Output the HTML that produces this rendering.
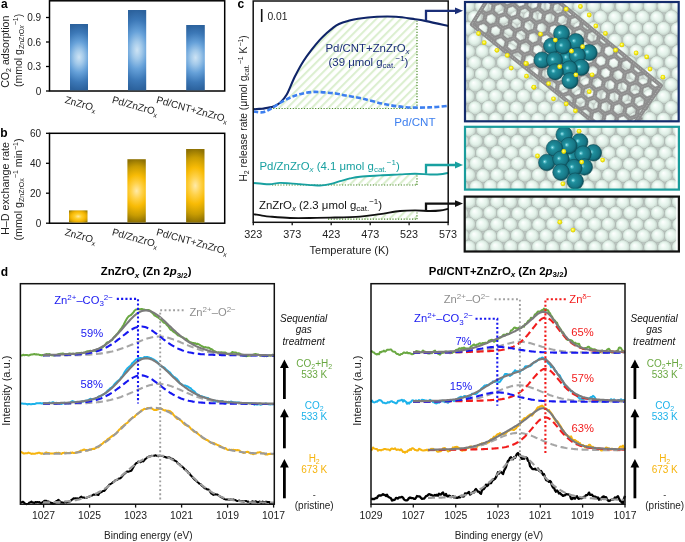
<!DOCTYPE html>
<html><head><meta charset="utf-8"><style>
html,body{margin:0;padding:0;background:#fff;width:685px;height:542px;overflow:hidden}
svg{display:block;will-change:transform}
text{font-family:"Liberation Sans",sans-serif}
</style></head><body>
<svg width="685" height="542" viewBox="0 0 685 542" font-family="Liberation Sans, sans-serif">
<defs>
<radialGradient id="gblue" cx="0.5" cy="0.5" r="1" gradientUnits="objectBoundingBox" gradientTransform="translate(0.5 0.5) scale(1.2 0.5) translate(-0.5 -0.5)">
<stop offset="0" stop-color="#cde3f4"/><stop offset="0.22" stop-color="#a2c9ea"/><stop offset="0.47" stop-color="#66a1d9"/><stop offset="0.76" stop-color="#3c78b7"/><stop offset="1" stop-color="#2c629d"/></radialGradient>
<radialGradient id="ggold" cx="0.5" cy="0.5" r="1" gradientUnits="objectBoundingBox" gradientTransform="translate(0.5 0.5) scale(1.2 0.5) translate(-0.5 -0.5)">
<stop offset="0" stop-color="#ffeaa8"/><stop offset="0.25" stop-color="#ffd24a"/><stop offset="0.5" stop-color="#f8bb05"/><stop offset="0.78" stop-color="#c89c02"/><stop offset="1" stop-color="#8f7203"/></radialGradient>
<radialGradient id="ggold2" cx="0.5" cy="0.5" r="0.62" gradientUnits="objectBoundingBox">
<stop offset="0" stop-color="#ffe8a0"/><stop offset="0.3" stop-color="#ffd02c"/><stop offset="0.62" stop-color="#f7b806"/><stop offset="0.85" stop-color="#d2a002"/><stop offset="1" stop-color="#a08004"/></radialGradient>
<radialGradient id="gsph" cx="0.5" cy="0.5" r="0.5" fx="0.36" fy="0.32">
<stop offset="0" stop-color="#ffffff"/><stop offset="0.3" stop-color="#f1faf5"/><stop offset="0.66" stop-color="#e0f0e7"/><stop offset="0.88" stop-color="#cad8d0"/><stop offset="1" stop-color="#aab5af"/></radialGradient>
<radialGradient id="gpd" cx="0.47" cy="0.45" r="0.56" fx="0.36" fy="0.45">
<stop offset="0" stop-color="#c8f6fa"/><stop offset="0.1" stop-color="#62c4d0"/><stop offset="0.26" stop-color="#20909e"/><stop offset="0.75" stop-color="#167584"/><stop offset="1" stop-color="#0b4954"/></radialGradient>
<radialGradient id="gy" cx="0.45" cy="0.42" r="0.6">
<stop offset="0" stop-color="#fffcb0"/><stop offset="0.45" stop-color="#f7ee14"/><stop offset="1" stop-color="#d2c200"/></radialGradient>
<pattern id="hatch" patternUnits="userSpaceOnUse" width="5.8" height="7" patternTransform="rotate(45)">
<rect x="0" y="0" width="2.1" height="7" fill="#dcefd0"/></pattern>
<pattern id="hex" patternUnits="userSpaceOnUse" width="22.200" height="12.817" patternTransform="rotate(40)">
<path d="M7.40,0.00 L3.70,6.41 L-3.70,6.41 L-7.40,0.00 L-3.70,-6.41 L3.70,-6.41 Z M29.60,0.00 L25.90,6.41 L18.50,6.41 L14.80,0.00 L18.50,-6.41 L25.90,-6.41 Z M7.40,12.82 L3.70,19.23 L-3.70,19.23 L-7.40,12.82 L-3.70,6.41 L3.70,6.41 Z M29.60,12.82 L25.90,19.23 L18.50,19.23 L14.80,12.82 L18.50,6.41 L25.90,6.41 Z M18.50,6.41 L14.80,12.82 L7.40,12.82 L3.70,6.41 L7.40,0.00 L14.80,0.00 Z M18.50,-6.41 L14.80,0.00 L7.40,0.00 L3.70,-6.41 L7.40,-12.82 L14.80,-12.82 Z M18.50,19.23 L14.80,25.63 L7.40,25.63 L3.70,19.23 L7.40,12.82 L14.80,12.82 Z" fill="none" stroke="#8a8a8a" stroke-width="4.4" stroke-linejoin="round"/><path d="M7.40,0.00 L3.70,6.41 L-3.70,6.41 L-7.40,0.00 L-3.70,-6.41 L3.70,-6.41 Z M29.60,0.00 L25.90,6.41 L18.50,6.41 L14.80,0.00 L18.50,-6.41 L25.90,-6.41 Z M7.40,12.82 L3.70,19.23 L-3.70,19.23 L-7.40,12.82 L-3.70,6.41 L3.70,6.41 Z M29.60,12.82 L25.90,19.23 L18.50,19.23 L14.80,12.82 L18.50,6.41 L25.90,6.41 Z M18.50,6.41 L14.80,12.82 L7.40,12.82 L3.70,6.41 L7.40,0.00 L14.80,0.00 Z M18.50,-6.41 L14.80,0.00 L7.40,0.00 L3.70,-6.41 L7.40,-12.82 L14.80,-12.82 Z M18.50,19.23 L14.80,25.63 L7.40,25.63 L3.70,19.23 L7.40,12.82 L14.80,12.82 Z" fill="none" stroke="#a2a2a2" stroke-width="1" stroke-dasharray="1.4,1.6"/></pattern>
<clipPath id="cb1"><rect x="465" y="2" width="214" height="119"/></clipPath>
<clipPath id="cb2"><rect x="465" y="127" width="214" height="63"/></clipPath>
<clipPath id="cb3"><rect x="465" y="197" width="214" height="55"/></clipPath>
<marker id="ah" markerWidth="6" markerHeight="6" refX="5" refY="3" orient="auto" markerUnits="userSpaceOnUse"><path d="M0,0 L6,3 L0,6 z"/></marker>
</defs>
<rect x="49.5" y="0.8" width="175.2" height="90.2" fill="none" stroke="#000" stroke-width="1.5"/>
<line x1="46" y1="91" x2="49.5" y2="91" stroke="#000" stroke-width="1.3"/>
<text x="41.2" y="94.5" font-size="10" text-anchor="end" fill="#222" font-weight="normal" font-style="normal" >0</text>
<line x1="46" y1="66.5" x2="49.5" y2="66.5" stroke="#000" stroke-width="1.3"/>
<text x="41.2" y="70.0" font-size="10" text-anchor="end" fill="#222" font-weight="normal" font-style="normal" >0.3</text>
<line x1="46" y1="42" x2="49.5" y2="42" stroke="#000" stroke-width="1.3"/>
<text x="41.2" y="45.5" font-size="10" text-anchor="end" fill="#222" font-weight="normal" font-style="normal" >0.6</text>
<line x1="46" y1="17.5" x2="49.5" y2="17.5" stroke="#000" stroke-width="1.3"/>
<text x="41.2" y="21.0" font-size="10" text-anchor="end" fill="#222" font-weight="normal" font-style="normal" >0.9</text>
<rect x="70" y="24" width="18" height="66.3" fill="url(#gblue)"/>
<rect x="128" y="10" width="18.19999999999999" height="80.3" fill="url(#gblue)"/>
<rect x="186.2" y="25" width="18.600000000000023" height="65.3" fill="url(#gblue)"/>
<text transform="translate(64.2,102.8) rotate(15.5)" font-size="10" text-anchor="start" fill="#222">ZnZrO<tspan font-size="7" dy="2.5">x</tspan></text>
<text transform="translate(111.4,102.8) rotate(15.5)" font-size="10" text-anchor="start" fill="#222">Pd/ZnZrO<tspan font-size="7" dy="2.5">x</tspan></text>
<text transform="translate(155.8,102.8) rotate(15.5)" font-size="10" text-anchor="start" fill="#222">Pd/CNT+ZnZrO<tspan font-size="7" dy="2.5">x</tspan></text>
<rect x="49.5" y="133.3" width="175.2" height="89.89999999999998" fill="none" stroke="#000" stroke-width="1.5"/>
<line x1="46" y1="223.2" x2="49.5" y2="223.2" stroke="#000" stroke-width="1.3"/>
<text x="41.2" y="226.7" font-size="10" text-anchor="end" fill="#222" font-weight="normal" font-style="normal" >0</text>
<line x1="46" y1="193.2" x2="49.5" y2="193.2" stroke="#000" stroke-width="1.3"/>
<text x="41.2" y="196.7" font-size="10" text-anchor="end" fill="#222" font-weight="normal" font-style="normal" >20</text>
<line x1="46" y1="163.3" x2="49.5" y2="163.3" stroke="#000" stroke-width="1.3"/>
<text x="41.2" y="166.8" font-size="10" text-anchor="end" fill="#222" font-weight="normal" font-style="normal" >40</text>
<line x1="46" y1="133.3" x2="49.5" y2="133.3" stroke="#000" stroke-width="1.3"/>
<text x="41.2" y="136.8" font-size="10" text-anchor="end" fill="#222" font-weight="normal" font-style="normal" >60</text>
<rect x="69" y="210.4" width="18.5" height="12.099999999999984" fill="url(#ggold2)"/>
<rect x="127.4" y="159.2" width="18.400000000000006" height="63.3" fill="url(#ggold)"/>
<rect x="186.1" y="149" width="18.400000000000006" height="73.49999999999999" fill="url(#ggold)"/>
<text transform="translate(64.2,235.0) rotate(15.5)" font-size="10" text-anchor="start" fill="#222">ZnZrO<tspan font-size="7" dy="2.5">x</tspan></text>
<text transform="translate(111.4,235.0) rotate(15.5)" font-size="10" text-anchor="start" fill="#222">Pd/ZnZrO<tspan font-size="7" dy="2.5">x</tspan></text>
<text transform="translate(155.8,235.0) rotate(15.5)" font-size="10" text-anchor="start" fill="#222">Pd/CNT+ZnZrO<tspan font-size="7" dy="2.5">x</tspan></text>
<text x="0.9" y="7.9" font-size="12" text-anchor="start" fill="#000" font-weight="bold" font-style="normal" >a</text>
<text x="0.3" y="136.5" font-size="12" text-anchor="start" fill="#000" font-weight="bold" font-style="normal" >b</text>
<text transform="translate(8.6,51.7) rotate(-90)" font-size="10.6" text-anchor="middle" fill="#222">CO<tspan font-size="7" dy="2.5">2</tspan><tspan dy="-2.5"> adsorption</tspan></text>
<text transform="translate(21.8,50.4) rotate(-90)" font-size="10.5" text-anchor="middle" fill="#222">(mmol g<tspan font-size="7" dy="2.5">ZnZrO<tspan font-style="italic">x</tspan></tspan><tspan font-size="7" dy="-6.5">−1</tspan><tspan dy="4">)</tspan></text>
<text transform="translate(8.8,188.5) rotate(-90)" font-size="10.8" text-anchor="middle" fill="#222">H–D exchange rate</text>
<text transform="translate(21.8,189.5) rotate(-90)" font-size="10.7" text-anchor="middle" fill="#222">(mmol g<tspan font-size="7" dy="2.5">ZnZrOx</tspan><tspan font-size="7" dy="-6.5">−1</tspan><tspan dy="4"> min</tspan><tspan font-size="7" dy="-4">−1</tspan><tspan dy="4">)</tspan></text>
<polygon points="270.0,108.5 270.0,107.2 271.0,107.0 272.0,106.9 273.0,106.7 274.0,106.3 275.0,105.7 276.0,105.1 277.0,104.5 278.0,104.0 279.0,103.4 280.0,102.8 281.0,101.6 282.0,100.4 283.0,99.2 284.0,98.0 285.0,96.7 286.0,95.5 287.0,93.9 288.0,91.7 289.0,89.5 290.0,87.3 291.0,85.1 292.0,82.9 293.0,80.7 294.0,78.5 295.0,76.3 296.0,74.5 297.0,72.7 298.0,70.9 299.0,69.1 300.0,67.3 301.0,65.5 302.0,63.7 303.0,61.9 304.0,60.4 305.0,59.0 306.0,57.6 307.0,56.2 308.0,54.8 309.0,53.4 310.0,52.0 311.0,50.6 312.0,49.3 313.0,48.1 314.0,46.9 315.0,45.7 316.0,44.5 317.0,43.3 318.0,42.1 319.0,40.9 320.0,39.7 321.0,38.7 322.0,37.7 323.0,36.7 324.0,35.8 325.0,34.8 326.0,33.8 327.0,32.9 328.0,32.0 329.0,31.2 330.0,30.3 331.0,29.5 332.0,28.6 333.0,27.8 334.0,27.2 335.0,26.5 336.0,25.9 337.0,25.3 338.0,24.6 339.0,24.0 340.0,23.7 341.0,23.3 342.0,23.0 343.0,22.7 344.0,22.3 345.0,22.0 346.0,21.7 347.0,21.3 348.0,21.0 349.0,20.8 350.0,20.5 351.0,20.3 352.0,20.1 353.0,19.9 354.0,19.6 355.0,19.4 356.0,19.2 357.0,18.9 358.0,18.7 359.0,18.6 360.0,18.5 361.0,18.4 362.0,18.3 363.0,18.2 364.0,18.1 365.0,18.0 366.0,17.9 367.0,17.8 368.0,17.7 369.0,17.6 370.0,17.5 371.0,17.4 372.0,17.3 373.0,17.2 374.0,17.1 375.0,17.0 376.0,16.9 377.0,16.8 378.0,16.8 379.0,16.8 380.0,16.8 381.0,16.8 382.0,16.8 383.0,16.8 384.0,16.8 385.0,16.8 386.0,16.8 387.0,16.8 388.0,16.8 389.0,16.8 390.0,16.8 391.0,16.8 392.0,16.8 393.0,16.8 394.0,16.8 395.0,16.8 396.0,16.8 397.0,16.9 398.0,17.1 399.0,17.2 400.0,17.3 401.0,17.4 402.0,17.6 403.0,17.7 404.0,17.8 405.0,17.9 406.0,18.1 407.0,18.2 408.0,18.3 409.0,18.5 410.0,18.6 411.0,18.7 412.0,18.8 413.0,19.0 414.0,19.1 415.0,19.2 416.0,19.4 417.0,19.5 417.0,108.5" fill="url(#hatch)"/>
<polygon points="318.0,185.0 318.0,185.0 319.0,185.0 320.0,185.0 321.0,185.0 322.0,185.0 323.0,185.0 324.0,185.0 325.0,184.9 326.0,184.7 327.0,184.6 328.0,184.4 329.0,184.2 330.0,184.1 331.0,183.9 332.0,183.6 333.0,183.3 334.0,183.0 335.0,182.7 336.0,182.4 337.0,182.1 338.0,181.8 339.0,181.5 340.0,181.2 341.0,180.9 342.0,180.6 343.0,180.4 344.0,180.1 345.0,179.8 346.0,179.5 347.0,179.2 348.0,179.0 349.0,178.7 350.0,178.4 351.0,178.2 352.0,178.1 353.0,177.9 354.0,177.7 355.0,177.6 356.0,177.4 357.0,177.2 358.0,177.0 359.0,176.9 360.0,176.7 361.0,176.6 362.0,176.6 363.0,176.5 364.0,176.4 365.0,176.4 366.0,176.3 367.0,176.2 368.0,176.2 369.0,176.1 370.0,176.1 371.0,176.0 372.0,175.9 373.0,175.9 374.0,175.8 375.0,175.7 376.0,175.7 377.0,175.6 378.0,175.5 379.0,175.5 380.0,175.4 381.0,175.4 382.0,175.3 383.0,175.3 384.0,175.2 385.0,175.2 386.0,175.1 387.0,175.1 388.0,175.0 389.0,175.0 390.0,174.9 391.0,174.9 392.0,174.8 393.0,174.8 394.0,174.7 395.0,174.7 396.0,174.6 397.0,174.6 398.0,174.5 399.0,174.5 400.0,174.4 401.0,174.4 402.0,174.3 403.0,174.3 404.0,174.2 405.0,174.2 406.0,174.1 407.0,174.1 408.0,174.0 409.0,174.0 410.0,173.9 411.0,173.9 412.0,173.8 413.0,173.8 414.0,173.7 415.0,173.7 416.0,173.8 417.0,173.8 417.0,185.0" fill="url(#hatch)"/>
<polygon points="340.0,219.2 340.0,217.3 341.0,217.2 342.0,217.2 343.0,217.2 344.0,217.1 345.0,217.1 346.0,217.1 347.0,217.0 348.0,217.0 349.0,217.0 350.0,216.9 351.0,216.9 352.0,216.9 353.0,216.8 354.0,216.8 355.0,216.8 356.0,216.7 357.0,216.7 358.0,216.7 359.0,216.6 360.0,216.6 361.0,216.5 362.0,216.4 363.0,216.2 364.0,216.1 365.0,216.0 366.0,215.9 367.0,215.7 368.0,215.6 369.0,215.5 370.0,215.4 371.0,215.2 372.0,215.1 373.0,215.0 374.0,214.9 375.0,214.7 376.0,214.6 377.0,214.5 378.0,214.4 379.0,214.2 380.0,214.1 381.0,213.9 382.0,213.8 383.0,213.6 384.0,213.5 385.0,213.3 386.0,213.2 387.0,213.0 388.0,212.9 389.0,212.7 390.0,212.6 391.0,212.4 392.0,212.2 393.0,212.1 394.0,211.9 395.0,211.8 396.0,211.6 397.0,211.5 398.0,211.3 399.0,211.2 400.0,211.0 401.0,211.0 402.0,210.9 403.0,210.9 404.0,210.8 405.0,210.8 406.0,210.8 407.0,210.7 408.0,210.7 409.0,210.6 410.0,210.6 411.0,210.6 412.0,210.5 413.0,210.5 414.0,210.4 415.0,210.4 416.0,210.4 417.0,210.5 417.0,219.2" fill="url(#hatch)"/>
<line x1="253.5" y1="108.5" x2="417" y2="108.5" stroke="#4d8a2c" stroke-width="1.2" stroke-dasharray="1.2,1.6"/>
<line x1="272" y1="185" x2="417" y2="185" stroke="#4d8a2c" stroke-width="1.2" stroke-dasharray="1.2,1.6"/>
<line x1="328" y1="219.2" x2="417" y2="219.2" stroke="#4d8a2c" stroke-width="1.2" stroke-dasharray="1.2,1.6"/>
<line x1="417" y1="108.5" x2="417" y2="21.0499999999693" stroke="#4d8a2c" stroke-width="1.2" stroke-dasharray="1.2,1.6"/>
<line x1="417" y1="185" x2="417" y2="175.30666666665954" stroke="#4d8a2c" stroke-width="1.2" stroke-dasharray="1.2,1.6"/>
<line x1="417" y1="219.2" x2="417" y2="211.97999999999467" stroke="#4d8a2c" stroke-width="1.2" stroke-dasharray="1.2,1.6"/>
<path d="M253.2,109.3 C254.8,109.2 259.3,109.0 262.7,108.6 C266.1,108.1 270.5,107.6 273.4,106.6 C276.3,105.6 277.8,104.8 280.0,102.8 C282.2,100.8 284.1,99.2 286.6,94.8 C289.1,90.4 292.1,82.0 294.9,76.5 C297.7,71.0 300.4,65.9 303.2,61.5 C306.0,57.1 308.7,53.5 311.5,49.9 C314.3,46.3 317.3,42.7 319.8,39.9 C322.3,37.1 324.3,35.3 326.5,33.3 C328.7,31.3 330.9,29.4 333.0,27.8 C335.1,26.2 336.5,25.1 339.0,24.0 C341.5,22.9 344.8,21.9 348.0,21.0 C351.2,20.1 353.2,19.4 358.0,18.7 C362.8,18.0 370.7,17.1 377.0,16.8 C383.3,16.5 389.6,16.4 395.9,16.8 C402.2,17.2 409.8,18.5 414.9,19.2 C420.0,19.9 420.8,20.0 426.3,21.1 C431.8,22.2 444.4,25.1 448.0,25.9" fill="none" stroke="#0f2468" stroke-width="2.1"/>
<path d="M253.2,111.5 C254.8,111.6 259.7,112.8 262.7,112.3 C265.7,111.8 268.0,110.2 271.2,108.5 C274.4,106.8 278.2,103.9 281.8,101.9 C285.4,99.9 289.0,98.0 292.5,96.6 C296.0,95.2 299.5,94.2 303.0,93.4 C306.5,92.6 310.1,92.1 313.7,91.9 C317.2,91.7 320.8,92.2 324.3,92.4 C327.9,92.7 331.5,92.9 335.0,93.4 C338.5,93.9 341.0,94.7 345.5,95.5 C350.0,96.3 355.6,97.1 362.0,98.5 C368.4,99.9 376.7,102.5 384.0,104.0 C391.3,105.5 398.6,106.6 406.0,107.2 C413.4,107.8 421.6,107.6 428.6,107.4 C435.6,107.2 444.8,106.1 448.0,105.8" fill="none" stroke="#3d7fef" stroke-width="2.6" stroke-dasharray="5,2.2"/>
<path d="M253.2,183.0 C254.7,183.1 259.2,183.6 262.0,183.8 C264.8,184.0 267.0,184.3 270.0,184.2 C273.0,184.0 276.7,183.0 280.0,182.9 C283.3,182.8 286.7,183.2 290.0,183.4 C293.3,183.6 296.3,183.9 300.0,184.2 C303.7,184.5 308.3,184.9 312.0,185.1 C315.7,185.3 318.8,185.6 322.0,185.4 C325.2,185.2 328.0,184.6 331.0,183.9 C334.0,183.2 336.8,182.1 340.0,181.2 C343.2,180.3 346.7,179.2 350.0,178.4 C353.3,177.7 355.0,177.2 360.0,176.7 C365.0,176.2 373.3,175.8 380.0,175.4 C386.7,175.0 394.2,174.7 400.0,174.4 C405.8,174.1 410.0,173.7 415.0,173.7 C420.0,173.7 425.8,174.4 430.0,174.5 C434.2,174.6 437.0,174.6 440.0,174.3 C443.0,174.1 446.7,173.2 448.0,173.0" fill="none" stroke="#18a0a0" stroke-width="1.9"/>
<path d="M253.2,214.1 C254.7,214.3 259.2,215.2 262.0,215.6 C264.8,216.0 265.3,216.2 270.0,216.6 C274.7,217.0 283.3,217.8 290.0,218.0 C296.7,218.2 303.3,218.1 310.0,218.0 C316.7,217.9 321.7,217.8 330.0,217.6 C338.3,217.4 351.7,217.2 360.0,216.6 C368.3,216.0 373.3,215.0 380.0,214.1 C386.7,213.2 394.2,211.6 400.0,211.0 C405.8,210.4 410.0,210.4 415.0,210.4 C420.0,210.4 425.8,211.0 430.0,211.0 C434.2,211.0 437.0,210.9 440.0,210.5 C443.0,210.1 446.7,209.1 448.0,208.8" fill="none" stroke="#111" stroke-width="1.9"/>
<rect x="253.2" y="1" width="195" height="221.3" fill="none" stroke="#111" stroke-width="1.5"/>
<line x1="253.3" y1="222.3" x2="253.3" y2="225.2" stroke="#111" stroke-width="1.3"/>
<text x="253.3" y="237.8" font-size="10.8" text-anchor="middle" fill="#222" font-weight="normal" font-style="normal" >323</text>
<line x1="292.2" y1="222.3" x2="292.2" y2="225.2" stroke="#111" stroke-width="1.3"/>
<text x="292.2" y="237.8" font-size="10.8" text-anchor="middle" fill="#222" font-weight="normal" font-style="normal" >373</text>
<line x1="331.2" y1="222.3" x2="331.2" y2="225.2" stroke="#111" stroke-width="1.3"/>
<text x="331.2" y="237.8" font-size="10.8" text-anchor="middle" fill="#222" font-weight="normal" font-style="normal" >423</text>
<line x1="370.2" y1="222.3" x2="370.2" y2="225.2" stroke="#111" stroke-width="1.3"/>
<text x="370.2" y="237.8" font-size="10.8" text-anchor="middle" fill="#222" font-weight="normal" font-style="normal" >473</text>
<line x1="409.1" y1="222.3" x2="409.1" y2="225.2" stroke="#111" stroke-width="1.3"/>
<text x="409.1" y="237.8" font-size="10.8" text-anchor="middle" fill="#222" font-weight="normal" font-style="normal" >523</text>
<line x1="448.1" y1="222.3" x2="448.1" y2="225.2" stroke="#111" stroke-width="1.3"/>
<text x="448.1" y="237.8" font-size="10.8" text-anchor="middle" fill="#222" font-weight="normal" font-style="normal" >573</text>
<text x="349.3" y="254.4" font-size="11" text-anchor="middle" fill="#222" font-weight="normal" font-style="normal" >Temperature (K)</text>
<text x="237.6" y="7.7" font-size="12" text-anchor="start" fill="#000" font-weight="bold" font-style="normal" >c</text>
<line x1="261.7" y1="9" x2="261.7" y2="22" stroke="#111" stroke-width="1.6"/>
<text x="267.4" y="19.6" font-size="10.3" text-anchor="start" fill="#222" font-weight="normal" font-style="normal" >0.01</text>
<text transform="translate(246.8,108.4) rotate(-90)" font-size="10.3" text-anchor="middle" fill="#222">H<tspan font-size="7" dy="2.5">2</tspan><tspan dy="-2.5"> release rate (μmol g</tspan><tspan font-size="7" dy="2.5">cat.</tspan><tspan font-size="7" dy="-6.5">−1</tspan><tspan dy="4"> K</tspan><tspan font-size="7" dy="-4">−1</tspan><tspan dy="4">)</tspan></text>
<text x="325.5" y="51.9" font-size="11.4" fill="#1b2f78">Pd/CNT+ZnZrO<tspan font-size="8" dy="2.5" font-style="italic">x</tspan></text>
<text x="328.5" y="65.5" font-size="11.4" fill="#1b2f78">(39 μmol g<tspan font-size="8" dy="2.5">cat.</tspan><tspan font-size="8" dy="-7">−1</tspan><tspan dy="4.5">)</tspan></text>
<text x="394.3" y="125.8" font-size="11.6" text-anchor="start" fill="#3d7fef" font-weight="normal" font-style="normal" >Pd/CNT</text>
<text x="259.5" y="169.9" font-size="11.4" fill="#18a0a0">Pd/ZnZrO<tspan font-size="8" dy="2.5" font-style="italic">x</tspan><tspan dy="-2.5"> (4.1 μmol g</tspan><tspan font-size="8" dy="2.5">cat.</tspan><tspan font-size="8" dy="-7">−1</tspan><tspan dy="4.5">)</tspan></text>
<text x="259" y="208.5" font-size="11.4" fill="#111">ZnZrO<tspan font-size="8" dy="2.5" font-style="italic">x</tspan><tspan dy="-2.5"> (2.3 μmol g</tspan><tspan font-size="8" dy="2.5">cat.</tspan><tspan font-size="8" dy="-7">−1</tspan><tspan dy="4.5">)</tspan></text>
<path d="M426,20.8 L426,10.8 L456,10.8" fill="none" stroke="#1b2f78" stroke-width="2.3"/>
<path d="M455,7.4 L463,10.8 L455,14.200000000000001 z" fill="#1b2f78"/>
<path d="M426,173.8 L426,165 L456,165" fill="none" stroke="#18a0a0" stroke-width="2.3"/>
<path d="M455,161.6 L463,165 L455,168.4 z" fill="#18a0a0"/>
<path d="M426,211 L426,203.6 L456,203.6" fill="none" stroke="#111" stroke-width="2.3"/>
<path d="M455,200.2 L463,203.6 L455,207.0 z" fill="#111"/>
<g clip-path="url(#cb1)">
<rect x="465" y="2" width="214" height="119.3" fill="#b9c3be"/>
<circle cx="460.8" cy="-5.6" r="7.1" fill="url(#gsph)"/>
<circle cx="475.2" cy="-5.7" r="7.1" fill="url(#gsph)"/>
<circle cx="489.0" cy="-5.4" r="7.1" fill="url(#gsph)"/>
<circle cx="502.6" cy="-5.3" r="7.1" fill="url(#gsph)"/>
<circle cx="516.5" cy="-5.4" r="7.1" fill="url(#gsph)"/>
<circle cx="530.6" cy="-5.7" r="7.1" fill="url(#gsph)"/>
<circle cx="544.9" cy="-5.0" r="7.1" fill="url(#gsph)"/>
<circle cx="558.6" cy="-5.6" r="7.1" fill="url(#gsph)"/>
<circle cx="573.1" cy="-4.9" r="7.1" fill="url(#gsph)"/>
<circle cx="587.1" cy="-5.4" r="7.1" fill="url(#gsph)"/>
<circle cx="601.5" cy="-5.8" r="7.1" fill="url(#gsph)"/>
<circle cx="615.4" cy="-5.5" r="7.1" fill="url(#gsph)"/>
<circle cx="628.6" cy="-5.7" r="7.1" fill="url(#gsph)"/>
<circle cx="642.8" cy="-5.0" r="7.1" fill="url(#gsph)"/>
<circle cx="656.7" cy="-5.2" r="7.1" fill="url(#gsph)"/>
<circle cx="671.1" cy="-5.4" r="7.1" fill="url(#gsph)"/>
<circle cx="685.0" cy="-5.7" r="7.1" fill="url(#gsph)"/>
<circle cx="453.6" cy="5.7" r="7.1" fill="url(#gsph)"/>
<circle cx="468.2" cy="5.9" r="7.1" fill="url(#gsph)"/>
<circle cx="481.8" cy="6.1" r="7.1" fill="url(#gsph)"/>
<circle cx="496.0" cy="5.8" r="7.1" fill="url(#gsph)"/>
<circle cx="510.3" cy="6.2" r="7.1" fill="url(#gsph)"/>
<circle cx="523.7" cy="6.1" r="7.1" fill="url(#gsph)"/>
<circle cx="538.0" cy="6.4" r="7.1" fill="url(#gsph)"/>
<circle cx="552.2" cy="5.8" r="7.1" fill="url(#gsph)"/>
<circle cx="566.5" cy="5.6" r="7.1" fill="url(#gsph)"/>
<circle cx="579.9" cy="6.3" r="7.1" fill="url(#gsph)"/>
<circle cx="593.7" cy="6.0" r="7.1" fill="url(#gsph)"/>
<circle cx="607.5" cy="6.2" r="7.1" fill="url(#gsph)"/>
<circle cx="622.3" cy="6.1" r="7.1" fill="url(#gsph)"/>
<circle cx="636.4" cy="5.8" r="7.1" fill="url(#gsph)"/>
<circle cx="650.2" cy="6.1" r="7.1" fill="url(#gsph)"/>
<circle cx="664.1" cy="6.0" r="7.1" fill="url(#gsph)"/>
<circle cx="678.3" cy="6.4" r="7.1" fill="url(#gsph)"/>
<circle cx="461.0" cy="17.5" r="7.1" fill="url(#gsph)"/>
<circle cx="474.6" cy="17.5" r="7.1" fill="url(#gsph)"/>
<circle cx="489.1" cy="17.8" r="7.1" fill="url(#gsph)"/>
<circle cx="503.3" cy="17.1" r="7.1" fill="url(#gsph)"/>
<circle cx="516.9" cy="17.5" r="7.1" fill="url(#gsph)"/>
<circle cx="530.5" cy="17.3" r="7.1" fill="url(#gsph)"/>
<circle cx="544.7" cy="16.9" r="7.1" fill="url(#gsph)"/>
<circle cx="558.6" cy="17.6" r="7.1" fill="url(#gsph)"/>
<circle cx="572.6" cy="17.0" r="7.1" fill="url(#gsph)"/>
<circle cx="586.9" cy="17.7" r="7.1" fill="url(#gsph)"/>
<circle cx="600.6" cy="17.2" r="7.1" fill="url(#gsph)"/>
<circle cx="615.0" cy="17.7" r="7.1" fill="url(#gsph)"/>
<circle cx="629.3" cy="17.7" r="7.1" fill="url(#gsph)"/>
<circle cx="642.8" cy="17.2" r="7.1" fill="url(#gsph)"/>
<circle cx="656.9" cy="17.7" r="7.1" fill="url(#gsph)"/>
<circle cx="671.5" cy="17.0" r="7.1" fill="url(#gsph)"/>
<circle cx="684.7" cy="17.0" r="7.1" fill="url(#gsph)"/>
<circle cx="453.7" cy="28.6" r="7.1" fill="url(#gsph)"/>
<circle cx="468.1" cy="28.4" r="7.1" fill="url(#gsph)"/>
<circle cx="481.5" cy="28.5" r="7.1" fill="url(#gsph)"/>
<circle cx="495.9" cy="28.7" r="7.1" fill="url(#gsph)"/>
<circle cx="510.5" cy="28.8" r="7.1" fill="url(#gsph)"/>
<circle cx="524.0" cy="28.7" r="7.1" fill="url(#gsph)"/>
<circle cx="538.2" cy="28.2" r="7.1" fill="url(#gsph)"/>
<circle cx="552.4" cy="28.9" r="7.1" fill="url(#gsph)"/>
<circle cx="566.4" cy="28.9" r="7.1" fill="url(#gsph)"/>
<circle cx="579.9" cy="28.5" r="7.1" fill="url(#gsph)"/>
<circle cx="593.6" cy="28.7" r="7.1" fill="url(#gsph)"/>
<circle cx="607.6" cy="28.2" r="7.1" fill="url(#gsph)"/>
<circle cx="621.7" cy="28.3" r="7.1" fill="url(#gsph)"/>
<circle cx="635.8" cy="28.2" r="7.1" fill="url(#gsph)"/>
<circle cx="649.5" cy="28.3" r="7.1" fill="url(#gsph)"/>
<circle cx="663.6" cy="28.5" r="7.1" fill="url(#gsph)"/>
<circle cx="677.5" cy="29.0" r="7.1" fill="url(#gsph)"/>
<circle cx="461.1" cy="39.5" r="7.1" fill="url(#gsph)"/>
<circle cx="474.8" cy="39.7" r="7.1" fill="url(#gsph)"/>
<circle cx="488.9" cy="39.5" r="7.1" fill="url(#gsph)"/>
<circle cx="503.3" cy="40.4" r="7.1" fill="url(#gsph)"/>
<circle cx="517.0" cy="39.9" r="7.1" fill="url(#gsph)"/>
<circle cx="530.6" cy="39.5" r="7.1" fill="url(#gsph)"/>
<circle cx="544.8" cy="39.7" r="7.1" fill="url(#gsph)"/>
<circle cx="559.3" cy="39.6" r="7.1" fill="url(#gsph)"/>
<circle cx="572.5" cy="40.4" r="7.1" fill="url(#gsph)"/>
<circle cx="587.0" cy="39.5" r="7.1" fill="url(#gsph)"/>
<circle cx="601.0" cy="39.4" r="7.1" fill="url(#gsph)"/>
<circle cx="615.0" cy="40.4" r="7.1" fill="url(#gsph)"/>
<circle cx="629.4" cy="40.1" r="7.1" fill="url(#gsph)"/>
<circle cx="642.8" cy="39.8" r="7.1" fill="url(#gsph)"/>
<circle cx="656.7" cy="40.2" r="7.1" fill="url(#gsph)"/>
<circle cx="671.0" cy="40.2" r="7.1" fill="url(#gsph)"/>
<circle cx="684.8" cy="39.6" r="7.1" fill="url(#gsph)"/>
<circle cx="454.3" cy="51.7" r="7.1" fill="url(#gsph)"/>
<circle cx="468.4" cy="51.5" r="7.1" fill="url(#gsph)"/>
<circle cx="482.3" cy="51.4" r="7.1" fill="url(#gsph)"/>
<circle cx="495.7" cy="51.2" r="7.1" fill="url(#gsph)"/>
<circle cx="509.9" cy="50.7" r="7.1" fill="url(#gsph)"/>
<circle cx="523.5" cy="51.0" r="7.1" fill="url(#gsph)"/>
<circle cx="537.8" cy="51.4" r="7.1" fill="url(#gsph)"/>
<circle cx="552.5" cy="51.1" r="7.1" fill="url(#gsph)"/>
<circle cx="566.4" cy="51.7" r="7.1" fill="url(#gsph)"/>
<circle cx="580.5" cy="51.1" r="7.1" fill="url(#gsph)"/>
<circle cx="593.7" cy="50.9" r="7.1" fill="url(#gsph)"/>
<circle cx="607.7" cy="50.9" r="7.1" fill="url(#gsph)"/>
<circle cx="622.1" cy="51.6" r="7.1" fill="url(#gsph)"/>
<circle cx="636.3" cy="51.2" r="7.1" fill="url(#gsph)"/>
<circle cx="650.2" cy="51.5" r="7.1" fill="url(#gsph)"/>
<circle cx="663.6" cy="51.4" r="7.1" fill="url(#gsph)"/>
<circle cx="678.4" cy="51.5" r="7.1" fill="url(#gsph)"/>
<circle cx="461.3" cy="62.5" r="7.1" fill="url(#gsph)"/>
<circle cx="474.7" cy="62.8" r="7.1" fill="url(#gsph)"/>
<circle cx="488.8" cy="62.8" r="7.1" fill="url(#gsph)"/>
<circle cx="503.5" cy="62.4" r="7.1" fill="url(#gsph)"/>
<circle cx="516.9" cy="62.9" r="7.1" fill="url(#gsph)"/>
<circle cx="531.2" cy="62.2" r="7.1" fill="url(#gsph)"/>
<circle cx="544.6" cy="62.2" r="7.1" fill="url(#gsph)"/>
<circle cx="559.4" cy="62.8" r="7.1" fill="url(#gsph)"/>
<circle cx="572.6" cy="62.8" r="7.1" fill="url(#gsph)"/>
<circle cx="587.5" cy="62.7" r="7.1" fill="url(#gsph)"/>
<circle cx="600.9" cy="62.5" r="7.1" fill="url(#gsph)"/>
<circle cx="614.6" cy="62.0" r="7.1" fill="url(#gsph)"/>
<circle cx="629.5" cy="62.6" r="7.1" fill="url(#gsph)"/>
<circle cx="643.0" cy="62.9" r="7.1" fill="url(#gsph)"/>
<circle cx="656.9" cy="62.9" r="7.1" fill="url(#gsph)"/>
<circle cx="671.3" cy="62.2" r="7.1" fill="url(#gsph)"/>
<circle cx="684.8" cy="62.3" r="7.1" fill="url(#gsph)"/>
<circle cx="453.7" cy="73.9" r="7.1" fill="url(#gsph)"/>
<circle cx="467.8" cy="73.7" r="7.1" fill="url(#gsph)"/>
<circle cx="481.6" cy="74.2" r="7.1" fill="url(#gsph)"/>
<circle cx="495.9" cy="73.8" r="7.1" fill="url(#gsph)"/>
<circle cx="510.1" cy="74.2" r="7.1" fill="url(#gsph)"/>
<circle cx="523.9" cy="74.2" r="7.1" fill="url(#gsph)"/>
<circle cx="538.0" cy="73.8" r="7.1" fill="url(#gsph)"/>
<circle cx="552.0" cy="73.3" r="7.1" fill="url(#gsph)"/>
<circle cx="565.9" cy="73.5" r="7.1" fill="url(#gsph)"/>
<circle cx="579.5" cy="74.1" r="7.1" fill="url(#gsph)"/>
<circle cx="593.7" cy="73.8" r="7.1" fill="url(#gsph)"/>
<circle cx="608.2" cy="73.9" r="7.1" fill="url(#gsph)"/>
<circle cx="621.8" cy="73.8" r="7.1" fill="url(#gsph)"/>
<circle cx="636.1" cy="74.1" r="7.1" fill="url(#gsph)"/>
<circle cx="649.6" cy="73.9" r="7.1" fill="url(#gsph)"/>
<circle cx="663.7" cy="73.6" r="7.1" fill="url(#gsph)"/>
<circle cx="678.3" cy="73.8" r="7.1" fill="url(#gsph)"/>
<circle cx="461.1" cy="85.4" r="7.1" fill="url(#gsph)"/>
<circle cx="475.4" cy="85.0" r="7.1" fill="url(#gsph)"/>
<circle cx="489.1" cy="85.1" r="7.1" fill="url(#gsph)"/>
<circle cx="503.0" cy="85.3" r="7.1" fill="url(#gsph)"/>
<circle cx="517.0" cy="85.1" r="7.1" fill="url(#gsph)"/>
<circle cx="531.0" cy="85.5" r="7.1" fill="url(#gsph)"/>
<circle cx="545.2" cy="85.5" r="7.1" fill="url(#gsph)"/>
<circle cx="559.4" cy="84.9" r="7.1" fill="url(#gsph)"/>
<circle cx="573.1" cy="85.5" r="7.1" fill="url(#gsph)"/>
<circle cx="587.3" cy="84.7" r="7.1" fill="url(#gsph)"/>
<circle cx="600.6" cy="85.0" r="7.1" fill="url(#gsph)"/>
<circle cx="614.6" cy="84.8" r="7.1" fill="url(#gsph)"/>
<circle cx="628.6" cy="85.3" r="7.1" fill="url(#gsph)"/>
<circle cx="643.3" cy="85.5" r="7.1" fill="url(#gsph)"/>
<circle cx="656.7" cy="85.3" r="7.1" fill="url(#gsph)"/>
<circle cx="671.2" cy="84.7" r="7.1" fill="url(#gsph)"/>
<circle cx="685.4" cy="85.6" r="7.1" fill="url(#gsph)"/>
<circle cx="453.7" cy="96.9" r="7.1" fill="url(#gsph)"/>
<circle cx="467.9" cy="96.4" r="7.1" fill="url(#gsph)"/>
<circle cx="482.5" cy="96.7" r="7.1" fill="url(#gsph)"/>
<circle cx="495.7" cy="96.3" r="7.1" fill="url(#gsph)"/>
<circle cx="510.0" cy="96.2" r="7.1" fill="url(#gsph)"/>
<circle cx="523.7" cy="96.2" r="7.1" fill="url(#gsph)"/>
<circle cx="538.2" cy="95.9" r="7.1" fill="url(#gsph)"/>
<circle cx="552.1" cy="96.3" r="7.1" fill="url(#gsph)"/>
<circle cx="565.5" cy="96.2" r="7.1" fill="url(#gsph)"/>
<circle cx="580.1" cy="96.4" r="7.1" fill="url(#gsph)"/>
<circle cx="593.6" cy="96.9" r="7.1" fill="url(#gsph)"/>
<circle cx="608.3" cy="96.9" r="7.1" fill="url(#gsph)"/>
<circle cx="621.6" cy="96.2" r="7.1" fill="url(#gsph)"/>
<circle cx="635.5" cy="96.7" r="7.1" fill="url(#gsph)"/>
<circle cx="649.8" cy="96.0" r="7.1" fill="url(#gsph)"/>
<circle cx="663.9" cy="96.8" r="7.1" fill="url(#gsph)"/>
<circle cx="678.3" cy="96.2" r="7.1" fill="url(#gsph)"/>
<circle cx="460.6" cy="108.1" r="7.1" fill="url(#gsph)"/>
<circle cx="475.1" cy="107.9" r="7.1" fill="url(#gsph)"/>
<circle cx="488.6" cy="107.3" r="7.1" fill="url(#gsph)"/>
<circle cx="503.2" cy="107.6" r="7.1" fill="url(#gsph)"/>
<circle cx="516.6" cy="108.1" r="7.1" fill="url(#gsph)"/>
<circle cx="531.1" cy="108.0" r="7.1" fill="url(#gsph)"/>
<circle cx="544.6" cy="108.1" r="7.1" fill="url(#gsph)"/>
<circle cx="558.6" cy="108.1" r="7.1" fill="url(#gsph)"/>
<circle cx="573.0" cy="107.5" r="7.1" fill="url(#gsph)"/>
<circle cx="587.1" cy="108.1" r="7.1" fill="url(#gsph)"/>
<circle cx="600.8" cy="107.3" r="7.1" fill="url(#gsph)"/>
<circle cx="615.0" cy="107.4" r="7.1" fill="url(#gsph)"/>
<circle cx="628.6" cy="107.4" r="7.1" fill="url(#gsph)"/>
<circle cx="642.6" cy="107.4" r="7.1" fill="url(#gsph)"/>
<circle cx="656.8" cy="107.5" r="7.1" fill="url(#gsph)"/>
<circle cx="671.3" cy="107.5" r="7.1" fill="url(#gsph)"/>
<circle cx="685.0" cy="107.4" r="7.1" fill="url(#gsph)"/>
<circle cx="453.8" cy="118.5" r="7.1" fill="url(#gsph)"/>
<circle cx="467.8" cy="118.5" r="7.1" fill="url(#gsph)"/>
<circle cx="482.2" cy="119.1" r="7.1" fill="url(#gsph)"/>
<circle cx="495.7" cy="119.0" r="7.1" fill="url(#gsph)"/>
<circle cx="510.4" cy="118.6" r="7.1" fill="url(#gsph)"/>
<circle cx="524.3" cy="118.9" r="7.1" fill="url(#gsph)"/>
<circle cx="538.0" cy="119.3" r="7.1" fill="url(#gsph)"/>
<circle cx="551.9" cy="119.0" r="7.1" fill="url(#gsph)"/>
<circle cx="566.2" cy="119.5" r="7.1" fill="url(#gsph)"/>
<circle cx="579.8" cy="119.3" r="7.1" fill="url(#gsph)"/>
<circle cx="594.2" cy="119.1" r="7.1" fill="url(#gsph)"/>
<circle cx="607.9" cy="118.8" r="7.1" fill="url(#gsph)"/>
<circle cx="621.6" cy="118.6" r="7.1" fill="url(#gsph)"/>
<circle cx="635.6" cy="119.2" r="7.1" fill="url(#gsph)"/>
<circle cx="649.8" cy="118.7" r="7.1" fill="url(#gsph)"/>
<circle cx="663.6" cy="119.3" r="7.1" fill="url(#gsph)"/>
<circle cx="678.4" cy="119.2" r="7.1" fill="url(#gsph)"/>
<circle cx="460.8" cy="130.0" r="7.1" fill="url(#gsph)"/>
<circle cx="474.8" cy="130.3" r="7.1" fill="url(#gsph)"/>
<circle cx="488.7" cy="130.2" r="7.1" fill="url(#gsph)"/>
<circle cx="502.8" cy="130.8" r="7.1" fill="url(#gsph)"/>
<circle cx="517.5" cy="130.3" r="7.1" fill="url(#gsph)"/>
<circle cx="530.7" cy="130.8" r="7.1" fill="url(#gsph)"/>
<circle cx="544.8" cy="130.2" r="7.1" fill="url(#gsph)"/>
<circle cx="558.5" cy="130.2" r="7.1" fill="url(#gsph)"/>
<circle cx="573.0" cy="130.3" r="7.1" fill="url(#gsph)"/>
<circle cx="586.7" cy="130.3" r="7.1" fill="url(#gsph)"/>
<circle cx="600.5" cy="130.1" r="7.1" fill="url(#gsph)"/>
<circle cx="614.6" cy="130.2" r="7.1" fill="url(#gsph)"/>
<circle cx="628.5" cy="129.8" r="7.1" fill="url(#gsph)"/>
<circle cx="642.8" cy="130.0" r="7.1" fill="url(#gsph)"/>
<circle cx="657.1" cy="130.3" r="7.1" fill="url(#gsph)"/>
<circle cx="671.3" cy="130.5" r="7.1" fill="url(#gsph)"/>
<circle cx="685.2" cy="130.7" r="7.1" fill="url(#gsph)"/>
</g>
<g clip-path="url(#cb1)">
<polygon points="552.0,-4.0 559.0,2.0 661.0,85.6 661.0,85.6 636.0,130.0 603.0,130.0 592.5,121.3 540.0,79.3 511.6,56.6 471.8,24.5 486.0,2.0 486.0,-4.0" fill="#ffffff" fill-opacity="0.2"/>
<polygon points="552.0,-4.0 559.0,2.0 661.0,85.6 661.0,85.6 636.0,130.0 603.0,130.0 592.5,121.3 540.0,79.3 511.6,56.6 471.8,24.5 486.0,2.0 486.0,-4.0" fill="url(#hex)"/>
<polyline points="486.0,-4.0 486.0,2.0 471.8,24.5 511.6,56.6 540.0,79.3 592.5,121.3 603.0,130.0" stroke="#8d8d8d" stroke-width="4" fill="none" stroke-linejoin="round"/>
<polyline points="552.0,-4.0 559.0,2.0 661.0,85.6 661.0,85.6 636.0,121.3 636.0,130.0" stroke="#8d8d8d" stroke-width="4" fill="none" stroke-linejoin="round"/>
<polyline points="486.0,-4.0 486.0,2.0 471.8,24.5 511.6,56.6 540.0,79.3 592.5,121.3 603.0,130.0" stroke="#b0b0b0" stroke-width="1" stroke-dasharray="1.5,1.5" fill="none"/>
<polyline points="552.0,-4.0 559.0,2.0 661.0,85.6 661.0,85.6 636.0,121.3 636.0,130.0" stroke="#b0b0b0" stroke-width="1" stroke-dasharray="1.5,1.5" fill="none"/>
<circle cx="567.8" cy="57.8" r="8.1" fill="url(#gpd)" stroke="#0b4650" stroke-width="0.5"/>
<circle cx="561.6" cy="33.4" r="8.1" fill="url(#gpd)" stroke="#0b4650" stroke-width="0.5"/>
<circle cx="575.9" cy="41.6" r="8.1" fill="url(#gpd)" stroke="#0b4650" stroke-width="0.5"/>
<circle cx="551.6" cy="46" r="8.1" fill="url(#gpd)" stroke="#0b4650" stroke-width="0.5"/>
<circle cx="563.1" cy="46" r="8.1" fill="url(#gpd)" stroke="#0b4650" stroke-width="0.5"/>
<circle cx="589.2" cy="52.6" r="8.1" fill="url(#gpd)" stroke="#0b4650" stroke-width="0.5"/>
<circle cx="577.4" cy="55.6" r="8.1" fill="url(#gpd)" stroke="#0b4650" stroke-width="0.5"/>
<circle cx="542" cy="60" r="8.1" fill="url(#gpd)" stroke="#0b4650" stroke-width="0.5"/>
<circle cx="554.5" cy="60" r="8.1" fill="url(#gpd)" stroke="#0b4650" stroke-width="0.5"/>
<circle cx="581.1" cy="67.4" r="8.1" fill="url(#gpd)" stroke="#0b4650" stroke-width="0.5"/>
<circle cx="569.3" cy="68.9" r="8.1" fill="url(#gpd)" stroke="#0b4650" stroke-width="0.5"/>
<circle cx="555.3" cy="71.8" r="8.1" fill="url(#gpd)" stroke="#0b4650" stroke-width="0.5"/>
<circle cx="570" cy="80.7" r="8.1" fill="url(#gpd)" stroke="#0b4650" stroke-width="0.5"/>
<circle cx="540.5" cy="34.2" r="2.4" fill="url(#gy)"/>
<circle cx="555.3" cy="40.1" r="2.4" fill="url(#gy)"/>
<circle cx="571.5" cy="51.2" r="2.4" fill="url(#gy)"/>
<circle cx="582.6" cy="46.7" r="2.4" fill="url(#gy)"/>
<circle cx="559.7" cy="66.7" r="2.4" fill="url(#gy)"/>
<circle cx="575.9" cy="74.8" r="2.4" fill="url(#gy)"/>
<circle cx="595.8" cy="26" r="2.4" fill="url(#gy)"/>
<circle cx="605.4" cy="33.4" r="2.4" fill="url(#gy)"/>
<circle cx="526.5" cy="63.7" r="2.4" fill="url(#gy)"/>
<circle cx="526.5" cy="76.2" r="2.4" fill="url(#gy)"/>
<circle cx="548.6" cy="83.6" r="2.4" fill="url(#gy)"/>
<circle cx="533.9" cy="87.3" r="2.4" fill="url(#gy)"/>
<circle cx="592.1" cy="74.8" r="2.4" fill="url(#gy)"/>
<circle cx="589.2" cy="91.7" r="2.4" fill="url(#gy)"/>
<circle cx="589.2" cy="15" r="2.4" fill="url(#gy)"/>
<circle cx="478.5" cy="33.5" r="2.4" fill="url(#gy)"/>
<circle cx="484.2" cy="42.7" r="2.4" fill="url(#gy)"/>
<circle cx="496.9" cy="50.3" r="2.4" fill="url(#gy)"/>
<circle cx="507.3" cy="55.4" r="2.4" fill="url(#gy)"/>
<circle cx="511.2" cy="68.1" r="2.4" fill="url(#gy)"/>
<circle cx="525.8" cy="63.5" r="2.4" fill="url(#gy)"/>
<circle cx="533.8" cy="87.2" r="2.4" fill="url(#gy)"/>
<circle cx="553.5" cy="98.8" r="2.4" fill="url(#gy)"/>
<circle cx="566.2" cy="103.9" r="2.4" fill="url(#gy)"/>
<circle cx="575.4" cy="110.8" r="2.4" fill="url(#gy)"/>
<circle cx="566.2" cy="9.2" r="2.4" fill="url(#gy)"/>
<circle cx="580.4" cy="6.5" r="2.4" fill="url(#gy)"/>
<circle cx="621.9" cy="44.9" r="2.4" fill="url(#gy)"/>
<circle cx="615.6" cy="50.2" r="2.4" fill="url(#gy)"/>
<circle cx="636.1" cy="53" r="2.4" fill="url(#gy)"/>
<circle cx="646.7" cy="56.9" r="2.4" fill="url(#gy)"/>
<circle cx="650" cy="69.1" r="2.4" fill="url(#gy)"/>
<circle cx="662.9" cy="77.2" r="2.4" fill="url(#gy)"/>
</g>
<rect x="465" y="2" width="213.7" height="119.3" fill="none" stroke="#142c6c" stroke-width="2.2"/>
<g clip-path="url(#cb2)">
<rect x="465" y="126.8" width="214" height="62.8" fill="#b9c3be"/>
<circle cx="461.9" cy="118.6" r="7.1" fill="url(#gsph)"/>
<circle cx="476.5" cy="118.4" r="7.1" fill="url(#gsph)"/>
<circle cx="490.2" cy="118.9" r="7.1" fill="url(#gsph)"/>
<circle cx="503.5" cy="119.1" r="7.1" fill="url(#gsph)"/>
<circle cx="518.4" cy="118.9" r="7.1" fill="url(#gsph)"/>
<circle cx="532.2" cy="119.1" r="7.1" fill="url(#gsph)"/>
<circle cx="545.6" cy="118.8" r="7.1" fill="url(#gsph)"/>
<circle cx="560.0" cy="119.1" r="7.1" fill="url(#gsph)"/>
<circle cx="574.3" cy="119.1" r="7.1" fill="url(#gsph)"/>
<circle cx="588.1" cy="119.2" r="7.1" fill="url(#gsph)"/>
<circle cx="602.2" cy="119.0" r="7.1" fill="url(#gsph)"/>
<circle cx="615.7" cy="118.3" r="7.1" fill="url(#gsph)"/>
<circle cx="629.6" cy="118.7" r="7.1" fill="url(#gsph)"/>
<circle cx="643.6" cy="119.1" r="7.1" fill="url(#gsph)"/>
<circle cx="658.1" cy="118.9" r="7.1" fill="url(#gsph)"/>
<circle cx="672.1" cy="119.0" r="7.1" fill="url(#gsph)"/>
<circle cx="686.0" cy="118.3" r="7.1" fill="url(#gsph)"/>
<circle cx="455.3" cy="130.3" r="7.1" fill="url(#gsph)"/>
<circle cx="469.0" cy="130.1" r="7.1" fill="url(#gsph)"/>
<circle cx="483.2" cy="129.7" r="7.1" fill="url(#gsph)"/>
<circle cx="497.2" cy="129.9" r="7.1" fill="url(#gsph)"/>
<circle cx="510.6" cy="129.9" r="7.1" fill="url(#gsph)"/>
<circle cx="525.2" cy="129.8" r="7.1" fill="url(#gsph)"/>
<circle cx="539.2" cy="130.6" r="7.1" fill="url(#gsph)"/>
<circle cx="553.0" cy="130.0" r="7.1" fill="url(#gsph)"/>
<circle cx="567.0" cy="130.3" r="7.1" fill="url(#gsph)"/>
<circle cx="581.3" cy="130.2" r="7.1" fill="url(#gsph)"/>
<circle cx="595.1" cy="129.7" r="7.1" fill="url(#gsph)"/>
<circle cx="608.6" cy="129.9" r="7.1" fill="url(#gsph)"/>
<circle cx="623.2" cy="129.9" r="7.1" fill="url(#gsph)"/>
<circle cx="637.1" cy="129.6" r="7.1" fill="url(#gsph)"/>
<circle cx="650.6" cy="129.9" r="7.1" fill="url(#gsph)"/>
<circle cx="665.2" cy="130.3" r="7.1" fill="url(#gsph)"/>
<circle cx="679.2" cy="129.9" r="7.1" fill="url(#gsph)"/>
<circle cx="462.0" cy="141.4" r="7.1" fill="url(#gsph)"/>
<circle cx="476.0" cy="141.0" r="7.1" fill="url(#gsph)"/>
<circle cx="490.4" cy="141.1" r="7.1" fill="url(#gsph)"/>
<circle cx="504.5" cy="141.8" r="7.1" fill="url(#gsph)"/>
<circle cx="517.5" cy="141.4" r="7.1" fill="url(#gsph)"/>
<circle cx="532.3" cy="141.9" r="7.1" fill="url(#gsph)"/>
<circle cx="545.9" cy="141.2" r="7.1" fill="url(#gsph)"/>
<circle cx="559.7" cy="141.8" r="7.1" fill="url(#gsph)"/>
<circle cx="573.7" cy="141.5" r="7.1" fill="url(#gsph)"/>
<circle cx="587.6" cy="141.4" r="7.1" fill="url(#gsph)"/>
<circle cx="602.5" cy="141.0" r="7.1" fill="url(#gsph)"/>
<circle cx="616.3" cy="141.4" r="7.1" fill="url(#gsph)"/>
<circle cx="630.4" cy="141.6" r="7.1" fill="url(#gsph)"/>
<circle cx="643.7" cy="141.8" r="7.1" fill="url(#gsph)"/>
<circle cx="658.0" cy="140.9" r="7.1" fill="url(#gsph)"/>
<circle cx="671.5" cy="141.4" r="7.1" fill="url(#gsph)"/>
<circle cx="686.0" cy="141.2" r="7.1" fill="url(#gsph)"/>
<circle cx="454.6" cy="152.5" r="7.1" fill="url(#gsph)"/>
<circle cx="468.8" cy="153.0" r="7.1" fill="url(#gsph)"/>
<circle cx="482.5" cy="153.0" r="7.1" fill="url(#gsph)"/>
<circle cx="497.3" cy="152.3" r="7.1" fill="url(#gsph)"/>
<circle cx="511.4" cy="152.9" r="7.1" fill="url(#gsph)"/>
<circle cx="525.4" cy="152.5" r="7.1" fill="url(#gsph)"/>
<circle cx="538.9" cy="152.6" r="7.1" fill="url(#gsph)"/>
<circle cx="553.5" cy="152.8" r="7.1" fill="url(#gsph)"/>
<circle cx="566.9" cy="152.6" r="7.1" fill="url(#gsph)"/>
<circle cx="580.8" cy="152.2" r="7.1" fill="url(#gsph)"/>
<circle cx="594.6" cy="153.0" r="7.1" fill="url(#gsph)"/>
<circle cx="608.8" cy="153.1" r="7.1" fill="url(#gsph)"/>
<circle cx="622.7" cy="152.5" r="7.1" fill="url(#gsph)"/>
<circle cx="637.0" cy="152.4" r="7.1" fill="url(#gsph)"/>
<circle cx="650.9" cy="153.2" r="7.1" fill="url(#gsph)"/>
<circle cx="665.4" cy="153.0" r="7.1" fill="url(#gsph)"/>
<circle cx="679.1" cy="153.1" r="7.1" fill="url(#gsph)"/>
<circle cx="462.4" cy="164.0" r="7.1" fill="url(#gsph)"/>
<circle cx="476.2" cy="163.5" r="7.1" fill="url(#gsph)"/>
<circle cx="490.2" cy="164.0" r="7.1" fill="url(#gsph)"/>
<circle cx="504.3" cy="164.1" r="7.1" fill="url(#gsph)"/>
<circle cx="517.8" cy="163.5" r="7.1" fill="url(#gsph)"/>
<circle cx="532.4" cy="163.6" r="7.1" fill="url(#gsph)"/>
<circle cx="546.0" cy="163.8" r="7.1" fill="url(#gsph)"/>
<circle cx="559.8" cy="164.2" r="7.1" fill="url(#gsph)"/>
<circle cx="574.5" cy="163.8" r="7.1" fill="url(#gsph)"/>
<circle cx="588.2" cy="163.8" r="7.1" fill="url(#gsph)"/>
<circle cx="602.1" cy="163.9" r="7.1" fill="url(#gsph)"/>
<circle cx="615.7" cy="163.7" r="7.1" fill="url(#gsph)"/>
<circle cx="629.7" cy="164.4" r="7.1" fill="url(#gsph)"/>
<circle cx="644.0" cy="163.7" r="7.1" fill="url(#gsph)"/>
<circle cx="658.4" cy="164.5" r="7.1" fill="url(#gsph)"/>
<circle cx="671.9" cy="163.6" r="7.1" fill="url(#gsph)"/>
<circle cx="685.7" cy="163.6" r="7.1" fill="url(#gsph)"/>
<circle cx="454.8" cy="174.9" r="7.1" fill="url(#gsph)"/>
<circle cx="468.7" cy="175.1" r="7.1" fill="url(#gsph)"/>
<circle cx="483.1" cy="175.7" r="7.1" fill="url(#gsph)"/>
<circle cx="497.2" cy="175.2" r="7.1" fill="url(#gsph)"/>
<circle cx="510.9" cy="175.3" r="7.1" fill="url(#gsph)"/>
<circle cx="524.9" cy="175.1" r="7.1" fill="url(#gsph)"/>
<circle cx="538.6" cy="175.1" r="7.1" fill="url(#gsph)"/>
<circle cx="553.5" cy="174.9" r="7.1" fill="url(#gsph)"/>
<circle cx="567.0" cy="175.4" r="7.1" fill="url(#gsph)"/>
<circle cx="581.4" cy="175.0" r="7.1" fill="url(#gsph)"/>
<circle cx="594.8" cy="175.0" r="7.1" fill="url(#gsph)"/>
<circle cx="608.9" cy="175.2" r="7.1" fill="url(#gsph)"/>
<circle cx="623.5" cy="175.6" r="7.1" fill="url(#gsph)"/>
<circle cx="637.4" cy="174.8" r="7.1" fill="url(#gsph)"/>
<circle cx="650.5" cy="175.5" r="7.1" fill="url(#gsph)"/>
<circle cx="665.4" cy="175.3" r="7.1" fill="url(#gsph)"/>
<circle cx="679.1" cy="174.8" r="7.1" fill="url(#gsph)"/>
<circle cx="461.9" cy="187.0" r="7.1" fill="url(#gsph)"/>
<circle cx="476.3" cy="187.0" r="7.1" fill="url(#gsph)"/>
<circle cx="490.5" cy="186.3" r="7.1" fill="url(#gsph)"/>
<circle cx="503.6" cy="186.3" r="7.1" fill="url(#gsph)"/>
<circle cx="518.0" cy="186.8" r="7.1" fill="url(#gsph)"/>
<circle cx="532.4" cy="186.8" r="7.1" fill="url(#gsph)"/>
<circle cx="546.1" cy="186.9" r="7.1" fill="url(#gsph)"/>
<circle cx="560.0" cy="186.7" r="7.1" fill="url(#gsph)"/>
<circle cx="573.5" cy="186.9" r="7.1" fill="url(#gsph)"/>
<circle cx="587.7" cy="187.0" r="7.1" fill="url(#gsph)"/>
<circle cx="602.1" cy="186.4" r="7.1" fill="url(#gsph)"/>
<circle cx="615.6" cy="186.4" r="7.1" fill="url(#gsph)"/>
<circle cx="630.1" cy="186.8" r="7.1" fill="url(#gsph)"/>
<circle cx="643.6" cy="186.2" r="7.1" fill="url(#gsph)"/>
<circle cx="658.0" cy="186.7" r="7.1" fill="url(#gsph)"/>
<circle cx="671.9" cy="186.3" r="7.1" fill="url(#gsph)"/>
<circle cx="686.1" cy="186.1" r="7.1" fill="url(#gsph)"/>
<circle cx="454.8" cy="197.9" r="7.1" fill="url(#gsph)"/>
<circle cx="469.5" cy="198.0" r="7.1" fill="url(#gsph)"/>
<circle cx="483.4" cy="197.9" r="7.1" fill="url(#gsph)"/>
<circle cx="496.7" cy="197.6" r="7.1" fill="url(#gsph)"/>
<circle cx="511.5" cy="198.1" r="7.1" fill="url(#gsph)"/>
<circle cx="524.8" cy="197.4" r="7.1" fill="url(#gsph)"/>
<circle cx="539.0" cy="198.1" r="7.1" fill="url(#gsph)"/>
<circle cx="552.9" cy="197.7" r="7.1" fill="url(#gsph)"/>
<circle cx="567.2" cy="198.3" r="7.1" fill="url(#gsph)"/>
<circle cx="580.7" cy="197.4" r="7.1" fill="url(#gsph)"/>
<circle cx="594.8" cy="197.8" r="7.1" fill="url(#gsph)"/>
<circle cx="609.2" cy="197.6" r="7.1" fill="url(#gsph)"/>
<circle cx="623.3" cy="198.1" r="7.1" fill="url(#gsph)"/>
<circle cx="637.0" cy="197.6" r="7.1" fill="url(#gsph)"/>
<circle cx="651.5" cy="197.7" r="7.1" fill="url(#gsph)"/>
<circle cx="665.3" cy="197.6" r="7.1" fill="url(#gsph)"/>
<circle cx="678.7" cy="198.2" r="7.1" fill="url(#gsph)"/>
</g>
<rect x="675.5" y="127" width="3.5" height="63" fill="#fff" opacity="0.85"/>
<g clip-path="url(#cb2)">
<circle cx="571.3" cy="157.3" r="8.3" fill="url(#gpd)" stroke="#0b4650" stroke-width="0.5"/>
<circle cx="564.2" cy="134.7" r="8.3" fill="url(#gpd)" stroke="#0b4650" stroke-width="0.5"/>
<circle cx="579.7" cy="141.8" r="8.3" fill="url(#gpd)" stroke="#0b4650" stroke-width="0.5"/>
<circle cx="568.8" cy="145.7" r="8.3" fill="url(#gpd)" stroke="#0b4650" stroke-width="0.5"/>
<circle cx="554.5" cy="148.3" r="8.3" fill="url(#gpd)" stroke="#0b4650" stroke-width="0.5"/>
<circle cx="593.3" cy="152.8" r="8.3" fill="url(#gpd)" stroke="#0b4650" stroke-width="0.5"/>
<circle cx="583" cy="154.1" r="8.3" fill="url(#gpd)" stroke="#0b4650" stroke-width="0.5"/>
<circle cx="546.8" cy="162.5" r="8.3" fill="url(#gpd)" stroke="#0b4650" stroke-width="0.5"/>
<circle cx="561" cy="159.2" r="8.3" fill="url(#gpd)" stroke="#0b4650" stroke-width="0.5"/>
<circle cx="584.3" cy="167" r="8.3" fill="url(#gpd)" stroke="#0b4650" stroke-width="0.5"/>
<circle cx="573.9" cy="167.6" r="8.3" fill="url(#gpd)" stroke="#0b4650" stroke-width="0.5"/>
<circle cx="561" cy="172.2" r="8.3" fill="url(#gpd)" stroke="#0b4650" stroke-width="0.5"/>
<circle cx="575.2" cy="181.2" r="8.3" fill="url(#gpd)" stroke="#0b4650" stroke-width="0.5"/>
<circle cx="579.1" cy="131.2" r="2.4" fill="url(#gy)"/>
<circle cx="563.8" cy="151.5" r="2.4" fill="url(#gy)"/>
<circle cx="537.5" cy="156" r="2.4" fill="url(#gy)"/>
<circle cx="581.7" cy="162.1" r="2.4" fill="url(#gy)"/>
<circle cx="602.6" cy="160.1" r="2.4" fill="url(#gy)"/>
<circle cx="562.9" cy="183.8" r="2.4" fill="url(#gy)"/>
</g>
<rect x="465" y="126.8" width="213.9" height="62.8" fill="none" stroke="#1a9c9c" stroke-width="2.2"/>
<g clip-path="url(#cb3)">
<rect x="464.7" y="196.6" width="214.3" height="54.900000000000006" fill="#b9c3be"/>
<circle cx="461.6" cy="191.2" r="7.1" fill="url(#gsph)"/>
<circle cx="475.8" cy="190.4" r="7.1" fill="url(#gsph)"/>
<circle cx="489.5" cy="190.6" r="7.1" fill="url(#gsph)"/>
<circle cx="504.0" cy="191.1" r="7.1" fill="url(#gsph)"/>
<circle cx="517.4" cy="190.6" r="7.1" fill="url(#gsph)"/>
<circle cx="531.5" cy="191.2" r="7.1" fill="url(#gsph)"/>
<circle cx="545.4" cy="190.3" r="7.1" fill="url(#gsph)"/>
<circle cx="559.4" cy="190.6" r="7.1" fill="url(#gsph)"/>
<circle cx="574.2" cy="191.1" r="7.1" fill="url(#gsph)"/>
<circle cx="588.0" cy="191.2" r="7.1" fill="url(#gsph)"/>
<circle cx="602.2" cy="190.5" r="7.1" fill="url(#gsph)"/>
<circle cx="615.5" cy="191.1" r="7.1" fill="url(#gsph)"/>
<circle cx="630.0" cy="190.2" r="7.1" fill="url(#gsph)"/>
<circle cx="644.0" cy="190.6" r="7.1" fill="url(#gsph)"/>
<circle cx="657.7" cy="190.5" r="7.1" fill="url(#gsph)"/>
<circle cx="671.5" cy="190.2" r="7.1" fill="url(#gsph)"/>
<circle cx="685.6" cy="190.6" r="7.1" fill="url(#gsph)"/>
<circle cx="455.3" cy="201.6" r="7.1" fill="url(#gsph)"/>
<circle cx="469.3" cy="201.7" r="7.1" fill="url(#gsph)"/>
<circle cx="482.7" cy="202.3" r="7.1" fill="url(#gsph)"/>
<circle cx="497.1" cy="201.9" r="7.1" fill="url(#gsph)"/>
<circle cx="510.3" cy="202.0" r="7.1" fill="url(#gsph)"/>
<circle cx="524.7" cy="202.4" r="7.1" fill="url(#gsph)"/>
<circle cx="538.5" cy="201.9" r="7.1" fill="url(#gsph)"/>
<circle cx="553.2" cy="201.5" r="7.1" fill="url(#gsph)"/>
<circle cx="566.7" cy="202.3" r="7.1" fill="url(#gsph)"/>
<circle cx="581.1" cy="201.5" r="7.1" fill="url(#gsph)"/>
<circle cx="594.3" cy="201.6" r="7.1" fill="url(#gsph)"/>
<circle cx="609.2" cy="201.8" r="7.1" fill="url(#gsph)"/>
<circle cx="623.0" cy="202.4" r="7.1" fill="url(#gsph)"/>
<circle cx="636.6" cy="201.8" r="7.1" fill="url(#gsph)"/>
<circle cx="651.3" cy="202.1" r="7.1" fill="url(#gsph)"/>
<circle cx="664.6" cy="202.2" r="7.1" fill="url(#gsph)"/>
<circle cx="678.6" cy="201.8" r="7.1" fill="url(#gsph)"/>
<circle cx="461.3" cy="213.6" r="7.1" fill="url(#gsph)"/>
<circle cx="476.2" cy="213.4" r="7.1" fill="url(#gsph)"/>
<circle cx="490.2" cy="212.8" r="7.1" fill="url(#gsph)"/>
<circle cx="503.5" cy="213.3" r="7.1" fill="url(#gsph)"/>
<circle cx="518.3" cy="213.8" r="7.1" fill="url(#gsph)"/>
<circle cx="531.7" cy="213.1" r="7.1" fill="url(#gsph)"/>
<circle cx="545.7" cy="213.3" r="7.1" fill="url(#gsph)"/>
<circle cx="560.2" cy="213.0" r="7.1" fill="url(#gsph)"/>
<circle cx="574.1" cy="213.5" r="7.1" fill="url(#gsph)"/>
<circle cx="588.1" cy="213.6" r="7.1" fill="url(#gsph)"/>
<circle cx="601.9" cy="213.1" r="7.1" fill="url(#gsph)"/>
<circle cx="615.6" cy="213.2" r="7.1" fill="url(#gsph)"/>
<circle cx="630.1" cy="212.9" r="7.1" fill="url(#gsph)"/>
<circle cx="643.5" cy="213.6" r="7.1" fill="url(#gsph)"/>
<circle cx="657.5" cy="212.9" r="7.1" fill="url(#gsph)"/>
<circle cx="671.3" cy="213.4" r="7.1" fill="url(#gsph)"/>
<circle cx="685.6" cy="213.8" r="7.1" fill="url(#gsph)"/>
<circle cx="455.2" cy="225.1" r="7.1" fill="url(#gsph)"/>
<circle cx="468.6" cy="224.2" r="7.1" fill="url(#gsph)"/>
<circle cx="482.4" cy="224.6" r="7.1" fill="url(#gsph)"/>
<circle cx="497.0" cy="224.5" r="7.1" fill="url(#gsph)"/>
<circle cx="510.5" cy="224.5" r="7.1" fill="url(#gsph)"/>
<circle cx="524.9" cy="224.8" r="7.1" fill="url(#gsph)"/>
<circle cx="539.0" cy="224.9" r="7.1" fill="url(#gsph)"/>
<circle cx="553.0" cy="224.2" r="7.1" fill="url(#gsph)"/>
<circle cx="567.1" cy="224.4" r="7.1" fill="url(#gsph)"/>
<circle cx="580.9" cy="224.5" r="7.1" fill="url(#gsph)"/>
<circle cx="595.0" cy="224.3" r="7.1" fill="url(#gsph)"/>
<circle cx="608.5" cy="224.3" r="7.1" fill="url(#gsph)"/>
<circle cx="622.5" cy="225.0" r="7.1" fill="url(#gsph)"/>
<circle cx="636.9" cy="224.4" r="7.1" fill="url(#gsph)"/>
<circle cx="650.7" cy="225.1" r="7.1" fill="url(#gsph)"/>
<circle cx="664.8" cy="224.3" r="7.1" fill="url(#gsph)"/>
<circle cx="679.1" cy="224.8" r="7.1" fill="url(#gsph)"/>
<circle cx="462.3" cy="235.5" r="7.1" fill="url(#gsph)"/>
<circle cx="475.8" cy="236.2" r="7.1" fill="url(#gsph)"/>
<circle cx="490.1" cy="236.3" r="7.1" fill="url(#gsph)"/>
<circle cx="503.3" cy="235.7" r="7.1" fill="url(#gsph)"/>
<circle cx="517.4" cy="235.6" r="7.1" fill="url(#gsph)"/>
<circle cx="532.3" cy="236.0" r="7.1" fill="url(#gsph)"/>
<circle cx="546.2" cy="235.8" r="7.1" fill="url(#gsph)"/>
<circle cx="560.2" cy="235.8" r="7.1" fill="url(#gsph)"/>
<circle cx="573.6" cy="236.2" r="7.1" fill="url(#gsph)"/>
<circle cx="588.2" cy="235.5" r="7.1" fill="url(#gsph)"/>
<circle cx="601.9" cy="236.0" r="7.1" fill="url(#gsph)"/>
<circle cx="615.5" cy="235.8" r="7.1" fill="url(#gsph)"/>
<circle cx="629.4" cy="235.6" r="7.1" fill="url(#gsph)"/>
<circle cx="643.6" cy="236.0" r="7.1" fill="url(#gsph)"/>
<circle cx="658.0" cy="235.6" r="7.1" fill="url(#gsph)"/>
<circle cx="671.3" cy="235.7" r="7.1" fill="url(#gsph)"/>
<circle cx="686.0" cy="235.6" r="7.1" fill="url(#gsph)"/>
<circle cx="454.6" cy="246.9" r="7.1" fill="url(#gsph)"/>
<circle cx="469.1" cy="247.2" r="7.1" fill="url(#gsph)"/>
<circle cx="482.4" cy="246.8" r="7.1" fill="url(#gsph)"/>
<circle cx="496.7" cy="247.3" r="7.1" fill="url(#gsph)"/>
<circle cx="510.9" cy="246.8" r="7.1" fill="url(#gsph)"/>
<circle cx="524.5" cy="247.4" r="7.1" fill="url(#gsph)"/>
<circle cx="538.7" cy="247.0" r="7.1" fill="url(#gsph)"/>
<circle cx="552.6" cy="247.7" r="7.1" fill="url(#gsph)"/>
<circle cx="566.6" cy="247.3" r="7.1" fill="url(#gsph)"/>
<circle cx="580.7" cy="247.1" r="7.1" fill="url(#gsph)"/>
<circle cx="595.2" cy="247.7" r="7.1" fill="url(#gsph)"/>
<circle cx="608.7" cy="246.9" r="7.1" fill="url(#gsph)"/>
<circle cx="623.0" cy="246.9" r="7.1" fill="url(#gsph)"/>
<circle cx="636.3" cy="247.6" r="7.1" fill="url(#gsph)"/>
<circle cx="650.7" cy="247.5" r="7.1" fill="url(#gsph)"/>
<circle cx="664.7" cy="247.6" r="7.1" fill="url(#gsph)"/>
<circle cx="678.8" cy="246.9" r="7.1" fill="url(#gsph)"/>
<circle cx="461.3" cy="258.6" r="7.1" fill="url(#gsph)"/>
<circle cx="475.9" cy="258.9" r="7.1" fill="url(#gsph)"/>
<circle cx="489.4" cy="258.6" r="7.1" fill="url(#gsph)"/>
<circle cx="503.7" cy="258.5" r="7.1" fill="url(#gsph)"/>
<circle cx="517.4" cy="258.3" r="7.1" fill="url(#gsph)"/>
<circle cx="531.8" cy="258.9" r="7.1" fill="url(#gsph)"/>
<circle cx="545.4" cy="258.5" r="7.1" fill="url(#gsph)"/>
<circle cx="560.1" cy="259.0" r="7.1" fill="url(#gsph)"/>
<circle cx="573.5" cy="258.1" r="7.1" fill="url(#gsph)"/>
<circle cx="588.2" cy="259.0" r="7.1" fill="url(#gsph)"/>
<circle cx="601.8" cy="258.1" r="7.1" fill="url(#gsph)"/>
<circle cx="616.2" cy="258.4" r="7.1" fill="url(#gsph)"/>
<circle cx="630.2" cy="258.6" r="7.1" fill="url(#gsph)"/>
<circle cx="644.1" cy="258.2" r="7.1" fill="url(#gsph)"/>
<circle cx="658.1" cy="258.2" r="7.1" fill="url(#gsph)"/>
<circle cx="671.7" cy="258.8" r="7.1" fill="url(#gsph)"/>
<circle cx="686.1" cy="258.2" r="7.1" fill="url(#gsph)"/>
</g>
<rect x="675.8" y="197" width="3" height="54" fill="#fff" opacity="0.85"/>
<g clip-path="url(#cb3)">
<circle cx="559.8" cy="222.2" r="2.4" fill="url(#gy)"/>
<circle cx="573" cy="230.1" r="2.4" fill="url(#gy)"/>
</g>
<rect x="464.7" y="196.6" width="214.2" height="54.9" fill="none" stroke="#111" stroke-width="2.2"/>
<path d="M20.4,355.5 L21.4,355.6 L22.4,355.2 L23.4,354.8 L24.4,355.2 L25.4,355.1 L26.4,355.0 L27.4,355.0 L28.4,355.6 L29.4,355.2 L30.4,354.8 L31.4,354.5 L32.4,354.4 L33.4,354.2 L34.4,354.0 L35.4,354.4 L36.4,354.2 L37.4,354.6 L38.4,354.4 L39.4,354.9 L40.4,355.0 L41.4,355.4 L42.4,355.0 L43.4,355.3 L44.4,355.2 L45.4,354.4 L46.4,354.1 L47.4,354.3 L48.4,354.2 L49.4,354.1 L50.4,354.8 L51.4,355.2 L52.4,355.3 L53.4,355.6 L54.4,355.5 L55.4,355.2 L56.4,354.9 L57.4,354.6 L58.4,354.3 L59.4,353.9 L60.4,353.8 L61.4,353.8 L62.4,353.6 L63.4,353.6 L64.4,354.2 L65.4,354.2 L66.4,354.7 L67.4,354.2 L68.4,354.1 L69.4,353.4 L70.4,353.6 L71.4,353.7 L72.4,353.7 L73.4,353.7 L74.4,354.3 L75.4,353.9 L76.4,353.2 L77.4,353.2 L78.4,353.3 L79.4,353.1 L80.4,353.1 L81.4,352.7 L82.4,353.3 L83.4,352.8 L84.4,352.6 L85.4,352.3 L86.4,351.6 L87.4,351.2 L88.4,351.2 L89.4,351.1 L90.4,350.8 L91.4,351.1 L92.4,351.0 L93.4,350.7 L94.4,350.5 L95.4,350.9 L96.4,350.3 L97.4,349.2 L98.4,349.0 L99.4,348.6 L100.4,347.8 L101.4,347.7 L102.4,347.5 L103.4,346.5 L104.4,345.7 L105.4,344.5 L106.4,343.1 L107.4,342.3 L108.4,342.4 L109.4,341.8 L110.4,341.0 L111.4,340.4 L112.4,339.8 L113.4,337.9 L114.4,336.7 L115.4,335.8 L116.4,334.5 L117.4,333.7 L118.4,332.5 L119.4,330.9 L120.4,329.5 L121.4,328.4 L122.4,326.7 L123.4,325.3 L124.4,323.2 L125.4,321.2 L126.4,319.5 L127.4,317.8 L128.4,316.6 L129.4,315.8 L130.4,315.4 L131.4,314.6 L132.4,313.5 L133.4,312.4 L134.4,310.9 L135.4,309.9 L136.4,309.4 L137.4,309.3 L138.4,309.0 L139.4,309.2 L140.4,309.3 L141.4,309.1 L142.4,309.1 L143.4,309.4 L144.4,309.6 L145.4,309.9 L146.4,310.0 L147.4,310.1 L148.4,310.1 L149.4,310.3 L150.4,310.9 L151.4,312.1 L152.4,312.9 L153.4,314.0 L154.4,315.3 L155.4,315.9 L156.4,316.5 L157.4,317.1 L158.4,317.6 L159.4,318.4 L160.4,319.5 L161.4,320.1 L162.4,321.2 L163.4,322.3 L164.4,322.9 L165.4,323.2 L166.4,324.5 L167.4,325.5 L168.4,326.4 L169.4,328.1 L170.4,329.5 L171.4,330.0 L172.4,330.8 L173.4,331.7 L174.4,332.3 L175.4,332.9 L176.4,333.9 L177.4,334.8 L178.4,335.6 L179.4,335.7 L180.4,336.4 L181.4,337.0 L182.4,337.2 L183.4,337.7 L184.4,338.4 L185.4,338.7 L186.4,338.8 L187.4,340.0 L188.4,341.0 L189.4,341.6 L190.4,342.3 L191.4,342.4 L192.4,343.2 L193.4,343.1 L194.4,343.3 L195.4,343.3 L196.4,344.1 L197.4,343.7 L198.4,344.1 L199.4,344.6 L200.4,345.3 L201.4,345.8 L202.4,346.3 L203.4,347.1 L204.4,347.2 L205.4,347.1 L206.4,347.4 L207.4,347.8 L208.4,347.6 L209.4,348.0 L210.4,349.0 L211.4,349.1 L212.4,349.7 L213.4,350.7 L214.4,351.3 L215.4,351.5 L216.4,352.1 L217.4,352.4 L218.4,352.3 L219.4,352.5 L220.4,352.7 L221.4,352.2 L222.4,352.4 L223.4,352.4 L224.4,352.5 L225.4,352.5 L226.4,353.3 L227.4,354.1 L228.4,354.1 L229.4,353.7 L230.4,353.6 L231.4,353.0 L232.4,351.9 L233.4,352.4 L234.4,352.6 L235.4,352.5 L236.4,352.8 L237.4,353.6 L238.4,353.3 L239.4,353.4 L240.4,354.1 L241.4,354.9 L242.4,355.3 L243.4,355.8 L244.4,356.0 L245.4,356.0 L246.4,356.2 L247.4,356.1 L248.4,355.7 L249.4,355.8 L250.4,355.9 L251.4,355.4 L252.4,354.9 L253.4,354.6 L254.4,354.4 L255.4,353.9 L256.4,354.2 L257.4,354.5 L258.4,354.6 L259.4,355.2 L260.4,355.9 L261.4,355.0 L262.4,355.4 L263.4,356.0 L264.4,356.2 L265.4,355.6 L266.4,356.3 L267.4,355.9 L268.4,355.7 L269.4,355.2 L270.4,355.9 L271.4,355.3 L272.4,354.9 L273.4,354.4" fill="none" stroke="#6aa842" stroke-width="2.0" stroke-linejoin="round"/>
<path d="M43.0,355.6 L44.5,355.6 L46.0,355.6 L47.5,355.6 L49.0,355.6 L50.5,355.6 L52.0,355.5 L53.5,355.5 L55.0,355.5 L56.5,355.5 L58.0,355.5 L59.5,355.5 L61.0,355.5 L62.5,355.4 L64.0,355.4 L65.5,355.4 L67.0,355.4 L68.5,355.3 L70.0,355.3 L71.5,355.3 L73.0,355.3 L74.5,355.2 L76.0,355.2 L77.5,355.1 L79.0,355.1 L80.5,355.1 L82.0,355.0 L83.5,354.9 L85.0,354.9 L86.5,354.8 L88.0,354.7 L89.5,354.6 L91.0,354.5 L92.5,354.4 L94.0,354.3 L95.5,354.1 L97.0,354.0 L98.5,353.8 L100.0,353.6 L101.5,353.4 L103.0,353.2 L104.5,353.0 L106.0,352.7 L107.5,352.4 L109.0,352.1 L110.5,351.8 L112.0,351.5 L113.5,351.1 L115.0,350.7 L116.5,350.3 L118.0,349.8 L119.5,349.3 L121.0,348.8 L122.5,348.3 L124.0,347.8 L125.5,347.2 L127.0,346.6 L128.5,346.0 L130.0,345.4 L131.5,344.8 L133.0,344.2 L134.5,343.5 L136.0,342.9 L137.5,342.3 L139.0,341.6 L140.5,341.0 L142.0,340.4 L143.5,339.8 L145.0,339.3 L146.5,338.8 L148.0,338.3 L149.5,337.9 L151.0,337.5 L152.5,337.2 L154.0,336.9 L155.5,336.7 L157.0,336.6 L158.5,336.5 L160.0,336.5 L161.5,336.6 L163.0,336.8 L164.5,337.0 L166.0,337.3 L167.5,337.6 L169.0,338.0 L170.5,338.4 L172.0,338.9 L173.5,339.5 L175.0,340.0 L176.5,340.6 L178.0,341.2 L179.5,341.8 L181.0,342.5 L182.5,343.1 L184.0,343.8 L185.5,344.4 L187.0,345.0 L188.5,345.6 L190.0,346.2 L191.5,346.8 L193.0,347.4 L194.5,348.0 L196.0,348.5 L197.5,349.0 L199.0,349.5 L200.5,350.0 L202.0,350.4 L203.5,350.8 L205.0,351.2 L206.5,351.6 L208.0,351.9 L209.5,352.2 L211.0,352.5 L212.5,352.8 L214.0,353.0 L215.5,353.3 L217.0,353.5 L218.5,353.7 L220.0,353.9 L221.5,354.0 L223.0,354.2 L224.5,354.3 L226.0,354.4 L227.5,354.5 L229.0,354.6 L230.5,354.7 L232.0,354.8 L233.5,354.9 L235.0,355.0 L236.5,355.0 L238.0,355.1 L239.5,355.1 L241.0,355.2 L242.5,355.2 L244.0,355.2 L245.5,355.3 L247.0,355.3 L248.5,355.3 L250.0,355.4 L251.5,355.4 L253.0,355.4 L254.5,355.4 L256.0,355.4 L257.5,355.5 L259.0,355.5 L260.5,355.5 L262.0,355.5 L263.5,355.5 L265.0,355.5 L266.5,355.5 L268.0,355.6 L269.5,355.6 L271.0,355.6 L272.5,355.6 L274.0,355.6" fill="none" stroke="#a6a6a6" stroke-width="2.1" stroke-dasharray="7,3.6"/>
<path d="M43.0,355.4 L44.5,355.3 L46.0,355.3 L47.5,355.3 L49.0,355.3 L50.5,355.3 L52.0,355.2 L53.5,355.2 L55.0,355.2 L56.5,355.2 L58.0,355.1 L59.5,355.1 L61.0,355.1 L62.5,355.0 L64.0,355.0 L65.5,354.9 L67.0,354.9 L68.5,354.8 L70.0,354.8 L71.5,354.7 L73.0,354.7 L74.5,354.6 L76.0,354.5 L77.5,354.4 L79.0,354.3 L80.5,354.2 L82.0,354.0 L83.5,353.9 L85.0,353.7 L86.5,353.5 L88.0,353.3 L89.5,353.0 L91.0,352.7 L92.5,352.4 L94.0,352.1 L95.5,351.7 L97.0,351.2 L98.5,350.8 L100.0,350.2 L101.5,349.6 L103.0,349.0 L104.5,348.3 L106.0,347.6 L107.5,346.8 L109.0,345.9 L110.5,345.0 L112.0,344.1 L113.5,343.0 L115.0,342.0 L116.5,340.9 L118.0,339.7 L119.5,338.6 L121.0,337.4 L122.5,336.2 L124.0,335.0 L125.5,333.9 L127.0,332.7 L128.5,331.6 L130.0,330.6 L131.5,329.6 L133.0,328.8 L134.5,328.0 L136.0,327.4 L137.5,327.0 L139.0,326.7 L140.5,326.5 L142.0,326.5 L143.5,326.7 L145.0,327.1 L146.5,327.6 L148.0,328.3 L149.5,329.0 L151.0,329.9 L152.5,330.9 L154.0,332.0 L155.5,333.1 L157.0,334.2 L158.5,335.4 L160.0,336.6 L161.5,337.8 L163.0,339.0 L164.5,340.1 L166.0,341.2 L167.5,342.3 L169.0,343.4 L170.5,344.4 L172.0,345.3 L173.5,346.2 L175.0,347.1 L176.5,347.8 L178.0,348.6 L179.5,349.2 L181.0,349.8 L182.5,350.4 L184.0,350.9 L185.5,351.4 L187.0,351.8 L188.5,352.2 L190.0,352.5 L191.5,352.8 L193.0,353.1 L194.5,353.3 L196.0,353.6 L197.5,353.8 L199.0,353.9 L200.5,354.1 L202.0,354.2 L203.5,354.3 L205.0,354.4 L206.5,354.5 L208.0,354.6 L209.5,354.7 L211.0,354.7 L212.5,354.8 L214.0,354.9 L215.5,354.9 L217.0,355.0 L218.5,355.0 L220.0,355.0 L221.5,355.1 L223.0,355.1 L224.5,355.1 L226.0,355.2 L227.5,355.2 L229.0,355.2 L230.5,355.3 L232.0,355.3 L233.5,355.3 L235.0,355.3 L236.5,355.3 L238.0,355.4 L239.5,355.4 L241.0,355.4 L242.5,355.4 L244.0,355.4 L245.5,355.4 L247.0,355.5 L248.5,355.5 L250.0,355.5 L251.5,355.5 L253.0,355.5 L254.5,355.5 L256.0,355.5 L257.5,355.5 L259.0,355.6 L260.5,355.6 L262.0,355.6 L263.5,355.6 L265.0,355.6 L266.5,355.6 L268.0,355.6 L269.5,355.6 L271.0,355.6 L272.5,355.6 L274.0,355.6" fill="none" stroke="#1717f0" stroke-width="2.1" stroke-dasharray="7,3.6"/>
<path d="M43.0,355.0 L44.5,354.9 L46.0,354.9 L47.5,354.9 L49.0,354.9 L50.5,354.8 L52.0,354.8 L53.5,354.7 L55.0,354.7 L56.5,354.7 L58.0,354.6 L59.5,354.6 L61.0,354.5 L62.5,354.5 L64.0,354.4 L65.5,354.3 L67.0,354.3 L68.5,354.2 L70.0,354.1 L71.5,354.0 L73.0,353.9 L74.5,353.8 L76.0,353.7 L77.5,353.5 L79.0,353.4 L80.5,353.2 L82.0,353.0 L83.5,352.8 L85.0,352.6 L86.5,352.3 L88.0,352.0 L89.5,351.6 L91.0,351.2 L92.5,350.8 L94.0,350.3 L95.5,349.8 L97.0,349.2 L98.5,348.6 L100.0,347.9 L101.5,347.1 L103.0,346.2 L104.5,345.3 L106.0,344.3 L107.5,343.2 L109.0,342.1 L110.5,340.8 L112.0,339.5 L113.5,338.1 L115.0,336.7 L116.5,335.1 L118.0,333.6 L119.5,331.9 L121.0,330.2 L122.5,328.5 L124.0,326.8 L125.5,325.1 L127.0,323.4 L128.5,321.7 L130.0,320.0 L131.5,318.4 L133.0,317.0 L134.5,315.6 L136.0,314.3 L137.5,313.2 L139.0,312.3 L140.5,311.5 L142.0,311.0 L143.5,310.6 L145.0,310.4 L146.5,310.4 L148.0,310.6 L149.5,310.9 L151.0,311.4 L152.5,312.1 L154.0,312.9 L155.5,313.8 L157.0,314.8 L158.5,315.9 L160.0,317.1 L161.5,318.4 L163.0,319.7 L164.5,321.1 L166.0,322.5 L167.5,323.9 L169.0,325.4 L170.5,326.8 L172.0,328.3 L173.5,329.7 L175.0,331.1 L176.5,332.5 L178.0,333.8 L179.5,335.1 L181.0,336.3 L182.5,337.5 L184.0,338.7 L185.5,339.8 L187.0,340.8 L188.5,341.8 L190.0,342.8 L191.5,343.7 L193.0,344.5 L194.5,345.3 L196.0,346.1 L197.5,346.8 L199.0,347.4 L200.5,348.0 L202.0,348.6 L203.5,349.1 L205.0,349.6 L206.5,350.1 L208.0,350.5 L209.5,350.9 L211.0,351.3 L212.5,351.6 L214.0,351.9 L215.5,352.2 L217.0,352.5 L218.5,352.7 L220.0,352.9 L221.5,353.1 L223.0,353.3 L224.5,353.5 L226.0,353.6 L227.5,353.7 L229.0,353.9 L230.5,354.0 L232.0,354.1 L233.5,354.2 L235.0,354.3 L236.5,354.4 L238.0,354.4 L239.5,354.5 L241.0,354.6 L242.5,354.6 L244.0,354.7 L245.5,354.7 L247.0,354.8 L248.5,354.8 L250.0,354.8 L251.5,354.9 L253.0,354.9 L254.5,354.9 L256.0,355.0 L257.5,355.0 L259.0,355.0 L260.5,355.1 L262.0,355.1 L263.5,355.1 L265.0,355.1 L266.5,355.2 L268.0,355.2 L269.5,355.2 L271.0,355.2 L272.5,355.2 L274.0,355.3" fill="none" stroke="#7b7b7b" stroke-width="2.1"/>
<path d="M20.4,403.5 L21.4,403.5 L22.4,403.5 L23.4,403.7 L24.4,403.8 L25.4,403.8 L26.4,403.9 L27.4,404.5 L28.4,404.0 L29.4,404.0 L30.4,404.3 L31.4,404.3 L32.4,404.0 L33.4,403.9 L34.4,404.0 L35.4,403.7 L36.4,403.3 L37.4,403.2 L38.4,403.3 L39.4,403.3 L40.4,403.1 L41.4,403.5 L42.4,403.3 L43.4,403.5 L44.4,403.2 L45.4,403.2 L46.4,403.4 L47.4,403.3 L48.4,403.4 L49.4,402.6 L50.4,403.0 L51.4,402.8 L52.4,402.3 L53.4,402.2 L54.4,403.1 L55.4,403.1 L56.4,402.7 L57.4,403.6 L58.4,403.5 L59.4,404.0 L60.4,403.6 L61.4,404.1 L62.4,403.5 L63.4,403.2 L64.4,402.8 L65.4,403.1 L66.4,403.3 L67.4,403.6 L68.4,403.7 L69.4,402.8 L70.4,402.3 L71.4,401.7 L72.4,401.1 L73.4,401.4 L74.4,401.9 L75.4,401.9 L76.4,402.0 L77.4,402.1 L78.4,401.9 L79.4,401.9 L80.4,402.2 L81.4,401.8 L82.4,401.3 L83.4,401.5 L84.4,401.1 L85.4,401.0 L86.4,400.5 L87.4,400.7 L88.4,400.1 L89.4,399.4 L90.4,398.7 L91.4,399.1 L92.4,399.2 L93.4,399.3 L94.4,399.1 L95.4,398.5 L96.4,398.1 L97.4,397.6 L98.4,396.8 L99.4,396.2 L100.4,396.2 L101.4,395.8 L102.4,395.1 L103.4,394.2 L104.4,394.0 L105.4,393.3 L106.4,392.2 L107.4,390.7 L108.4,390.1 L109.4,389.2 L110.4,388.1 L111.4,387.5 L112.4,386.8 L113.4,385.6 L114.4,384.3 L115.4,383.3 L116.4,382.3 L117.4,381.2 L118.4,380.5 L119.4,379.8 L120.4,378.5 L121.4,377.0 L122.4,376.3 L123.4,374.4 L124.4,372.6 L125.4,370.9 L126.4,369.6 L127.4,368.3 L128.4,367.4 L129.4,366.5 L130.4,365.7 L131.4,364.6 L132.4,362.9 L133.4,362.2 L134.4,361.2 L135.4,360.2 L136.4,359.3 L137.4,358.9 L138.4,358.3 L139.4,358.3 L140.4,357.9 L141.4,358.1 L142.4,358.4 L143.4,357.9 L144.4,357.1 L145.4,357.3 L146.4,357.0 L147.4,357.0 L148.4,357.3 L149.4,357.5 L150.4,358.1 L151.4,358.3 L152.4,358.9 L153.4,359.2 L154.4,360.1 L155.4,360.5 L156.4,361.4 L157.4,362.2 L158.4,363.5 L159.4,364.7 L160.4,365.8 L161.4,366.4 L162.4,366.7 L163.4,367.2 L164.4,367.7 L165.4,368.6 L166.4,369.8 L167.4,370.6 L168.4,371.4 L169.4,372.0 L170.4,373.0 L171.4,374.4 L172.4,375.6 L173.4,376.5 L174.4,377.1 L175.4,377.9 L176.4,378.6 L177.4,379.5 L178.4,380.8 L179.4,382.7 L180.4,383.7 L181.4,384.0 L182.4,384.9 L183.4,385.5 L184.4,385.4 L185.4,385.6 L186.4,386.0 L187.4,386.3 L188.4,386.9 L189.4,387.7 L190.4,387.9 L191.4,389.2 L192.4,390.0 L193.4,390.9 L194.4,391.4 L195.4,392.9 L196.4,393.7 L197.4,394.7 L198.4,394.8 L199.4,395.8 L200.4,396.0 L201.4,396.2 L202.4,396.4 L203.4,397.0 L204.4,397.0 L205.4,397.7 L206.4,397.7 L207.4,397.9 L208.4,398.3 L209.4,399.5 L210.4,399.9 L211.4,400.2 L212.4,400.4 L213.4,401.1 L214.4,400.8 L215.4,400.8 L216.4,401.4 L217.4,401.9 L218.4,401.7 L219.4,401.7 L220.4,401.3 L221.4,401.2 L222.4,401.1 L223.4,401.8 L224.4,402.1 L225.4,402.8 L226.4,403.1 L227.4,402.6 L228.4,401.8 L229.4,402.1 L230.4,401.7 L231.4,401.6 L232.4,402.2 L233.4,402.3 L234.4,402.4 L235.4,402.5 L236.4,402.4 L237.4,402.5 L238.4,402.6 L239.4,402.6 L240.4,403.3 L241.4,403.5 L242.4,403.3 L243.4,403.7 L244.4,403.6 L245.4,403.5 L246.4,403.1 L247.4,403.4 L248.4,403.0 L249.4,403.0 L250.4,403.2 L251.4,403.3 L252.4,403.7 L253.4,404.0 L254.4,404.7 L255.4,403.9 L256.4,404.5 L257.4,404.4 L258.4,404.2 L259.4,403.8 L260.4,404.8 L261.4,404.5 L262.4,404.0 L263.4,403.9 L264.4,404.1 L265.4,403.5 L266.4,403.5 L267.4,404.1 L268.4,404.2 L269.4,404.2 L270.4,404.6 L271.4,404.3 L272.4,404.1 L273.4,404.7" fill="none" stroke="#1cb2ea" stroke-width="2.0" stroke-linejoin="round"/>
<path d="M43.0,404.0 L44.5,404.0 L46.0,404.0 L47.5,404.0 L49.0,403.9 L50.5,403.9 L52.0,403.9 L53.5,403.9 L55.0,403.9 L56.5,403.9 L58.0,403.9 L59.5,403.8 L61.0,403.8 L62.5,403.8 L64.0,403.8 L65.5,403.8 L67.0,403.7 L68.5,403.7 L70.0,403.7 L71.5,403.7 L73.0,403.6 L74.5,403.6 L76.0,403.5 L77.5,403.5 L79.0,403.5 L80.5,403.4 L82.0,403.3 L83.5,403.3 L85.0,403.2 L86.5,403.1 L88.0,403.0 L89.5,402.9 L91.0,402.8 L92.5,402.7 L94.0,402.6 L95.5,402.4 L97.0,402.3 L98.5,402.1 L100.0,401.9 L101.5,401.7 L103.0,401.5 L104.5,401.2 L106.0,400.9 L107.5,400.6 L109.0,400.3 L110.5,400.0 L112.0,399.6 L113.5,399.2 L115.0,398.8 L116.5,398.4 L118.0,397.9 L119.5,397.4 L121.0,396.9 L122.5,396.3 L124.0,395.8 L125.5,395.2 L127.0,394.6 L128.5,393.9 L130.0,393.3 L131.5,392.6 L133.0,392.0 L134.5,391.3 L136.0,390.6 L137.5,390.0 L139.0,389.3 L140.5,388.7 L142.0,388.0 L143.5,387.4 L145.0,386.8 L146.5,386.3 L148.0,385.8 L149.5,385.3 L151.0,384.9 L152.5,384.6 L154.0,384.3 L155.5,384.1 L157.0,384.0 L158.5,383.9 L160.0,383.9 L161.5,384.0 L163.0,384.2 L164.5,384.4 L166.0,384.7 L167.5,385.1 L169.0,385.5 L170.5,385.9 L172.0,386.5 L173.5,387.0 L175.0,387.6 L176.5,388.2 L178.0,388.9 L179.5,389.5 L181.0,390.2 L182.5,390.9 L184.0,391.5 L185.5,392.2 L187.0,392.9 L188.5,393.5 L190.0,394.1 L191.5,394.8 L193.0,395.4 L194.5,396.0 L196.0,396.5 L197.5,397.1 L199.0,397.6 L200.5,398.1 L202.0,398.5 L203.5,399.0 L205.0,399.4 L206.5,399.7 L208.0,400.1 L209.5,400.4 L211.0,400.7 L212.5,401.0 L214.0,401.3 L215.5,401.5 L217.0,401.8 L218.5,402.0 L220.0,402.2 L221.5,402.3 L223.0,402.5 L224.5,402.6 L226.0,402.8 L227.5,402.9 L229.0,403.0 L230.5,403.1 L232.0,403.2 L233.5,403.2 L235.0,403.3 L236.5,403.4 L238.0,403.4 L239.5,403.5 L241.0,403.5 L242.5,403.6 L244.0,403.6 L245.5,403.6 L247.0,403.7 L248.5,403.7 L250.0,403.7 L251.5,403.7 L253.0,403.8 L254.5,403.8 L256.0,403.8 L257.5,403.8 L259.0,403.9 L260.5,403.9 L262.0,403.9 L263.5,403.9 L265.0,403.9 L266.5,403.9 L268.0,403.9 L269.5,403.9 L271.0,404.0 L272.5,404.0 L274.0,404.0" fill="none" stroke="#a6a6a6" stroke-width="2.1" stroke-dasharray="7,3.6"/>
<path d="M43.0,403.8 L44.5,403.8 L46.0,403.7 L47.5,403.7 L49.0,403.7 L50.5,403.7 L52.0,403.7 L53.5,403.6 L55.0,403.6 L56.5,403.6 L58.0,403.5 L59.5,403.5 L61.0,403.5 L62.5,403.4 L64.0,403.4 L65.5,403.4 L67.0,403.3 L68.5,403.3 L70.0,403.2 L71.5,403.1 L73.0,403.1 L74.5,403.0 L76.0,402.9 L77.5,402.8 L79.0,402.7 L80.5,402.6 L82.0,402.5 L83.5,402.3 L85.0,402.1 L86.5,401.9 L88.0,401.7 L89.5,401.5 L91.0,401.2 L92.5,400.9 L94.0,400.5 L95.5,400.1 L97.0,399.7 L98.5,399.2 L100.0,398.7 L101.5,398.2 L103.0,397.5 L104.5,396.9 L106.0,396.1 L107.5,395.3 L109.0,394.5 L110.5,393.6 L112.0,392.7 L113.5,391.7 L115.0,390.6 L116.5,389.5 L118.0,388.4 L119.5,387.3 L121.0,386.1 L122.5,384.9 L124.0,383.8 L125.5,382.6 L127.0,381.5 L128.5,380.4 L130.0,379.4 L131.5,378.5 L133.0,377.6 L134.5,376.9 L136.0,376.3 L137.5,375.8 L139.0,375.5 L140.5,375.4 L142.0,375.4 L143.5,375.6 L145.0,376.0 L146.5,376.5 L148.0,377.1 L149.5,377.9 L151.0,378.8 L152.5,379.7 L154.0,380.8 L155.5,381.9 L157.0,383.0 L158.5,384.2 L160.0,385.3 L161.5,386.5 L163.0,387.7 L164.5,388.8 L166.0,389.9 L167.5,391.0 L169.0,392.0 L170.5,393.0 L172.0,393.9 L173.5,394.8 L175.0,395.6 L176.5,396.4 L178.0,397.1 L179.5,397.7 L181.0,398.4 L182.5,398.9 L184.0,399.4 L185.5,399.9 L187.0,400.3 L188.5,400.7 L190.0,401.0 L191.5,401.3 L193.0,401.6 L194.5,401.8 L196.0,402.0 L197.5,402.2 L199.0,402.4 L200.5,402.5 L202.0,402.6 L203.5,402.8 L205.0,402.9 L206.5,402.9 L208.0,403.0 L209.5,403.1 L211.0,403.2 L212.5,403.2 L214.0,403.3 L215.5,403.3 L217.0,403.4 L218.5,403.4 L220.0,403.5 L221.5,403.5 L223.0,403.5 L224.5,403.6 L226.0,403.6 L227.5,403.6 L229.0,403.6 L230.5,403.7 L232.0,403.7 L233.5,403.7 L235.0,403.7 L236.5,403.7 L238.0,403.8 L239.5,403.8 L241.0,403.8 L242.5,403.8 L244.0,403.8 L245.5,403.9 L247.0,403.9 L248.5,403.9 L250.0,403.9 L251.5,403.9 L253.0,403.9 L254.5,403.9 L256.0,403.9 L257.5,404.0 L259.0,404.0 L260.5,404.0 L262.0,404.0 L263.5,404.0 L265.0,404.0 L266.5,404.0 L268.0,404.0 L269.5,404.0 L271.0,404.0 L272.5,404.0 L274.0,404.1" fill="none" stroke="#1717f0" stroke-width="2.1" stroke-dasharray="7,3.6"/>
<path d="M43.0,403.4 L44.5,403.3 L46.0,403.3 L47.5,403.3 L49.0,403.2 L50.5,403.2 L52.0,403.2 L53.5,403.1 L55.0,403.1 L56.5,403.1 L58.0,403.0 L59.5,403.0 L61.0,402.9 L62.5,402.9 L64.0,402.8 L65.5,402.7 L67.0,402.7 L68.5,402.6 L70.0,402.5 L71.5,402.4 L73.0,402.3 L74.5,402.2 L76.0,402.1 L77.5,401.9 L79.0,401.8 L80.5,401.6 L82.0,401.4 L83.5,401.2 L85.0,400.9 L86.5,400.7 L88.0,400.4 L89.5,400.0 L91.0,399.6 L92.5,399.2 L94.0,398.7 L95.5,398.2 L97.0,397.6 L98.5,396.9 L100.0,396.2 L101.5,395.4 L103.0,394.6 L104.5,393.7 L106.0,392.7 L107.5,391.6 L109.0,390.4 L110.5,389.2 L112.0,387.9 L113.5,386.5 L115.0,385.0 L116.5,383.5 L118.0,381.9 L119.5,380.3 L121.0,378.6 L122.5,376.9 L124.0,375.1 L125.5,373.4 L127.0,371.7 L128.5,370.0 L130.0,368.3 L131.5,366.7 L133.0,365.2 L134.5,363.8 L136.0,362.5 L137.5,361.4 L139.0,360.5 L140.5,359.7 L142.0,359.1 L143.5,358.6 L145.0,358.4 L146.5,358.4 L148.0,358.5 L149.5,358.8 L151.0,359.3 L152.5,359.9 L154.0,360.7 L155.5,361.6 L157.0,362.6 L158.5,363.7 L160.0,364.9 L161.5,366.1 L163.0,367.4 L164.5,368.8 L166.0,370.2 L167.5,371.6 L169.0,373.1 L170.5,374.5 L172.0,376.0 L173.5,377.4 L175.0,378.8 L176.5,380.2 L178.0,381.6 L179.5,382.9 L181.0,384.1 L182.5,385.4 L184.0,386.5 L185.5,387.7 L187.0,388.7 L188.5,389.8 L190.0,390.7 L191.5,391.7 L193.0,392.5 L194.5,393.3 L196.0,394.1 L197.5,394.8 L199.0,395.5 L200.5,396.2 L202.0,396.8 L203.5,397.3 L205.0,397.8 L206.5,398.3 L208.0,398.7 L209.5,399.1 L211.0,399.5 L212.5,399.9 L214.0,400.2 L215.5,400.5 L217.0,400.7 L218.5,401.0 L220.0,401.2 L221.5,401.4 L223.0,401.6 L224.5,401.8 L226.0,401.9 L227.5,402.1 L229.0,402.2 L230.5,402.3 L232.0,402.4 L233.5,402.5 L235.0,402.6 L236.5,402.7 L238.0,402.8 L239.5,402.9 L241.0,402.9 L242.5,403.0 L244.0,403.0 L245.5,403.1 L247.0,403.1 L248.5,403.2 L250.0,403.2 L251.5,403.3 L253.0,403.3 L254.5,403.3 L256.0,403.4 L257.5,403.4 L259.0,403.4 L260.5,403.4 L262.0,403.5 L263.5,403.5 L265.0,403.5 L266.5,403.5 L268.0,403.6 L269.5,403.6 L271.0,403.6 L272.5,403.6 L274.0,403.6" fill="none" stroke="#7b7b7b" stroke-width="2.1"/>
<path d="M20.4,452.3 L21.4,452.1 L22.4,452.6 L23.4,453.4 L24.4,453.5 L25.4,453.2 L26.4,453.2 L27.4,453.3 L28.4,452.6 L29.4,453.0 L30.4,453.2 L31.4,453.9 L32.4,453.6 L33.4,453.8 L34.4,453.7 L35.4,453.7 L36.4,453.2 L37.4,453.3 L38.4,452.7 L39.4,452.7 L40.4,453.3 L41.4,453.7 L42.4,453.3 L43.4,453.9 L44.4,453.8 L45.4,452.7 L46.4,452.4 L47.4,453.0 L48.4,453.1 L49.4,453.3 L50.4,453.5 L51.4,453.4 L52.4,453.6 L53.4,453.5 L54.4,453.3 L55.4,452.9 L56.4,452.8 L57.4,453.1 L58.4,452.7 L59.4,452.9 L60.4,453.6 L61.4,453.9 L62.4,453.0 L63.4,452.9 L64.4,452.6 L65.4,453.0 L66.4,452.8 L67.4,453.1 L68.4,452.9 L69.4,453.1 L70.4,452.6 L71.4,453.1 L72.4,452.4 L73.4,453.0 L74.4,453.1 L75.4,452.7 L76.4,452.4 L77.4,452.3 L78.4,451.8 L79.4,451.5 L80.4,450.7 L81.4,450.4 L82.4,450.2 L83.4,449.8 L84.4,449.4 L85.4,450.3 L86.4,449.9 L87.4,450.4 L88.4,450.2 L89.4,449.6 L90.4,449.5 L91.4,449.4 L92.4,449.0 L93.4,448.7 L94.4,449.0 L95.4,448.1 L96.4,447.8 L97.4,447.0 L98.4,447.2 L99.4,446.2 L100.4,445.3 L101.4,444.1 L102.4,443.8 L103.4,442.6 L104.4,441.8 L105.4,441.2 L106.4,440.8 L107.4,439.3 L108.4,438.7 L109.4,438.1 L110.4,437.4 L111.4,436.5 L112.4,436.0 L113.4,435.1 L114.4,434.5 L115.4,433.8 L116.4,433.3 L117.4,431.7 L118.4,430.7 L119.4,429.5 L120.4,428.7 L121.4,427.2 L122.4,426.6 L123.4,425.7 L124.4,424.9 L125.4,424.0 L126.4,423.4 L127.4,422.9 L128.4,421.6 L129.4,420.2 L130.4,419.3 L131.4,418.7 L132.4,417.6 L133.4,417.2 L134.4,417.1 L135.4,415.5 L136.4,414.9 L137.4,413.8 L138.4,413.3 L139.4,412.5 L140.4,411.6 L141.4,410.3 L142.4,410.3 L143.4,409.4 L144.4,408.8 L145.4,409.1 L146.4,409.0 L147.4,408.1 L148.4,408.0 L149.4,407.9 L150.4,408.2 L151.4,408.2 L152.4,408.9 L153.4,409.5 L154.4,410.0 L155.4,409.9 L156.4,410.0 L157.4,409.6 L158.4,409.2 L159.4,408.6 L160.4,408.5 L161.4,408.6 L162.4,409.3 L163.4,409.9 L164.4,410.4 L165.4,410.2 L166.4,410.8 L167.4,410.7 L168.4,410.7 L169.4,411.0 L170.4,411.5 L171.4,412.3 L172.4,413.0 L173.4,414.8 L174.4,415.8 L175.4,417.1 L176.4,418.1 L177.4,418.9 L178.4,418.9 L179.4,419.5 L180.4,420.2 L181.4,420.9 L182.4,422.0 L183.4,423.3 L184.4,424.1 L185.4,425.1 L186.4,425.2 L187.4,426.0 L188.4,425.8 L189.4,426.9 L190.4,428.0 L191.4,429.5 L192.4,429.8 L193.4,431.3 L194.4,431.7 L195.4,431.9 L196.4,431.9 L197.4,433.3 L198.4,434.2 L199.4,435.0 L200.4,435.7 L201.4,436.7 L202.4,437.8 L203.4,438.3 L204.4,439.0 L205.4,439.3 L206.4,439.9 L207.4,440.1 L208.4,440.9 L209.4,441.6 L210.4,442.5 L211.4,443.1 L212.4,442.7 L213.4,442.9 L214.4,443.2 L215.4,444.2 L216.4,444.3 L217.4,445.0 L218.4,445.2 L219.4,445.7 L220.4,446.0 L221.4,447.0 L222.4,447.3 L223.4,447.8 L224.4,448.6 L225.4,448.1 L226.4,449.0 L227.4,449.8 L228.4,450.1 L229.4,449.6 L230.4,450.2 L231.4,449.7 L232.4,450.2 L233.4,449.7 L234.4,450.2 L235.4,450.0 L236.4,450.2 L237.4,450.1 L238.4,450.2 L239.4,450.5 L240.4,451.4 L241.4,452.1 L242.4,452.3 L243.4,452.9 L244.4,452.8 L245.4,452.5 L246.4,451.9 L247.4,451.8 L248.4,452.0 L249.4,452.9 L250.4,453.4 L251.4,453.3 L252.4,453.8 L253.4,454.2 L254.4,453.7 L255.4,453.5 L256.4,453.3 L257.4,452.5 L258.4,452.6 L259.4,452.3 L260.4,452.2 L261.4,452.8 L262.4,453.3 L263.4,453.2 L264.4,453.7 L265.4,454.5 L266.4,454.2 L267.4,454.5 L268.4,454.0 L269.4,454.0 L270.4,453.7 L271.4,454.0 L272.4,454.0 L273.4,454.3" fill="none" stroke="#f6b40e" stroke-width="2.0" stroke-linejoin="round"/>
<path d="M43.0,453.8 L44.5,453.8 L46.0,453.8 L47.5,453.7 L49.0,453.7 L50.5,453.7 L52.0,453.7 L53.5,453.7 L55.0,453.7 L56.5,453.6 L58.0,453.6 L59.5,453.6 L61.0,453.5 L62.5,453.5 L64.0,453.4 L65.5,453.4 L67.0,453.3 L68.5,453.2 L70.0,453.1 L71.5,453.0 L73.0,452.9 L74.5,452.7 L76.0,452.6 L77.5,452.4 L79.0,452.2 L80.5,451.9 L82.0,451.7 L83.5,451.4 L85.0,451.0 L86.5,450.7 L88.0,450.3 L89.5,449.8 L91.0,449.4 L92.5,448.8 L94.0,448.2 L95.5,447.6 L97.0,446.9 L98.5,446.2 L100.0,445.4 L101.5,444.6 L103.0,443.7 L104.5,442.7 L106.0,441.7 L107.5,440.6 L109.0,439.5 L110.5,438.3 L112.0,437.1 L113.5,435.8 L115.0,434.5 L116.5,433.1 L118.0,431.7 L119.5,430.3 L121.0,428.9 L122.5,427.4 L124.0,425.9 L125.5,424.5 L127.0,423.0 L128.5,421.6 L130.0,420.2 L131.5,418.8 L133.0,417.4 L134.5,416.1 L136.0,414.9 L137.5,413.8 L139.0,412.7 L140.5,411.7 L142.0,410.8 L143.5,410.0 L145.0,409.4 L146.5,408.8 L148.0,408.4 L149.5,408.1 L151.0,407.9 L152.5,407.8 L154.0,407.8 L155.5,407.9 L157.0,408.0 L158.5,408.3 L160.0,408.6 L161.5,409.0 L163.0,409.5 L164.5,410.1 L166.0,410.7 L167.5,411.5 L169.0,412.2 L170.5,413.1 L172.0,414.0 L173.5,415.0 L175.0,416.0 L176.5,417.0 L178.0,418.1 L179.5,419.2 L181.0,420.4 L182.5,421.6 L184.0,422.8 L185.5,424.0 L187.0,425.2 L188.5,426.4 L190.0,427.6 L191.5,428.8 L193.0,430.0 L194.5,431.2 L196.0,432.4 L197.5,433.5 L199.0,434.6 L200.5,435.7 L202.0,436.8 L203.5,437.8 L205.0,438.8 L206.5,439.8 L208.0,440.7 L209.5,441.6 L211.0,442.4 L212.5,443.2 L214.0,444.0 L215.5,444.7 L217.0,445.4 L218.5,446.1 L220.0,446.7 L221.5,447.3 L223.0,447.8 L224.5,448.3 L226.0,448.8 L227.5,449.3 L229.0,449.7 L230.5,450.0 L232.0,450.4 L233.5,450.7 L235.0,451.0 L236.5,451.3 L238.0,451.5 L239.5,451.8 L241.0,452.0 L242.5,452.2 L244.0,452.4 L245.5,452.5 L247.0,452.7 L248.5,452.8 L250.0,452.9 L251.5,453.0 L253.0,453.1 L254.5,453.2 L256.0,453.3 L257.5,453.3 L259.0,453.4 L260.5,453.4 L262.0,453.5 L263.5,453.5 L265.0,453.6 L266.5,453.6 L268.0,453.6 L269.5,453.6 L271.0,453.7 L272.5,453.7 L274.0,453.7" fill="none" stroke="#9a9a9a" stroke-width="2.1" stroke-dasharray="7,3.6"/>
<path d="M20.4,502.9 L21.4,502.3 L22.4,501.8 L23.4,501.8 L24.4,503.2 L25.4,503.7 L26.4,504.2 L27.4,503.9 L28.4,503.7 L29.4,502.4 L30.4,502.2 L31.4,501.5 L32.4,502.5 L33.4,502.5 L34.4,503.0 L35.4,502.0 L36.4,502.4 L37.4,501.9 L38.4,502.2 L39.4,502.0 L40.4,503.0 L41.4,503.1 L42.4,502.2 L43.4,501.8 L44.4,500.7 L45.4,500.8 L46.4,500.8 L47.4,501.5 L48.4,501.4 L49.4,502.1 L50.4,502.5 L51.4,503.0 L52.4,503.1 L53.4,503.9 L54.4,503.4 L55.4,501.9 L56.4,501.0 L57.4,500.6 L58.4,499.8 L59.4,500.5 L60.4,502.4 L61.4,502.2 L62.4,502.5 L63.4,502.8 L64.4,502.6 L65.4,501.7 L66.4,502.5 L67.4,501.9 L68.4,501.8 L69.4,501.6 L70.4,501.2 L71.4,499.8 L72.4,499.5 L73.4,498.3 L74.4,498.5 L75.4,498.2 L76.4,498.7 L77.4,498.3 L78.4,498.8 L79.4,498.1 L80.4,497.2 L81.4,496.6 L82.4,497.6 L83.4,497.6 L84.4,497.6 L85.4,498.1 L86.4,497.9 L87.4,497.3 L88.4,496.8 L89.4,496.7 L90.4,496.0 L91.4,495.8 L92.4,495.3 L93.4,494.6 L94.4,494.8 L95.4,494.6 L96.4,494.3 L97.4,494.8 L98.4,495.1 L99.4,493.0 L100.4,492.6 L101.4,492.1 L102.4,491.4 L103.4,490.7 L104.4,491.0 L105.4,489.6 L106.4,488.3 L107.4,487.0 L108.4,485.9 L109.4,484.5 L110.4,484.1 L111.4,483.5 L112.4,482.7 L113.4,481.8 L114.4,481.3 L115.4,480.2 L116.4,480.0 L117.4,479.8 L118.4,478.8 L119.4,478.5 L120.4,478.3 L121.4,477.3 L122.4,476.0 L123.4,474.9 L124.4,473.8 L125.4,473.2 L126.4,471.8 L127.4,471.5 L128.4,471.8 L129.4,471.4 L130.4,471.0 L131.4,470.8 L132.4,469.1 L133.4,467.3 L134.4,465.5 L135.4,464.0 L136.4,463.0 L137.4,462.7 L138.4,461.5 L139.4,462.1 L140.4,462.3 L141.4,461.7 L142.4,461.1 L143.4,461.5 L144.4,460.2 L145.4,458.8 L146.4,458.3 L147.4,457.3 L148.4,456.8 L149.4,456.4 L150.4,456.3 L151.4,455.8 L152.4,455.9 L153.4,455.7 L154.4,455.8 L155.4,455.2 L156.4,455.6 L157.4,456.0 L158.4,456.2 L159.4,455.8 L160.4,456.1 L161.4,455.9 L162.4,455.9 L163.4,456.5 L164.4,456.8 L165.4,457.0 L166.4,457.5 L167.4,457.7 L168.4,457.2 L169.4,457.4 L170.4,458.1 L171.4,458.8 L172.4,458.8 L173.4,459.4 L174.4,460.6 L175.4,460.8 L176.4,461.3 L177.4,462.7 L178.4,463.8 L179.4,464.1 L180.4,465.4 L181.4,466.0 L182.4,466.9 L183.4,467.5 L184.4,469.3 L185.4,469.5 L186.4,470.5 L187.4,471.3 L188.4,473.0 L189.4,473.3 L190.4,475.1 L191.4,475.9 L192.4,477.1 L193.4,478.3 L194.4,479.4 L195.4,480.2 L196.4,481.0 L197.4,482.0 L198.4,482.7 L199.4,483.7 L200.4,483.9 L201.4,485.3 L202.4,486.2 L203.4,486.9 L204.4,488.0 L205.4,488.5 L206.4,488.8 L207.4,489.6 L208.4,489.4 L209.4,490.2 L210.4,492.3 L211.4,493.5 L212.4,494.0 L213.4,494.9 L214.4,494.5 L215.4,494.3 L216.4,494.4 L217.4,494.4 L218.4,495.3 L219.4,496.1 L220.4,496.7 L221.4,497.3 L222.4,497.7 L223.4,498.5 L224.4,499.1 L225.4,499.4 L226.4,499.4 L227.4,499.5 L228.4,499.6 L229.4,499.7 L230.4,499.5 L231.4,499.6 L232.4,500.0 L233.4,499.5 L234.4,500.0 L235.4,500.1 L236.4,500.7 L237.4,501.0 L238.4,500.8 L239.4,500.5 L240.4,501.1 L241.4,501.2 L242.4,501.1 L243.4,501.7 L244.4,501.2 L245.4,500.9 L246.4,501.0 L247.4,501.7 L248.4,501.6 L249.4,502.1 L250.4,503.0 L251.4,501.9 L252.4,501.2 L253.4,501.6 L254.4,502.1 L255.4,501.3 L256.4,501.4 L257.4,502.3 L258.4,502.1 L259.4,501.5 L260.4,502.0 L261.4,503.1 L262.4,501.5 L263.4,501.9 L264.4,502.6 L265.4,501.7 L266.4,501.7 L267.4,502.0 L268.4,502.1 L269.4,501.9 L270.4,503.6 L271.4,503.1 L272.4,503.8 L273.4,503.8" fill="none" stroke="#000" stroke-width="2.0" stroke-linejoin="round"/>
<path d="M43.0,502.5 L44.5,502.4 L46.0,502.4 L47.5,502.4 L49.0,502.3 L50.5,502.3 L52.0,502.2 L53.5,502.2 L55.0,502.1 L56.5,502.1 L58.0,502.0 L59.5,501.9 L61.0,501.8 L62.5,501.7 L64.0,501.6 L65.5,501.5 L67.0,501.3 L68.5,501.2 L70.0,501.0 L71.5,500.8 L73.0,500.6 L74.5,500.3 L76.0,500.1 L77.5,499.8 L79.0,499.5 L80.5,499.1 L82.0,498.7 L83.5,498.3 L85.0,497.9 L86.5,497.4 L88.0,496.9 L89.5,496.4 L91.0,495.8 L92.5,495.2 L94.0,494.5 L95.5,493.8 L97.0,493.1 L98.5,492.3 L100.0,491.5 L101.5,490.6 L103.0,489.7 L104.5,488.8 L106.0,487.8 L107.5,486.8 L109.0,485.7 L110.5,484.6 L112.0,483.5 L113.5,482.3 L115.0,481.1 L116.5,479.9 L118.0,478.7 L119.5,477.4 L121.0,476.2 L122.5,474.9 L124.0,473.6 L125.5,472.4 L127.0,471.1 L128.5,469.8 L130.0,468.6 L131.5,467.4 L133.0,466.2 L134.5,465.1 L136.0,464.0 L137.5,462.9 L139.0,461.9 L140.5,461.0 L142.0,460.1 L143.5,459.3 L145.0,458.5 L146.5,457.8 L148.0,457.3 L149.5,456.8 L151.0,456.3 L152.5,456.0 L154.0,455.8 L155.5,455.6 L157.0,455.6 L158.5,455.6 L160.0,455.6 L161.5,455.7 L163.0,455.9 L164.5,456.2 L166.0,456.7 L167.5,457.2 L169.0,457.9 L170.5,458.6 L172.0,459.5 L173.5,460.4 L175.0,461.4 L176.5,462.5 L178.0,463.7 L179.5,464.9 L181.0,466.2 L182.5,467.5 L184.0,468.8 L185.5,470.2 L187.0,471.6 L188.5,473.0 L190.0,474.4 L191.5,475.8 L193.0,477.2 L194.5,478.6 L196.0,480.0 L197.5,481.4 L199.0,482.7 L200.5,484.0 L202.0,485.2 L203.5,486.4 L205.0,487.5 L206.5,488.7 L208.0,489.7 L209.5,490.7 L211.0,491.7 L212.5,492.6 L214.0,493.4 L215.5,494.2 L217.0,495.0 L218.5,495.7 L220.0,496.3 L221.5,496.9 L223.0,497.5 L224.5,498.0 L226.0,498.5 L227.5,498.9 L229.0,499.3 L230.5,499.7 L232.0,500.0 L233.5,500.3 L235.0,500.6 L236.5,500.8 L238.0,501.0 L239.5,501.2 L241.0,501.4 L242.5,501.5 L244.0,501.7 L245.5,501.8 L247.0,501.9 L248.5,502.0 L250.0,502.1 L251.5,502.2 L253.0,502.2 L254.5,502.3 L256.0,502.3 L257.5,502.4 L259.0,502.4 L260.5,502.4 L262.0,502.5 L263.5,502.5 L265.0,502.5 L266.5,502.5 L268.0,502.5 L269.5,502.5 L271.0,502.5 L272.5,502.6 L274.0,502.6" fill="none" stroke="#9a9a9a" stroke-width="2.1" stroke-dasharray="7,3.6"/>
<path d="M116.8,298.9 L138,298.9 L138,403.6" fill="none" stroke="#1717f0" stroke-width="2.1" stroke-dasharray="2.1,2.2"/>
<path d="M183.6,310.3 L160.2,310.3 L160.2,501" fill="none" stroke="#a0a0a0" stroke-width="1.9" stroke-dasharray="1.9,2.4"/>
<text x="54.2" y="303.7" font-size="11.2" fill="#1717f0">Zn<tspan font-size="8" dy="-4.2">2+</tspan><tspan dy="4.2">–CO</tspan><tspan font-size="8" dy="2.6">3</tspan><tspan font-size="8" dy="-6.8">2−</tspan></text>
<text x="189.5" y="315.8" font-size="11.2" fill="#8e8e8e">Zn<tspan font-size="8" dy="-4.2">2+</tspan><tspan dy="4.2">–O</tspan><tspan font-size="8" dy="-4.2">2−</tspan></text>
<text x="80.7" y="337.2" font-size="11.2" text-anchor="start" fill="#1717f0" font-weight="normal" font-style="normal" >59%</text>
<text x="80.5" y="388.4" font-size="11.2" text-anchor="start" fill="#1717f0" font-weight="normal" font-style="normal" >58%</text>
<path d="M371.0,350.8 L372.0,351.4 L373.0,352.2 L374.0,352.5 L375.0,353.6 L376.0,354.0 L377.0,354.5 L378.0,353.8 L379.0,354.3 L380.0,352.0 L381.0,352.3 L382.0,351.4 L383.0,351.5 L384.0,350.6 L385.0,351.6 L386.0,351.0 L387.0,349.8 L388.0,349.7 L389.0,349.7 L390.0,349.6 L391.0,349.4 L392.0,350.7 L393.0,351.5 L394.0,351.7 L395.0,351.7 L396.0,353.2 L397.0,353.9 L398.0,353.9 L399.0,354.8 L400.0,354.9 L401.0,354.0 L402.0,354.1 L403.0,353.1 L404.0,352.4 L405.0,352.8 L406.0,353.1 L407.0,352.2 L408.0,353.2 L409.0,353.1 L410.0,353.3 L411.0,353.7 L412.0,354.3 L413.0,354.1 L414.0,353.5 L415.0,352.3 L416.0,351.2 L417.0,351.1 L418.0,351.6 L419.0,351.5 L420.0,352.5 L421.0,352.3 L422.0,351.6 L423.0,350.5 L424.0,351.6 L425.0,351.6 L426.0,352.8 L427.0,352.6 L428.0,353.4 L429.0,353.5 L430.0,353.4 L431.0,352.9 L432.0,353.2 L433.0,351.9 L434.0,351.1 L435.0,350.6 L436.0,352.1 L437.0,352.1 L438.0,353.8 L439.0,354.1 L440.0,354.7 L441.0,353.3 L442.0,353.1 L443.0,352.6 L444.0,352.7 L445.0,351.6 L446.0,351.4 L447.0,352.2 L448.0,351.9 L449.0,352.5 L450.0,353.2 L451.0,353.0 L452.0,353.1 L453.0,352.2 L454.0,351.9 L455.0,351.1 L456.0,349.9 L457.0,349.7 L458.0,349.5 L459.0,348.5 L460.0,348.3 L461.0,349.0 L462.0,347.8 L463.0,348.6 L464.0,347.5 L465.0,348.7 L466.0,348.3 L467.0,348.8 L468.0,348.3 L469.0,349.1 L470.0,347.8 L471.0,346.2 L472.0,345.9 L473.0,345.1 L474.0,344.4 L475.0,345.2 L476.0,345.3 L477.0,344.4 L478.0,344.3 L479.0,343.6 L480.0,343.2 L481.0,344.0 L482.0,343.5 L483.0,342.9 L484.0,343.7 L485.0,342.7 L486.0,342.7 L487.0,343.1 L488.0,342.1 L489.0,340.5 L490.0,340.5 L491.0,339.9 L492.0,339.7 L493.0,340.9 L494.0,341.8 L495.0,341.2 L496.0,340.4 L497.0,340.0 L498.0,338.8 L499.0,338.4 L500.0,337.3 L501.0,337.4 L502.0,336.4 L503.0,335.1 L504.0,334.6 L505.0,335.4 L506.0,334.6 L507.0,333.7 L508.0,334.2 L509.0,334.1 L510.0,333.0 L511.0,330.4 L512.0,330.1 L513.0,329.2 L514.0,327.7 L515.0,327.5 L516.0,328.5 L517.0,328.0 L518.0,328.8 L519.0,327.5 L520.0,328.3 L521.0,327.9 L522.0,327.1 L523.0,326.2 L524.0,326.7 L525.0,324.1 L526.0,324.1 L527.0,322.9 L528.0,321.0 L529.0,320.4 L530.0,320.0 L531.0,317.7 L532.0,318.2 L533.0,318.2 L534.0,316.4 L535.0,314.3 L536.0,313.8 L537.0,312.6 L538.0,311.4 L539.0,311.6 L540.0,311.6 L541.0,310.9 L542.0,310.1 L543.0,310.2 L544.0,308.5 L545.0,309.8 L546.0,309.0 L547.0,310.4 L548.0,310.2 L549.0,312.3 L550.0,313.2 L551.0,315.6 L552.0,316.5 L553.0,318.6 L554.0,320.1 L555.0,320.7 L556.0,322.3 L557.0,322.7 L558.0,325.6 L559.0,326.6 L560.0,328.5 L561.0,329.6 L562.0,332.7 L563.0,332.2 L564.0,334.5 L565.0,336.3 L566.0,338.5 L567.0,339.4 L568.0,340.1 L569.0,340.0 L570.0,340.1 L571.0,340.2 L572.0,340.6 L573.0,341.9 L574.0,343.7 L575.0,342.6 L576.0,343.6 L577.0,343.6 L578.0,343.9 L579.0,343.7 L580.0,346.4 L581.0,347.2 L582.0,347.9 L583.0,348.8 L584.0,349.0 L585.0,347.9 L586.0,348.0 L587.0,347.6 L588.0,346.8 L589.0,346.8 L590.0,348.2 L591.0,348.5 L592.0,349.0 L593.0,349.7 L594.0,349.2 L595.0,349.5 L596.0,349.9 L597.0,351.6 L598.0,352.6 L599.0,352.8 L600.0,352.3 L601.0,351.4 L602.0,350.5 L603.0,351.0 L604.0,352.0 L605.0,351.0 L606.0,350.9 L607.0,349.9 L608.0,349.1 L609.0,348.7 L610.0,350.3 L611.0,352.2 L612.0,352.5 L613.0,351.7 L614.0,352.9 L615.0,353.0 L616.0,351.5 L617.0,350.8 L618.0,350.4 L619.0,347.7 L620.0,347.5 L621.0,348.1 L622.0,350.0 L623.0,350.8 L624.0,351.9 L625.0,351.5" fill="none" stroke="#6aa842" stroke-width="2.0" stroke-linejoin="round"/>
<path d="M413.0,352.7 L414.5,352.7 L416.0,352.7 L417.5,352.7 L419.0,352.7 L420.5,352.7 L422.0,352.7 L423.5,352.7 L425.0,352.7 L426.5,352.7 L428.0,352.7 L429.5,352.7 L431.0,352.7 L432.5,352.6 L434.0,352.6 L435.5,352.6 L437.0,352.6 L438.5,352.6 L440.0,352.6 L441.5,352.6 L443.0,352.6 L444.5,352.6 L446.0,352.6 L447.5,352.6 L449.0,352.6 L450.5,352.5 L452.0,352.5 L453.5,352.5 L455.0,352.5 L456.5,352.5 L458.0,352.4 L459.5,352.4 L461.0,352.4 L462.5,352.3 L464.0,352.3 L465.5,352.2 L467.0,352.1 L468.5,352.0 L470.0,352.0 L471.5,351.8 L473.0,351.7 L474.5,351.6 L476.0,351.4 L477.5,351.3 L479.0,351.1 L480.5,350.9 L482.0,350.6 L483.5,350.4 L485.0,350.1 L486.5,349.8 L488.0,349.4 L489.5,349.1 L491.0,348.7 L492.5,348.3 L494.0,347.9 L495.5,347.4 L497.0,347.0 L498.5,346.5 L500.0,346.1 L501.5,345.6 L503.0,345.1 L504.5,344.7 L506.0,344.2 L507.5,343.8 L509.0,343.4 L510.5,343.0 L512.0,342.7 L513.5,342.4 L515.0,342.2 L516.5,342.0 L518.0,341.9 L519.5,341.8 L521.0,341.8 L522.5,341.9 L524.0,342.0 L525.5,342.2 L527.0,342.5 L528.5,342.8 L530.0,343.1 L531.5,343.5 L533.0,343.9 L534.5,344.4 L536.0,344.8 L537.5,345.3 L539.0,345.7 L540.5,346.2 L542.0,346.7 L543.5,347.1 L545.0,347.6 L546.5,348.0 L548.0,348.4 L549.5,348.8 L551.0,349.2 L552.5,349.6 L554.0,349.9 L555.5,350.2 L557.0,350.5 L558.5,350.7 L560.0,350.9 L561.5,351.1 L563.0,351.3 L564.5,351.5 L566.0,351.6 L567.5,351.8 L569.0,351.9 L570.5,352.0 L572.0,352.1 L573.5,352.2 L575.0,352.2 L576.5,352.3 L578.0,352.3 L579.5,352.4 L581.0,352.4 L582.5,352.4 L584.0,352.5 L585.5,352.5 L587.0,352.5 L588.5,352.5 L590.0,352.5 L591.5,352.6 L593.0,352.6 L594.5,352.6 L596.0,352.6 L597.5,352.6 L599.0,352.6 L600.5,352.6 L602.0,352.6 L603.5,352.6 L605.0,352.6 L606.5,352.6 L608.0,352.6 L609.5,352.7 L611.0,352.7 L612.5,352.7 L614.0,352.7 L615.5,352.7 L617.0,352.7 L618.5,352.7 L620.0,352.7 L621.5,352.7 L623.0,352.7 L624.5,352.7" fill="none" stroke="#a6a6a6" stroke-width="2.1" stroke-dasharray="7,3.6"/>
<path d="M413.0,352.5 L414.5,352.5 L416.0,352.5 L417.5,352.5 L419.0,352.5 L420.5,352.4 L422.0,352.4 L423.5,352.4 L425.0,352.4 L426.5,352.4 L428.0,352.4 L429.5,352.4 L431.0,352.4 L432.5,352.4 L434.0,352.4 L435.5,352.3 L437.0,352.3 L438.5,352.3 L440.0,352.3 L441.5,352.3 L443.0,352.3 L444.5,352.3 L446.0,352.2 L447.5,352.2 L449.0,352.2 L450.5,352.2 L452.0,352.2 L453.5,352.1 L455.0,352.1 L456.5,352.1 L458.0,352.1 L459.5,352.1 L461.0,352.0 L462.5,352.0 L464.0,352.0 L465.5,351.9 L467.0,351.9 L468.5,351.9 L470.0,351.9 L471.5,351.8 L473.0,351.8 L474.5,351.7 L476.0,351.7 L477.5,351.6 L479.0,351.6 L480.5,351.5 L482.0,351.5 L483.5,351.4 L485.0,351.4 L486.5,351.3 L488.0,351.2 L489.5,351.1 L491.0,351.0 L492.5,350.9 L494.0,350.8 L495.5,350.7 L497.0,350.5 L498.5,350.4 L500.0,350.2 L501.5,350.0 L503.0,349.7 L504.5,349.5 L506.0,349.1 L507.5,348.7 L509.0,348.3 L510.5,347.8 L512.0,347.2 L513.5,346.6 L515.0,345.8 L516.5,344.9 L518.0,344.0 L519.5,342.9 L521.0,341.7 L522.5,340.3 L524.0,338.9 L525.5,337.3 L527.0,335.7 L528.5,333.9 L530.0,332.0 L531.5,330.1 L533.0,328.2 L534.5,326.3 L536.0,324.4 L537.5,322.6 L539.0,321.1 L540.5,319.7 L542.0,318.6 L543.5,317.9 L545.0,317.6 L546.5,317.7 L548.0,318.2 L549.5,319.1 L551.0,320.3 L552.5,321.8 L554.0,323.4 L555.5,325.3 L557.0,327.2 L558.5,329.1 L560.0,331.0 L561.5,332.9 L563.0,334.7 L564.5,336.5 L566.0,338.1 L567.5,339.6 L569.0,341.0 L570.5,342.3 L572.0,343.4 L573.5,344.4 L575.0,345.3 L576.5,346.2 L578.0,346.9 L579.5,347.5 L581.0,348.0 L582.5,348.5 L584.0,348.9 L585.5,349.3 L587.0,349.6 L588.5,349.9 L590.0,350.1 L591.5,350.3 L593.0,350.5 L594.5,350.6 L596.0,350.7 L597.5,350.9 L599.0,351.0 L600.5,351.1 L602.0,351.2 L603.5,351.2 L605.0,351.3 L606.5,351.4 L608.0,351.5 L609.5,351.5 L611.0,351.6 L612.5,351.6 L614.0,351.7 L615.5,351.7 L617.0,351.8 L618.5,351.8 L620.0,351.8 L621.5,351.9 L623.0,351.9 L624.5,351.9" fill="none" stroke="#f21c1c" stroke-width="2.1" stroke-dasharray="7,3.6"/>
<path d="M413.0,352.7 L414.5,352.7 L416.0,352.7 L417.5,352.7 L419.0,352.7 L420.5,352.7 L422.0,352.7 L423.5,352.7 L425.0,352.7 L426.5,352.7 L428.0,352.7 L429.5,352.7 L431.0,352.7 L432.5,352.6 L434.0,352.6 L435.5,352.6 L437.0,352.6 L438.5,352.6 L440.0,352.6 L441.5,352.5 L443.0,352.5 L444.5,352.5 L446.0,352.4 L447.5,352.4 L449.0,352.4 L450.5,352.3 L452.0,352.2 L453.5,352.2 L455.0,352.1 L456.5,352.0 L458.0,351.9 L459.5,351.7 L461.0,351.6 L462.5,351.5 L464.0,351.3 L465.5,351.1 L467.0,350.9 L468.5,350.7 L470.0,350.5 L471.5,350.3 L473.0,350.0 L474.5,349.8 L476.0,349.5 L477.5,349.3 L479.0,349.0 L480.5,348.7 L482.0,348.5 L483.5,348.2 L485.0,347.9 L486.5,347.7 L488.0,347.5 L489.5,347.3 L491.0,347.1 L492.5,347.0 L494.0,346.9 L495.5,346.8 L497.0,346.8 L498.5,346.8 L500.0,346.9 L501.5,346.9 L503.0,347.1 L504.5,347.2 L506.0,347.4 L507.5,347.6 L509.0,347.8 L510.5,348.1 L512.0,348.3 L513.5,348.6 L515.0,348.8 L516.5,349.1 L518.0,349.4 L519.5,349.6 L521.0,349.9 L522.5,350.1 L524.0,350.4 L525.5,350.6 L527.0,350.8 L528.5,351.0 L530.0,351.2 L531.5,351.4 L533.0,351.5 L534.5,351.7 L536.0,351.8 L537.5,351.9 L539.0,352.0 L540.5,352.1 L542.0,352.2 L543.5,352.3 L545.0,352.3 L546.5,352.4 L548.0,352.4 L549.5,352.5 L551.0,352.5 L552.5,352.5 L554.0,352.6 L555.5,352.6 L557.0,352.6 L558.5,352.6 L560.0,352.6 L561.5,352.6 L563.0,352.7 L564.5,352.7 L566.0,352.7 L567.5,352.7 L569.0,352.7 L570.5,352.7 L572.0,352.7 L573.5,352.7 L575.0,352.7 L576.5,352.7 L578.0,352.7 L579.5,352.7 L581.0,352.7 L582.5,352.7 L584.0,352.7 L585.5,352.7 L587.0,352.7 L588.5,352.7 L590.0,352.7 L591.5,352.7 L593.0,352.7 L594.5,352.7 L596.0,352.7 L597.5,352.7 L599.0,352.7 L600.5,352.7 L602.0,352.7 L603.5,352.7 L605.0,352.7 L606.5,352.7 L608.0,352.8 L609.5,352.8 L611.0,352.8 L612.5,352.8 L614.0,352.8 L615.5,352.8 L617.0,352.8 L618.5,352.8 L620.0,352.8 L621.5,352.8 L623.0,352.8 L624.5,352.8" fill="none" stroke="#1717f0" stroke-width="2.1" stroke-dasharray="7,3.6"/>
<path d="M413.0,352.3 L414.5,352.3 L416.0,352.3 L417.5,352.3 L419.0,352.2 L420.5,352.2 L422.0,352.2 L423.5,352.2 L425.0,352.2 L426.5,352.1 L428.0,352.1 L429.5,352.1 L431.0,352.1 L432.5,352.1 L434.0,352.0 L435.5,352.0 L437.0,352.0 L438.5,351.9 L440.0,351.9 L441.5,351.8 L443.0,351.8 L444.5,351.7 L446.0,351.7 L447.5,351.6 L449.0,351.5 L450.5,351.4 L452.0,351.3 L453.5,351.2 L455.0,351.1 L456.5,350.9 L458.0,350.8 L459.5,350.6 L461.0,350.4 L462.5,350.2 L464.0,349.9 L465.5,349.7 L467.0,349.4 L468.5,349.1 L470.0,348.7 L471.5,348.3 L473.0,347.9 L474.5,347.5 L476.0,347.1 L477.5,346.6 L479.0,346.1 L480.5,345.5 L482.0,345.0 L483.5,344.4 L485.0,343.8 L486.5,343.2 L488.0,342.5 L489.5,341.9 L491.0,341.3 L492.5,340.6 L494.0,340.0 L495.5,339.4 L497.0,338.7 L498.5,338.1 L500.0,337.5 L501.5,336.9 L503.0,336.3 L504.5,335.7 L506.0,335.1 L507.5,334.5 L509.0,333.9 L510.5,333.3 L512.0,332.6 L513.5,331.9 L515.0,331.2 L516.5,330.4 L518.0,329.6 L519.5,328.7 L521.0,327.8 L522.5,326.8 L524.0,325.7 L525.5,324.6 L527.0,323.4 L528.5,322.1 L530.0,320.8 L531.5,319.4 L533.0,318.1 L534.5,316.7 L536.0,315.4 L537.5,314.2 L539.0,313.2 L540.5,312.4 L542.0,311.9 L543.5,311.7 L545.0,311.9 L546.5,312.5 L548.0,313.5 L549.5,314.8 L551.0,316.4 L552.5,318.3 L554.0,320.3 L555.5,322.4 L557.0,324.6 L558.5,326.8 L560.0,329.0 L561.5,331.1 L563.0,333.1 L564.5,335.0 L566.0,336.8 L567.5,338.4 L569.0,339.9 L570.5,341.3 L572.0,342.6 L573.5,343.7 L575.0,344.7 L576.5,345.5 L578.0,346.3 L579.5,347.0 L581.0,347.6 L582.5,348.1 L584.0,348.5 L585.5,348.9 L587.0,349.2 L588.5,349.5 L590.0,349.8 L591.5,350.0 L593.0,350.2 L594.5,350.3 L596.0,350.5 L597.5,350.6 L599.0,350.7 L600.5,350.8 L602.0,350.9 L603.5,351.0 L605.0,351.1 L606.5,351.2 L608.0,351.2 L609.5,351.3 L611.0,351.4 L612.5,351.4 L614.0,351.5 L615.5,351.5 L617.0,351.6 L618.5,351.6 L620.0,351.7 L621.5,351.7 L623.0,351.7 L624.5,351.8" fill="none" stroke="#7b7b7b" stroke-width="2.1"/>
<path d="M371.0,402.0 L372.0,400.6 L373.0,402.0 L374.0,402.4 L375.0,402.3 L376.0,401.6 L377.0,401.8 L378.0,400.8 L379.0,400.2 L380.0,400.1 L381.0,400.5 L382.0,401.5 L383.0,402.8 L384.0,402.7 L385.0,403.2 L386.0,403.3 L387.0,402.9 L388.0,402.1 L389.0,402.6 L390.0,401.9 L391.0,401.2 L392.0,401.3 L393.0,402.1 L394.0,402.3 L395.0,402.9 L396.0,403.5 L397.0,402.7 L398.0,400.8 L399.0,400.8 L400.0,400.6 L401.0,400.1 L402.0,399.8 L403.0,401.6 L404.0,400.1 L405.0,401.1 L406.0,401.8 L407.0,403.8 L408.0,402.6 L409.0,403.7 L410.0,402.3 L411.0,402.0 L412.0,400.4 L413.0,400.3 L414.0,401.0 L415.0,400.8 L416.0,400.4 L417.0,400.9 L418.0,401.0 L419.0,400.0 L420.0,400.7 L421.0,400.8 L422.0,399.7 L423.0,399.9 L424.0,400.0 L425.0,400.9 L426.0,400.4 L427.0,401.7 L428.0,401.3 L429.0,401.2 L430.0,399.9 L431.0,400.7 L432.0,400.7 L433.0,402.2 L434.0,402.0 L435.0,403.0 L436.0,403.4 L437.0,403.3 L438.0,401.7 L439.0,402.7 L440.0,401.7 L441.0,401.3 L442.0,400.6 L443.0,401.4 L444.0,401.5 L445.0,402.2 L446.0,401.7 L447.0,402.4 L448.0,402.8 L449.0,401.5 L450.0,401.6 L451.0,400.8 L452.0,400.4 L453.0,399.8 L454.0,401.1 L455.0,400.2 L456.0,400.6 L457.0,399.6 L458.0,398.3 L459.0,397.6 L460.0,397.1 L461.0,396.7 L462.0,397.3 L463.0,397.3 L464.0,396.3 L465.0,395.9 L466.0,397.0 L467.0,397.2 L468.0,397.3 L469.0,396.2 L470.0,396.2 L471.0,394.8 L472.0,393.7 L473.0,393.7 L474.0,394.0 L475.0,393.9 L476.0,393.9 L477.0,393.3 L478.0,392.1 L479.0,391.4 L480.0,390.7 L481.0,389.0 L482.0,388.1 L483.0,387.3 L484.0,386.1 L485.0,385.4 L486.0,385.5 L487.0,385.0 L488.0,385.3 L489.0,384.7 L490.0,383.6 L491.0,383.2 L492.0,383.1 L493.0,381.3 L494.0,382.1 L495.0,381.7 L496.0,381.8 L497.0,381.4 L498.0,381.9 L499.0,382.3 L500.0,381.7 L501.0,380.1 L502.0,378.8 L503.0,377.4 L504.0,375.7 L505.0,374.1 L506.0,373.9 L507.0,374.1 L508.0,374.9 L509.0,374.3 L510.0,376.0 L511.0,375.3 L512.0,374.6 L513.0,372.5 L514.0,371.9 L515.0,370.2 L516.0,371.1 L517.0,371.2 L518.0,371.3 L519.0,371.7 L520.0,372.0 L521.0,370.5 L522.0,369.7 L523.0,369.7 L524.0,368.6 L525.0,366.7 L526.0,366.2 L527.0,366.3 L528.0,366.7 L529.0,366.3 L530.0,366.2 L531.0,365.5 L532.0,364.5 L533.0,363.2 L534.0,362.3 L535.0,362.3 L536.0,361.7 L537.0,360.9 L538.0,359.9 L539.0,358.9 L540.0,358.4 L541.0,358.7 L542.0,357.6 L543.0,357.8 L544.0,359.4 L545.0,359.4 L546.0,359.1 L547.0,361.6 L548.0,363.0 L549.0,364.0 L550.0,364.7 L551.0,367.2 L552.0,366.3 L553.0,366.9 L554.0,368.1 L555.0,370.9 L556.0,370.9 L557.0,373.0 L558.0,374.9 L559.0,374.8 L560.0,375.8 L561.0,378.2 L562.0,379.7 L563.0,381.2 L564.0,384.2 L565.0,385.2 L566.0,386.4 L567.0,388.7 L568.0,389.1 L569.0,389.8 L570.0,390.2 L571.0,391.4 L572.0,391.1 L573.0,392.4 L574.0,393.1 L575.0,394.1 L576.0,395.2 L577.0,395.9 L578.0,397.0 L579.0,397.9 L580.0,399.0 L581.0,398.3 L582.0,399.3 L583.0,399.2 L584.0,398.6 L585.0,398.3 L586.0,398.6 L587.0,398.2 L588.0,398.7 L589.0,398.9 L590.0,397.9 L591.0,397.1 L592.0,397.0 L593.0,395.9 L594.0,396.5 L595.0,397.9 L596.0,400.1 L597.0,400.7 L598.0,401.4 L599.0,401.0 L600.0,401.1 L601.0,401.0 L602.0,401.6 L603.0,400.3 L604.0,401.3 L605.0,401.9 L606.0,401.7 L607.0,400.0 L608.0,401.1 L609.0,400.9 L610.0,400.3 L611.0,399.3 L612.0,399.7 L613.0,400.5 L614.0,399.4 L615.0,400.1 L616.0,400.6 L617.0,401.3 L618.0,400.0 L619.0,400.5 L620.0,400.1 L621.0,399.2 L622.0,400.3 L623.0,400.3 L624.0,399.9 L625.0,399.6" fill="none" stroke="#1cb2ea" stroke-width="2.0" stroke-linejoin="round"/>
<path d="M413.0,401.6 L414.5,401.6 L416.0,401.6 L417.5,401.6 L419.0,401.6 L420.5,401.6 L422.0,401.6 L423.5,401.6 L425.0,401.5 L426.5,401.5 L428.0,401.5 L429.5,401.5 L431.0,401.5 L432.5,401.5 L434.0,401.5 L435.5,401.5 L437.0,401.5 L438.5,401.4 L440.0,401.4 L441.5,401.4 L443.0,401.4 L444.5,401.3 L446.0,401.3 L447.5,401.3 L449.0,401.2 L450.5,401.2 L452.0,401.2 L453.5,401.1 L455.0,401.0 L456.5,401.0 L458.0,400.9 L459.5,400.8 L461.0,400.7 L462.5,400.6 L464.0,400.4 L465.5,400.3 L467.0,400.1 L468.5,399.9 L470.0,399.7 L471.5,399.4 L473.0,399.2 L474.5,398.9 L476.0,398.6 L477.5,398.3 L479.0,397.9 L480.5,397.5 L482.0,397.1 L483.5,396.6 L485.0,396.1 L486.5,395.6 L488.0,395.1 L489.5,394.5 L491.0,393.9 L492.5,393.3 L494.0,392.7 L495.5,392.1 L497.0,391.5 L498.5,390.9 L500.0,390.2 L501.5,389.6 L503.0,389.0 L504.5,388.4 L506.0,387.9 L507.5,387.4 L509.0,386.9 L510.5,386.5 L512.0,386.1 L513.5,385.8 L515.0,385.6 L516.5,385.4 L518.0,385.3 L519.5,385.3 L521.0,385.4 L522.5,385.5 L524.0,385.7 L525.5,386.0 L527.0,386.3 L528.5,386.7 L530.0,387.2 L531.5,387.7 L533.0,388.2 L534.5,388.8 L536.0,389.4 L537.5,390.0 L539.0,390.6 L540.5,391.3 L542.0,391.9 L543.5,392.5 L545.0,393.1 L546.5,393.7 L548.0,394.3 L549.5,394.9 L551.0,395.4 L552.5,396.0 L554.0,396.5 L555.5,396.9 L557.0,397.3 L558.5,397.8 L560.0,398.1 L561.5,398.5 L563.0,398.8 L564.5,399.1 L566.0,399.4 L567.5,399.6 L569.0,399.8 L570.5,400.0 L572.0,400.2 L573.5,400.4 L575.0,400.5 L576.5,400.6 L578.0,400.7 L579.5,400.8 L581.0,400.9 L582.5,401.0 L584.0,401.1 L585.5,401.1 L587.0,401.2 L588.5,401.2 L590.0,401.3 L591.5,401.3 L593.0,401.3 L594.5,401.4 L596.0,401.4 L597.5,401.4 L599.0,401.4 L600.5,401.4 L602.0,401.5 L603.5,401.5 L605.0,401.5 L606.5,401.5 L608.0,401.5 L609.5,401.5 L611.0,401.5 L612.5,401.5 L614.0,401.6 L615.5,401.6 L617.0,401.6 L618.5,401.6 L620.0,401.6 L621.5,401.6 L623.0,401.6 L624.5,401.6" fill="none" stroke="#a6a6a6" stroke-width="2.1" stroke-dasharray="7,3.6"/>
<path d="M413.0,401.5 L414.5,401.5 L416.0,401.5 L417.5,401.5 L419.0,401.5 L420.5,401.5 L422.0,401.5 L423.5,401.4 L425.0,401.4 L426.5,401.4 L428.0,401.4 L429.5,401.4 L431.0,401.4 L432.5,401.4 L434.0,401.4 L435.5,401.4 L437.0,401.4 L438.5,401.3 L440.0,401.3 L441.5,401.3 L443.0,401.3 L444.5,401.3 L446.0,401.3 L447.5,401.3 L449.0,401.2 L450.5,401.2 L452.0,401.2 L453.5,401.2 L455.0,401.2 L456.5,401.2 L458.0,401.1 L459.5,401.1 L461.0,401.1 L462.5,401.1 L464.0,401.0 L465.5,401.0 L467.0,401.0 L468.5,400.9 L470.0,400.9 L471.5,400.9 L473.0,400.8 L474.5,400.8 L476.0,400.8 L477.5,400.7 L479.0,400.7 L480.5,400.6 L482.0,400.6 L483.5,400.5 L485.0,400.4 L486.5,400.4 L488.0,400.3 L489.5,400.2 L491.0,400.1 L492.5,400.0 L494.0,399.9 L495.5,399.8 L497.0,399.7 L498.5,399.5 L500.0,399.4 L501.5,399.2 L503.0,398.9 L504.5,398.7 L506.0,398.4 L507.5,398.0 L509.0,397.6 L510.5,397.1 L512.0,396.6 L513.5,395.9 L515.0,395.2 L516.5,394.4 L518.0,393.5 L519.5,392.5 L521.0,391.4 L522.5,390.1 L524.0,388.8 L525.5,387.3 L527.0,385.7 L528.5,384.1 L530.0,382.3 L531.5,380.6 L533.0,378.7 L534.5,376.9 L536.0,375.2 L537.5,373.5 L539.0,372.0 L540.5,370.8 L542.0,369.8 L543.5,369.1 L545.0,368.8 L546.5,368.9 L548.0,369.4 L549.5,370.2 L551.0,371.3 L552.5,372.7 L554.0,374.3 L555.5,376.0 L557.0,377.8 L558.5,379.6 L560.0,381.4 L561.5,383.2 L563.0,384.9 L564.5,386.5 L566.0,388.0 L567.5,389.4 L569.0,390.7 L570.5,391.9 L572.0,393.0 L573.5,394.0 L575.0,394.8 L576.5,395.6 L578.0,396.2 L579.5,396.8 L581.0,397.3 L582.5,397.8 L584.0,398.2 L585.5,398.5 L587.0,398.8 L588.5,399.0 L590.0,399.3 L591.5,399.4 L593.0,399.6 L594.5,399.8 L596.0,399.9 L597.5,400.0 L599.0,400.1 L600.5,400.2 L602.0,400.3 L603.5,400.3 L605.0,400.4 L606.5,400.5 L608.0,400.5 L609.5,400.6 L611.0,400.6 L612.5,400.7 L614.0,400.7 L615.5,400.8 L617.0,400.8 L618.5,400.9 L620.0,400.9 L621.5,400.9 L623.0,401.0 L624.5,401.0" fill="none" stroke="#f21c1c" stroke-width="2.1" stroke-dasharray="7,3.6"/>
<path d="M413.0,401.7 L414.5,401.7 L416.0,401.7 L417.5,401.7 L419.0,401.6 L420.5,401.6 L422.0,401.6 L423.5,401.6 L425.0,401.6 L426.5,401.6 L428.0,401.6 L429.5,401.6 L431.0,401.6 L432.5,401.6 L434.0,401.5 L435.5,401.5 L437.0,401.5 L438.5,401.5 L440.0,401.4 L441.5,401.4 L443.0,401.4 L444.5,401.3 L446.0,401.3 L447.5,401.2 L449.0,401.1 L450.5,401.0 L452.0,400.9 L453.5,400.8 L455.0,400.7 L456.5,400.5 L458.0,400.3 L459.5,400.1 L461.0,399.9 L462.5,399.7 L464.0,399.5 L465.5,399.2 L467.0,398.9 L468.5,398.6 L470.0,398.2 L471.5,397.8 L473.0,397.5 L474.5,397.1 L476.0,396.7 L477.5,396.2 L479.0,395.8 L480.5,395.4 L482.0,395.0 L483.5,394.6 L485.0,394.2 L486.5,393.8 L488.0,393.5 L489.5,393.2 L491.0,392.9 L492.5,392.7 L494.0,392.6 L495.5,392.4 L497.0,392.4 L498.5,392.4 L500.0,392.5 L501.5,392.6 L503.0,392.8 L504.5,393.0 L506.0,393.3 L507.5,393.6 L509.0,394.0 L510.5,394.4 L512.0,394.8 L513.5,395.2 L515.0,395.6 L516.5,396.0 L518.0,396.4 L519.5,396.9 L521.0,397.3 L522.5,397.6 L524.0,398.0 L525.5,398.4 L527.0,398.7 L528.5,399.0 L530.0,399.3 L531.5,399.6 L533.0,399.8 L534.5,400.0 L536.0,400.2 L537.5,400.4 L539.0,400.6 L540.5,400.7 L542.0,400.9 L543.5,401.0 L545.0,401.1 L546.5,401.1 L548.0,401.2 L549.5,401.3 L551.0,401.3 L552.5,401.4 L554.0,401.4 L555.5,401.5 L557.0,401.5 L558.5,401.5 L560.0,401.5 L561.5,401.6 L563.0,401.6 L564.5,401.6 L566.0,401.6 L567.5,401.6 L569.0,401.6 L570.5,401.6 L572.0,401.6 L573.5,401.6 L575.0,401.6 L576.5,401.7 L578.0,401.7 L579.5,401.7 L581.0,401.7 L582.5,401.7 L584.0,401.7 L585.5,401.7 L587.0,401.7 L588.5,401.7 L590.0,401.7 L591.5,401.7 L593.0,401.7 L594.5,401.7 L596.0,401.7 L597.5,401.7 L599.0,401.7 L600.5,401.7 L602.0,401.7 L603.5,401.7 L605.0,401.7 L606.5,401.7 L608.0,401.7 L609.5,401.7 L611.0,401.7 L612.5,401.7 L614.0,401.7 L615.5,401.7 L617.0,401.7 L618.5,401.7 L620.0,401.7 L621.5,401.7 L623.0,401.7 L624.5,401.7" fill="none" stroke="#1717f0" stroke-width="2.1" stroke-dasharray="7,3.6"/>
<path d="M413.0,401.2 L414.5,401.2 L416.0,401.1 L417.5,401.1 L419.0,401.1 L420.5,401.1 L422.0,401.1 L423.5,401.0 L425.0,401.0 L426.5,401.0 L428.0,400.9 L429.5,400.9 L431.0,400.9 L432.5,400.8 L434.0,400.8 L435.5,400.8 L437.0,400.7 L438.5,400.7 L440.0,400.6 L441.5,400.5 L443.0,400.4 L444.5,400.3 L446.0,400.2 L447.5,400.1 L449.0,400.0 L450.5,399.8 L452.0,399.7 L453.5,399.5 L455.0,399.3 L456.5,399.0 L458.0,398.7 L459.5,398.4 L461.0,398.1 L462.5,397.7 L464.0,397.3 L465.5,396.8 L467.0,396.3 L468.5,395.8 L470.0,395.2 L471.5,394.6 L473.0,393.9 L474.5,393.2 L476.0,392.4 L477.5,391.6 L479.0,390.8 L480.5,389.9 L482.0,389.0 L483.5,388.1 L485.0,387.2 L486.5,386.2 L488.0,385.3 L489.5,384.3 L491.0,383.4 L492.5,382.5 L494.0,381.6 L495.5,380.8 L497.0,380.0 L498.5,379.2 L500.0,378.5 L501.5,377.8 L503.0,377.1 L504.5,376.5 L506.0,376.0 L507.5,375.4 L509.0,374.9 L510.5,374.4 L512.0,373.9 L513.5,373.3 L515.0,372.8 L516.5,372.3 L518.0,371.7 L519.5,371.1 L521.0,370.4 L522.5,369.7 L524.0,368.9 L525.5,368.1 L527.0,367.2 L528.5,366.2 L530.0,365.3 L531.5,364.2 L533.0,363.2 L534.5,362.2 L536.0,361.2 L537.5,360.4 L539.0,359.7 L540.5,359.2 L542.0,358.9 L543.5,359.0 L545.0,359.4 L546.5,360.2 L548.0,361.3 L549.5,362.8 L551.0,364.5 L552.5,366.4 L554.0,368.6 L555.5,370.8 L557.0,373.0 L558.5,375.2 L560.0,377.5 L561.5,379.6 L563.0,381.6 L564.5,383.6 L566.0,385.4 L567.5,387.0 L569.0,388.6 L570.5,390.0 L572.0,391.2 L573.5,392.4 L575.0,393.4 L576.5,394.3 L578.0,395.0 L579.5,395.7 L581.0,396.3 L582.5,396.9 L584.0,397.3 L585.5,397.7 L587.0,398.1 L588.5,398.4 L590.0,398.6 L591.5,398.8 L593.0,399.0 L594.5,399.2 L596.0,399.4 L597.5,399.5 L599.0,399.6 L600.5,399.7 L602.0,399.8 L603.5,399.9 L605.0,400.0 L606.5,400.1 L608.0,400.2 L609.5,400.2 L611.0,400.3 L612.5,400.4 L614.0,400.4 L615.5,400.5 L617.0,400.5 L618.5,400.6 L620.0,400.6 L621.5,400.6 L623.0,400.7 L624.5,400.7" fill="none" stroke="#7b7b7b" stroke-width="2.1"/>
<path d="M371.0,450.4 L372.0,449.7 L373.0,447.5 L374.0,448.4 L375.0,448.7 L376.0,448.9 L377.0,448.9 L378.0,450.7 L379.0,450.1 L380.0,449.9 L381.0,450.5 L382.0,449.8 L383.0,449.8 L384.0,449.1 L385.0,448.9 L386.0,449.2 L387.0,449.6 L388.0,449.4 L389.0,449.7 L390.0,450.5 L391.0,448.9 L392.0,448.5 L393.0,448.9 L394.0,449.0 L395.0,448.2 L396.0,449.5 L397.0,450.0 L398.0,449.4 L399.0,449.8 L400.0,450.2 L401.0,449.2 L402.0,450.4 L403.0,452.1 L404.0,451.7 L405.0,452.7 L406.0,451.6 L407.0,451.9 L408.0,450.2 L409.0,450.5 L410.0,449.1 L411.0,450.0 L412.0,448.3 L413.0,448.3 L414.0,449.0 L415.0,449.9 L416.0,450.1 L417.0,450.6 L418.0,450.4 L419.0,448.8 L420.0,449.2 L421.0,449.8 L422.0,450.2 L423.0,450.4 L424.0,450.5 L425.0,450.1 L426.0,450.2 L427.0,449.5 L428.0,450.4 L429.0,450.4 L430.0,449.9 L431.0,448.8 L432.0,449.1 L433.0,448.8 L434.0,449.8 L435.0,450.0 L436.0,450.0 L437.0,451.3 L438.0,451.8 L439.0,451.5 L440.0,451.2 L441.0,451.2 L442.0,450.0 L443.0,448.3 L444.0,448.3 L445.0,448.1 L446.0,449.4 L447.0,450.1 L448.0,451.5 L449.0,451.1 L450.0,450.8 L451.0,449.7 L452.0,449.2 L453.0,447.3 L454.0,448.0 L455.0,447.1 L456.0,446.9 L457.0,446.7 L458.0,447.5 L459.0,448.0 L460.0,448.9 L461.0,450.1 L462.0,450.7 L463.0,450.6 L464.0,449.7 L465.0,450.5 L466.0,449.1 L467.0,448.2 L468.0,448.0 L469.0,447.6 L470.0,446.4 L471.0,446.5 L472.0,446.8 L473.0,447.9 L474.0,447.7 L475.0,447.8 L476.0,448.0 L477.0,446.9 L478.0,445.0 L479.0,445.4 L480.0,444.3 L481.0,444.0 L482.0,443.2 L483.0,444.7 L484.0,443.0 L485.0,443.7 L486.0,443.7 L487.0,443.2 L488.0,442.6 L489.0,442.3 L490.0,440.1 L491.0,439.1 L492.0,439.7 L493.0,438.1 L494.0,436.5 L495.0,437.1 L496.0,435.9 L497.0,434.7 L498.0,434.1 L499.0,434.0 L500.0,433.1 L501.0,433.9 L502.0,434.6 L503.0,434.0 L504.0,434.1 L505.0,434.1 L506.0,433.1 L507.0,432.0 L508.0,430.9 L509.0,430.8 L510.0,430.1 L511.0,429.7 L512.0,429.4 L513.0,429.9 L514.0,430.0 L515.0,429.1 L516.0,428.5 L517.0,426.8 L518.0,426.1 L519.0,425.3 L520.0,424.3 L521.0,422.2 L522.0,420.6 L523.0,419.8 L524.0,418.4 L525.0,418.0 L526.0,418.0 L527.0,417.0 L528.0,416.1 L529.0,415.4 L530.0,414.6 L531.0,414.0 L532.0,415.6 L533.0,414.4 L534.0,412.8 L535.0,411.6 L536.0,410.2 L537.0,408.4 L538.0,407.2 L539.0,407.5 L540.0,406.3 L541.0,406.2 L542.0,405.6 L543.0,406.4 L544.0,407.3 L545.0,408.3 L546.0,408.5 L547.0,409.5 L548.0,410.9 L549.0,410.0 L550.0,411.7 L551.0,412.7 L552.0,414.3 L553.0,416.1 L554.0,418.5 L555.0,419.7 L556.0,421.8 L557.0,421.0 L558.0,422.1 L559.0,423.9 L560.0,425.5 L561.0,426.6 L562.0,429.4 L563.0,430.1 L564.0,431.8 L565.0,432.9 L566.0,435.2 L567.0,435.1 L568.0,436.0 L569.0,436.4 L570.0,437.4 L571.0,436.3 L572.0,438.4 L573.0,440.2 L574.0,439.9 L575.0,440.0 L576.0,440.9 L577.0,441.6 L578.0,441.7 L579.0,443.4 L580.0,443.1 L581.0,445.2 L582.0,445.5 L583.0,445.0 L584.0,446.0 L585.0,447.5 L586.0,446.0 L587.0,446.2 L588.0,446.3 L589.0,444.8 L590.0,444.8 L591.0,446.3 L592.0,447.1 L593.0,446.8 L594.0,449.3 L595.0,449.0 L596.0,448.6 L597.0,448.5 L598.0,450.0 L599.0,448.1 L600.0,449.1 L601.0,450.4 L602.0,450.5 L603.0,449.4 L604.0,449.9 L605.0,449.1 L606.0,447.6 L607.0,447.7 L608.0,448.6 L609.0,448.3 L610.0,449.4 L611.0,449.5 L612.0,448.6 L613.0,449.0 L614.0,449.0 L615.0,449.3 L616.0,449.0 L617.0,450.2 L618.0,449.9 L619.0,448.4 L620.0,446.7 L621.0,446.4 L622.0,447.0 L623.0,445.6 L624.0,448.0 L625.0,449.6" fill="none" stroke="#f6b40e" stroke-width="2.0" stroke-linejoin="round"/>
<path d="M428.0,450.1 L429.5,450.1 L431.0,450.1 L432.5,450.1 L434.0,450.1 L435.5,450.0 L437.0,450.0 L438.5,450.0 L440.0,450.0 L441.5,450.0 L443.0,449.9 L444.5,449.9 L446.0,449.9 L447.5,449.8 L449.0,449.8 L450.5,449.7 L452.0,449.7 L453.5,449.6 L455.0,449.5 L456.5,449.5 L458.0,449.4 L459.5,449.2 L461.0,449.1 L462.5,449.0 L464.0,448.8 L465.5,448.6 L467.0,448.5 L468.5,448.2 L470.0,448.0 L471.5,447.7 L473.0,447.4 L474.5,447.1 L476.0,446.8 L477.5,446.4 L479.0,446.0 L480.5,445.5 L482.0,445.1 L483.5,444.6 L485.0,444.0 L486.5,443.5 L488.0,442.9 L489.5,442.3 L491.0,441.6 L492.5,441.0 L494.0,440.3 L495.5,439.7 L497.0,439.0 L498.5,438.3 L500.0,437.7 L501.5,437.0 L503.0,436.4 L504.5,435.8 L506.0,435.3 L507.5,434.8 L509.0,434.3 L510.5,433.9 L512.0,433.5 L513.5,433.3 L515.0,433.1 L516.5,432.9 L518.0,432.9 L519.5,432.9 L521.0,433.1 L522.5,433.3 L524.0,433.5 L525.5,433.9 L527.0,434.3 L528.5,434.8 L530.0,435.3 L531.5,435.8 L533.0,436.4 L534.5,437.0 L536.0,437.7 L537.5,438.3 L539.0,439.0 L540.5,439.7 L542.0,440.3 L543.5,441.0 L545.0,441.6 L546.5,442.3 L548.0,442.9 L549.5,443.5 L551.0,444.0 L552.5,444.6 L554.0,445.1 L555.5,445.5 L557.0,446.0 L558.5,446.4 L560.0,446.8 L561.5,447.1 L563.0,447.4 L564.5,447.7 L566.0,448.0 L567.5,448.2 L569.0,448.5 L570.5,448.6 L572.0,448.8 L573.5,449.0 L575.0,449.1 L576.5,449.2 L578.0,449.4 L579.5,449.5 L581.0,449.5 L582.5,449.6 L584.0,449.7 L585.5,449.7 L587.0,449.8 L588.5,449.8 L590.0,449.9 L591.5,449.9 L593.0,449.9 L594.5,450.0 L596.0,450.0 L597.5,450.0 L599.0,450.0 L600.5,450.0 L602.0,450.1 L603.5,450.1 L605.0,450.1 L606.5,450.1 L608.0,450.1 L609.5,450.1 L611.0,450.1 L612.5,450.1 L614.0,450.1 L615.5,450.1 L617.0,450.2 L618.5,450.2 L620.0,450.2 L621.5,450.2 L623.0,450.2 L624.5,450.2" fill="none" stroke="#a6a6a6" stroke-width="2.1" stroke-dasharray="7,3.6"/>
<path d="M428.0,450.0 L429.5,450.0 L431.0,450.0 L432.5,450.0 L434.0,450.0 L435.5,450.0 L437.0,450.0 L438.5,449.9 L440.0,449.9 L441.5,449.9 L443.0,449.9 L444.5,449.9 L446.0,449.9 L447.5,449.9 L449.0,449.8 L450.5,449.8 L452.0,449.8 L453.5,449.8 L455.0,449.8 L456.5,449.8 L458.0,449.7 L459.5,449.7 L461.0,449.7 L462.5,449.7 L464.0,449.6 L465.5,449.6 L467.0,449.6 L468.5,449.5 L470.0,449.5 L471.5,449.5 L473.0,449.4 L474.5,449.4 L476.0,449.4 L477.5,449.3 L479.0,449.3 L480.5,449.2 L482.0,449.2 L483.5,449.1 L485.0,449.0 L486.5,449.0 L488.0,448.9 L489.5,448.8 L491.0,448.7 L492.5,448.6 L494.0,448.5 L495.5,448.4 L497.0,448.3 L498.5,448.1 L500.0,448.0 L501.5,447.8 L503.0,447.5 L504.5,447.3 L506.0,447.0 L507.5,446.6 L509.0,446.2 L510.5,445.7 L512.0,445.2 L513.5,444.5 L515.0,443.8 L516.5,443.0 L518.0,442.1 L519.5,441.1 L521.0,440.0 L522.5,438.7 L524.0,437.4 L525.5,435.9 L527.0,434.3 L528.5,432.7 L530.0,430.9 L531.5,429.2 L533.0,427.3 L534.5,425.5 L536.0,423.8 L537.5,422.1 L539.0,420.6 L540.5,419.4 L542.0,418.4 L543.5,417.7 L545.0,417.4 L546.5,417.5 L548.0,418.0 L549.5,418.8 L551.0,419.9 L552.5,421.3 L554.0,422.9 L555.5,424.6 L557.0,426.4 L558.5,428.2 L560.0,430.0 L561.5,431.8 L563.0,433.5 L564.5,435.1 L566.0,436.6 L567.5,438.0 L569.0,439.3 L570.5,440.5 L572.0,441.6 L573.5,442.6 L575.0,443.4 L576.5,444.2 L578.0,444.8 L579.5,445.4 L581.0,445.9 L582.5,446.4 L584.0,446.8 L585.5,447.1 L587.0,447.4 L588.5,447.6 L590.0,447.9 L591.5,448.0 L593.0,448.2 L594.5,448.4 L596.0,448.5 L597.5,448.6 L599.0,448.7 L600.5,448.8 L602.0,448.9 L603.5,448.9 L605.0,449.0 L606.5,449.1 L608.0,449.1 L609.5,449.2 L611.0,449.2 L612.5,449.3 L614.0,449.3 L615.5,449.4 L617.0,449.4 L618.5,449.5 L620.0,449.5 L621.5,449.5 L623.0,449.6 L624.5,449.6" fill="none" stroke="#f21c1c" stroke-width="2.1" stroke-dasharray="7,3.6"/>
<path d="M428.0,449.7 L429.5,449.7 L431.0,449.7 L432.5,449.7 L434.0,449.6 L435.5,449.6 L437.0,449.6 L438.5,449.5 L440.0,449.5 L441.5,449.5 L443.0,449.4 L444.5,449.4 L446.0,449.3 L447.5,449.3 L449.0,449.2 L450.5,449.2 L452.0,449.1 L453.5,449.0 L455.0,448.9 L456.5,448.8 L458.0,448.7 L459.5,448.6 L461.0,448.4 L462.5,448.2 L464.0,448.1 L465.5,447.9 L467.0,447.6 L468.5,447.4 L470.0,447.1 L471.5,446.8 L473.0,446.5 L474.5,446.1 L476.0,445.7 L477.5,445.3 L479.0,444.8 L480.5,444.3 L482.0,443.8 L483.5,443.3 L485.0,442.7 L486.5,442.0 L488.0,441.4 L489.5,440.7 L491.0,440.0 L492.5,439.3 L494.0,438.5 L495.5,437.7 L497.0,436.9 L498.5,436.1 L500.0,435.2 L501.5,434.4 L503.0,433.5 L504.5,432.7 L506.0,431.8 L507.5,431.0 L509.0,430.1 L510.5,429.2 L512.0,428.3 L513.5,427.4 L515.0,426.5 L516.5,425.6 L518.0,424.6 L519.5,423.6 L521.0,422.6 L522.5,421.6 L524.0,420.5 L525.5,419.4 L527.0,418.2 L528.5,417.0 L530.0,415.8 L531.5,414.6 L533.0,413.4 L534.5,412.2 L536.0,411.1 L537.5,410.1 L539.0,409.3 L540.5,408.6 L542.0,408.3 L543.5,408.3 L545.0,408.7 L546.5,409.4 L548.0,410.5 L549.5,411.9 L551.0,413.6 L552.5,415.5 L554.0,417.5 L555.5,419.7 L557.0,421.9 L558.5,424.2 L560.0,426.4 L561.5,428.5 L563.0,430.5 L564.5,432.4 L566.0,434.2 L567.5,435.9 L569.0,437.4 L570.5,438.8 L572.0,440.0 L573.5,441.1 L575.0,442.1 L576.5,443.0 L578.0,443.8 L579.5,444.5 L581.0,445.1 L582.5,445.6 L584.0,446.0 L585.5,446.4 L587.0,446.8 L588.5,447.1 L590.0,447.3 L591.5,447.5 L593.0,447.7 L594.5,447.9 L596.0,448.1 L597.5,448.2 L599.0,448.3 L600.5,448.4 L602.0,448.5 L603.5,448.6 L605.0,448.7 L606.5,448.8 L608.0,448.8 L609.5,448.9 L611.0,449.0 L612.5,449.0 L614.0,449.1 L615.5,449.1 L617.0,449.2 L618.5,449.2 L620.0,449.3 L621.5,449.3 L623.0,449.3 L624.5,449.4" fill="none" stroke="#7b7b7b" stroke-width="2.1"/>
<path d="M371.0,499.0 L372.0,498.9 L373.0,499.0 L374.0,499.2 L375.0,498.6 L376.0,498.0 L377.0,498.0 L378.0,496.1 L379.0,495.3 L380.0,495.5 L381.0,495.5 L382.0,494.9 L383.0,494.1 L384.0,494.9 L385.0,495.0 L386.0,496.1 L387.0,494.7 L388.0,496.6 L389.0,497.2 L390.0,497.8 L391.0,498.2 L392.0,500.6 L393.0,500.0 L394.0,500.1 L395.0,499.5 L396.0,497.9 L397.0,498.2 L398.0,498.6 L399.0,497.4 L400.0,497.3 L401.0,497.3 L402.0,496.8 L403.0,497.6 L404.0,499.4 L405.0,500.1 L406.0,500.3 L407.0,500.3 L408.0,499.5 L409.0,498.0 L410.0,497.5 L411.0,498.0 L412.0,498.1 L413.0,498.1 L414.0,498.8 L415.0,498.9 L416.0,497.8 L417.0,496.0 L418.0,496.3 L419.0,496.3 L420.0,496.6 L421.0,498.0 L422.0,498.9 L423.0,498.7 L424.0,498.7 L425.0,497.6 L426.0,496.1 L427.0,495.8 L428.0,495.0 L429.0,494.2 L430.0,494.4 L431.0,495.0 L432.0,495.2 L433.0,495.7 L434.0,495.7 L435.0,494.9 L436.0,495.5 L437.0,494.8 L438.0,495.7 L439.0,493.7 L440.0,494.4 L441.0,494.5 L442.0,493.2 L443.0,492.5 L444.0,494.8 L445.0,495.5 L446.0,494.0 L447.0,496.1 L448.0,496.5 L449.0,495.6 L450.0,496.0 L451.0,497.1 L452.0,496.9 L453.0,496.3 L454.0,497.4 L455.0,496.8 L456.0,497.7 L457.0,497.9 L458.0,497.6 L459.0,496.9 L460.0,497.4 L461.0,496.0 L462.0,495.8 L463.0,496.5 L464.0,496.4 L465.0,493.5 L466.0,493.7 L467.0,493.3 L468.0,492.8 L469.0,492.0 L470.0,494.6 L471.0,494.0 L472.0,493.0 L473.0,491.9 L474.0,492.4 L475.0,490.1 L476.0,489.0 L477.0,490.6 L478.0,491.7 L479.0,491.7 L480.0,493.1 L481.0,493.8 L482.0,490.2 L483.0,489.4 L484.0,488.9 L485.0,487.4 L486.0,484.6 L487.0,486.1 L488.0,485.4 L489.0,483.1 L490.0,481.9 L491.0,483.2 L492.0,481.2 L493.0,479.9 L494.0,479.4 L495.0,478.8 L496.0,477.2 L497.0,475.0 L498.0,472.2 L499.0,473.6 L500.0,472.1 L501.0,472.0 L502.0,473.0 L503.0,474.1 L504.0,470.8 L505.0,469.0 L506.0,466.9 L507.0,463.4 L508.0,460.9 L509.0,460.2 L510.0,458.0 L511.0,457.3 L512.0,458.8 L513.0,459.3 L514.0,457.2 L515.0,457.9 L516.0,455.7 L517.0,453.9 L518.0,453.0 L519.0,455.3 L520.0,454.8 L521.0,457.5 L522.0,458.9 L523.0,458.3 L524.0,458.8 L525.0,458.1 L526.0,457.5 L527.0,458.0 L528.0,460.8 L529.0,461.3 L530.0,466.1 L531.0,467.1 L532.0,468.7 L533.0,469.1 L534.0,469.1 L535.0,468.7 L536.0,469.5 L537.0,469.5 L538.0,468.5 L539.0,470.8 L540.0,471.3 L541.0,470.9 L542.0,472.6 L543.0,474.7 L544.0,474.3 L545.0,477.2 L546.0,479.9 L547.0,480.5 L548.0,480.9 L549.0,481.8 L550.0,480.9 L551.0,482.1 L552.0,485.7 L553.0,487.5 L554.0,487.7 L555.0,490.4 L556.0,491.7 L557.0,490.5 L558.0,491.5 L559.0,493.5 L560.0,493.1 L561.0,494.2 L562.0,494.9 L563.0,495.9 L564.0,495.4 L565.0,495.3 L566.0,494.0 L567.0,494.4 L568.0,494.3 L569.0,494.7 L570.0,495.5 L571.0,498.6 L572.0,499.1 L573.0,497.8 L574.0,498.4 L575.0,498.7 L576.0,496.7 L577.0,496.3 L578.0,498.3 L579.0,498.9 L580.0,497.6 L581.0,498.4 L582.0,498.2 L583.0,497.4 L584.0,496.8 L585.0,496.7 L586.0,495.2 L587.0,495.1 L588.0,494.3 L589.0,492.6 L590.0,494.8 L591.0,494.9 L592.0,494.7 L593.0,496.1 L594.0,496.4 L595.0,496.6 L596.0,497.0 L597.0,498.2 L598.0,497.4 L599.0,499.7 L600.0,498.7 L601.0,499.4 L602.0,497.4 L603.0,496.7 L604.0,496.4 L605.0,497.5 L606.0,497.1 L607.0,499.1 L608.0,500.5 L609.0,501.0 L610.0,500.6 L611.0,499.9 L612.0,499.7 L613.0,499.5 L614.0,498.9 L615.0,497.4 L616.0,498.0 L617.0,497.0 L618.0,496.3 L619.0,498.6 L620.0,500.7 L621.0,501.4 L622.0,502.9 L623.0,503.0 L624.0,498.7 L625.0,495.8" fill="none" stroke="#000" stroke-width="2.3" stroke-linejoin="round"/>
<path d="M428.0,497.9 L429.5,497.9 L431.0,497.9 L432.5,497.8 L434.0,497.8 L435.5,497.8 L437.0,497.7 L438.5,497.7 L440.0,497.6 L441.5,497.6 L443.0,497.5 L444.5,497.4 L446.0,497.4 L447.5,497.3 L449.0,497.2 L450.5,497.1 L452.0,497.0 L453.5,496.8 L455.0,496.7 L456.5,496.5 L458.0,496.3 L459.5,496.1 L461.0,495.9 L462.5,495.6 L464.0,495.4 L465.5,495.0 L467.0,494.7 L468.5,494.3 L470.0,493.8 L471.5,493.3 L473.0,492.7 L474.5,492.1 L476.0,491.4 L477.5,490.7 L479.0,489.9 L480.5,489.0 L482.0,488.1 L483.5,487.0 L485.0,485.9 L486.5,484.7 L488.0,483.5 L489.5,482.2 L491.0,480.8 L492.5,479.3 L494.0,477.8 L495.5,476.2 L497.0,474.6 L498.5,472.9 L500.0,471.2 L501.5,469.6 L503.0,467.9 L504.5,466.2 L506.0,464.6 L507.5,463.1 L509.0,461.6 L510.5,460.3 L512.0,459.1 L513.5,458.1 L515.0,457.2 L516.5,456.6 L518.0,456.2 L519.5,456.0 L521.0,456.0 L522.5,456.3 L524.0,456.8 L525.5,457.6 L527.0,458.5 L528.5,459.6 L530.0,460.9 L531.5,462.3 L533.0,463.8 L534.5,465.4 L536.0,467.0 L537.5,468.7 L539.0,470.4 L540.5,472.1 L542.0,473.8 L543.5,475.5 L545.0,477.1 L546.5,478.7 L548.0,480.2 L549.5,481.7 L551.0,483.1 L552.5,484.4 L554.0,485.7 L555.5,486.9 L557.0,488.0 L558.5,489.0 L560.0,489.9 L561.5,490.8 L563.0,491.6 L564.5,492.4 L566.0,493.1 L567.5,493.7 L569.0,494.2 L570.5,494.8 L572.0,495.2 L573.5,495.6 L575.0,496.0 L576.5,496.3 L578.0,496.6 L579.5,496.9 L581.0,497.2 L582.5,497.4 L584.0,497.6 L585.5,497.8 L587.0,497.9 L588.5,498.1 L590.0,498.2 L591.5,498.3 L593.0,498.5 L594.5,498.6 L596.0,498.7 L597.5,498.7 L599.0,498.8 L600.5,498.9 L602.0,499.0 L603.5,499.1 L605.0,499.1 L606.5,499.2 L608.0,499.2 L609.5,499.3 L611.0,499.4 L612.5,499.4 L614.0,499.5 L615.5,499.5 L617.0,499.6 L618.5,499.6 L620.0,499.6 L621.5,499.7 L623.0,499.7 L624.5,499.8" fill="none" stroke="#9a9a9a" stroke-width="2.1" stroke-dasharray="7,3.6"/>
<path d="M475.5,318.7 L497.3,318.7 L497.3,405.8" fill="none" stroke="#1717f0" stroke-width="2.1" stroke-dasharray="2.1,2.2"/>
<path d="M494.5,299.3 L519.9,299.3 L519.9,501" fill="none" stroke="#a0a0a0" stroke-width="1.9" stroke-dasharray="1.9,2.4"/>
<path d="M565.8,299.3 L545.4,299.3 L545.4,455" fill="none" stroke="#f21c1c" stroke-width="2.1" stroke-dasharray="2.1,2.2"/>
<text x="414.1" y="322" font-size="11.2" fill="#1717f0">Zn<tspan font-size="8" dy="-4.2">2+</tspan><tspan dy="4.2">–CO</tspan><tspan font-size="8" dy="2.6">3</tspan><tspan font-size="8" dy="-6.8">2−</tspan></text>
<text x="443.7" y="302.8" font-size="11.2" fill="#8e8e8e">Zn<tspan font-size="8" dy="-4.2">2+</tspan><tspan dy="4.2">–O</tspan><tspan font-size="8" dy="-4.2">2−</tspan></text>
<text x="569.3" y="302.8" font-size="11.2" fill="#f21c1c">Zn<tspan font-size="8" dy="-4.2">δ−</tspan></text>
<text x="455.4" y="344.8" font-size="11.2" text-anchor="start" fill="#1717f0" font-weight="normal" font-style="normal" >7%</text>
<text x="449.7" y="390.3" font-size="11.2" text-anchor="start" fill="#1717f0" font-weight="normal" font-style="normal" >15%</text>
<text x="571.3" y="336.1" font-size="11.2" text-anchor="start" fill="#f21c1c" font-weight="normal" font-style="normal" >65%</text>
<text x="571.6" y="381.5" font-size="11.2" text-anchor="start" fill="#f21c1c" font-weight="normal" font-style="normal" >57%</text>
<text x="571.6" y="432.2" font-size="11.2" text-anchor="start" fill="#f21c1c" font-weight="normal" font-style="normal" >63%</text>
<rect x="20.4" y="283.7" width="253.9" height="220.5" fill="none" stroke="#111" stroke-width="1.5"/>
<line x1="43.6" y1="504.2" x2="43.6" y2="507.6" stroke="#111" stroke-width="1.3"/>
<text x="43.6" y="519.4" font-size="10.4" text-anchor="middle" fill="#222" font-weight="normal" font-style="normal" >1027</text>
<line x1="89.6" y1="504.2" x2="89.6" y2="507.6" stroke="#111" stroke-width="1.3"/>
<text x="89.6" y="519.4" font-size="10.4" text-anchor="middle" fill="#222" font-weight="normal" font-style="normal" >1025</text>
<line x1="135.6" y1="504.2" x2="135.6" y2="507.6" stroke="#111" stroke-width="1.3"/>
<text x="135.6" y="519.4" font-size="10.4" text-anchor="middle" fill="#222" font-weight="normal" font-style="normal" >1023</text>
<line x1="181.6" y1="504.2" x2="181.6" y2="507.6" stroke="#111" stroke-width="1.3"/>
<text x="181.6" y="519.4" font-size="10.4" text-anchor="middle" fill="#222" font-weight="normal" font-style="normal" >1021</text>
<line x1="227.6" y1="504.2" x2="227.6" y2="507.6" stroke="#111" stroke-width="1.3"/>
<text x="227.6" y="519.4" font-size="10.4" text-anchor="middle" fill="#222" font-weight="normal" font-style="normal" >1019</text>
<line x1="273.6" y1="504.2" x2="273.6" y2="507.6" stroke="#111" stroke-width="1.3"/>
<text x="273.6" y="519.4" font-size="10.4" text-anchor="middle" fill="#222" font-weight="normal" font-style="normal" >1017</text>
<text x="148.3" y="539.2" font-size="10" text-anchor="middle" fill="#222" font-weight="normal" font-style="normal" >Binding energy (eV)</text>
<text transform="translate(10.3,390.6) rotate(-90)" font-size="11.1" text-anchor="middle" fill="#222">Intensity (a.u.)</text>
<line x1="284.4" y1="366.6" x2="284.4" y2="399" stroke="#000" stroke-width="2.8"/>
<path d="M280.0,368.1 L284.4,359.6 L288.79999999999995,368.1 z" fill="#000"/>
<line x1="284.4" y1="415.7" x2="284.4" y2="448.3" stroke="#000" stroke-width="2.8"/>
<path d="M280.0,417.2 L284.4,408.7 L288.79999999999995,417.2 z" fill="#000"/>
<line x1="284.4" y1="466" x2="284.4" y2="498.3" stroke="#000" stroke-width="2.8"/>
<path d="M280.0,467.5 L284.4,459 L288.79999999999995,467.5 z" fill="#000"/>
<text x="303.7" y="321.9" font-size="10" text-anchor="middle" fill="#111" font-weight="normal" font-style="italic" >Sequential</text>
<text x="303.7" y="333.2" font-size="10" text-anchor="middle" fill="#111" font-weight="normal" font-style="italic" >gas</text>
<text x="303.7" y="344.7" font-size="10" text-anchor="middle" fill="#111" font-weight="normal" font-style="italic" >treatment</text>
<text x="314.2" y="367.2" font-size="10" text-anchor="middle" fill="#6aa842">CO<tspan font-size="7" dy="2">2</tspan><tspan dy="-2">+H</tspan><tspan font-size="7" dy="2">2</tspan></text>
<text x="314.2" y="378.2" font-size="10" text-anchor="middle" fill="#6aa842" font-weight="normal" font-style="normal" >533 K</text>
<text x="314.2" y="409.4" font-size="10" text-anchor="middle" fill="#1cb2ea">CO<tspan font-size="7" dy="2">2</tspan></text>
<text x="314.2" y="420.4" font-size="10" text-anchor="middle" fill="#1cb2ea" font-weight="normal" font-style="normal" >533 K</text>
<text x="314.2" y="462.1" font-size="10" text-anchor="middle" fill="#f6b40e">H<tspan font-size="7" dy="2">2</tspan></text>
<text x="314.2" y="472.6" font-size="10" text-anchor="middle" fill="#f6b40e" font-weight="normal" font-style="normal" >673 K</text>
<text x="314.2" y="498" font-size="9" text-anchor="middle" fill="#222" font-weight="normal" font-style="normal" >-</text>
<text x="314.2" y="508.8" font-size="10" text-anchor="middle" fill="#222" font-weight="normal" font-style="normal" >(pristine)</text>
<rect x="371" y="283.7" width="254" height="220.5" fill="none" stroke="#111" stroke-width="1.5"/>
<line x1="371.0" y1="504.2" x2="371.0" y2="507.6" stroke="#111" stroke-width="1.3"/>
<text x="371.0" y="519.4" font-size="10.4" text-anchor="middle" fill="#222" font-weight="normal" font-style="normal" >1029</text>
<line x1="413.3" y1="504.2" x2="413.3" y2="507.6" stroke="#111" stroke-width="1.3"/>
<text x="413.3" y="519.4" font-size="10.4" text-anchor="middle" fill="#222" font-weight="normal" font-style="normal" >1027</text>
<line x1="455.7" y1="504.2" x2="455.7" y2="507.6" stroke="#111" stroke-width="1.3"/>
<text x="455.7" y="519.4" font-size="10.4" text-anchor="middle" fill="#222" font-weight="normal" font-style="normal" >1025</text>
<line x1="498.0" y1="504.2" x2="498.0" y2="507.6" stroke="#111" stroke-width="1.3"/>
<text x="498.0" y="519.4" font-size="10.4" text-anchor="middle" fill="#222" font-weight="normal" font-style="normal" >1023</text>
<line x1="540.3" y1="504.2" x2="540.3" y2="507.6" stroke="#111" stroke-width="1.3"/>
<text x="540.3" y="519.4" font-size="10.4" text-anchor="middle" fill="#222" font-weight="normal" font-style="normal" >1021</text>
<line x1="582.6" y1="504.2" x2="582.6" y2="507.6" stroke="#111" stroke-width="1.3"/>
<text x="582.6" y="519.4" font-size="10.4" text-anchor="middle" fill="#222" font-weight="normal" font-style="normal" >1019</text>
<line x1="625.0" y1="504.2" x2="625.0" y2="507.6" stroke="#111" stroke-width="1.3"/>
<text x="625.0" y="519.4" font-size="10.4" text-anchor="middle" fill="#222" font-weight="normal" font-style="normal" >1017</text>
<text x="499.0" y="539.2" font-size="10" text-anchor="middle" fill="#222" font-weight="normal" font-style="normal" >Binding energy (eV)</text>
<text transform="translate(360.5,390.6) rotate(-90)" font-size="11.1" text-anchor="middle" fill="#222">Intensity (a.u.)</text>
<line x1="634.9" y1="366.6" x2="634.9" y2="399" stroke="#000" stroke-width="2.8"/>
<path d="M630.5,368.1 L634.9,359.6 L639.3,368.1 z" fill="#000"/>
<line x1="634.9" y1="415.7" x2="634.9" y2="448.3" stroke="#000" stroke-width="2.8"/>
<path d="M630.5,417.2 L634.9,408.7 L639.3,417.2 z" fill="#000"/>
<line x1="634.9" y1="466" x2="634.9" y2="498.3" stroke="#000" stroke-width="2.8"/>
<path d="M630.5,467.5 L634.9,459 L639.3,467.5 z" fill="#000"/>
<text x="654.2" y="321.9" font-size="10" text-anchor="middle" fill="#111" font-weight="normal" font-style="italic" >Sequential</text>
<text x="654.2" y="333.2" font-size="10" text-anchor="middle" fill="#111" font-weight="normal" font-style="italic" >gas</text>
<text x="654.2" y="344.7" font-size="10" text-anchor="middle" fill="#111" font-weight="normal" font-style="italic" >treatment</text>
<text x="664.7" y="367.2" font-size="10" text-anchor="middle" fill="#6aa842">CO<tspan font-size="7" dy="2">2</tspan><tspan dy="-2">+H</tspan><tspan font-size="7" dy="2">2</tspan></text>
<text x="664.7" y="378.2" font-size="10" text-anchor="middle" fill="#6aa842" font-weight="normal" font-style="normal" >533 K</text>
<text x="664.7" y="409.4" font-size="10" text-anchor="middle" fill="#1cb2ea">CO<tspan font-size="7" dy="2">2</tspan></text>
<text x="664.7" y="420.4" font-size="10" text-anchor="middle" fill="#1cb2ea" font-weight="normal" font-style="normal" >533 K</text>
<text x="664.7" y="462.1" font-size="10" text-anchor="middle" fill="#f6b40e">H<tspan font-size="7" dy="2">2</tspan></text>
<text x="664.7" y="472.6" font-size="10" text-anchor="middle" fill="#f6b40e" font-weight="normal" font-style="normal" >673 K</text>
<text x="664.7" y="498" font-size="9" text-anchor="middle" fill="#222" font-weight="normal" font-style="normal" >-</text>
<text x="664.7" y="508.8" font-size="10" text-anchor="middle" fill="#222" font-weight="normal" font-style="normal" >(pristine)</text>
<text x="0.8" y="275.5" font-size="12" text-anchor="start" fill="#000" font-weight="bold" font-style="normal" >d</text>
<text x="100.7" y="275.3" font-size="11.4" font-weight="bold" fill="#000">ZnZrO<tspan font-size="8" dy="2.5" font-style="italic">x</tspan><tspan dy="-2.5"> (Zn 2</tspan><tspan font-style="italic">p</tspan><tspan font-size="8" dy="2.5">3/2</tspan><tspan dy="-2.5">)</tspan></text>
<text x="428.8" y="274.8" font-size="11.4" font-weight="bold" fill="#000">Pd/CNT+ZnZrO<tspan font-size="8" dy="2.5" font-style="italic">x</tspan><tspan dy="-2.5"> (Zn 2</tspan><tspan font-style="italic">p</tspan><tspan font-size="8" dy="2.5">3/2</tspan><tspan dy="-2.5">)</tspan></text>
</svg></body></html>
